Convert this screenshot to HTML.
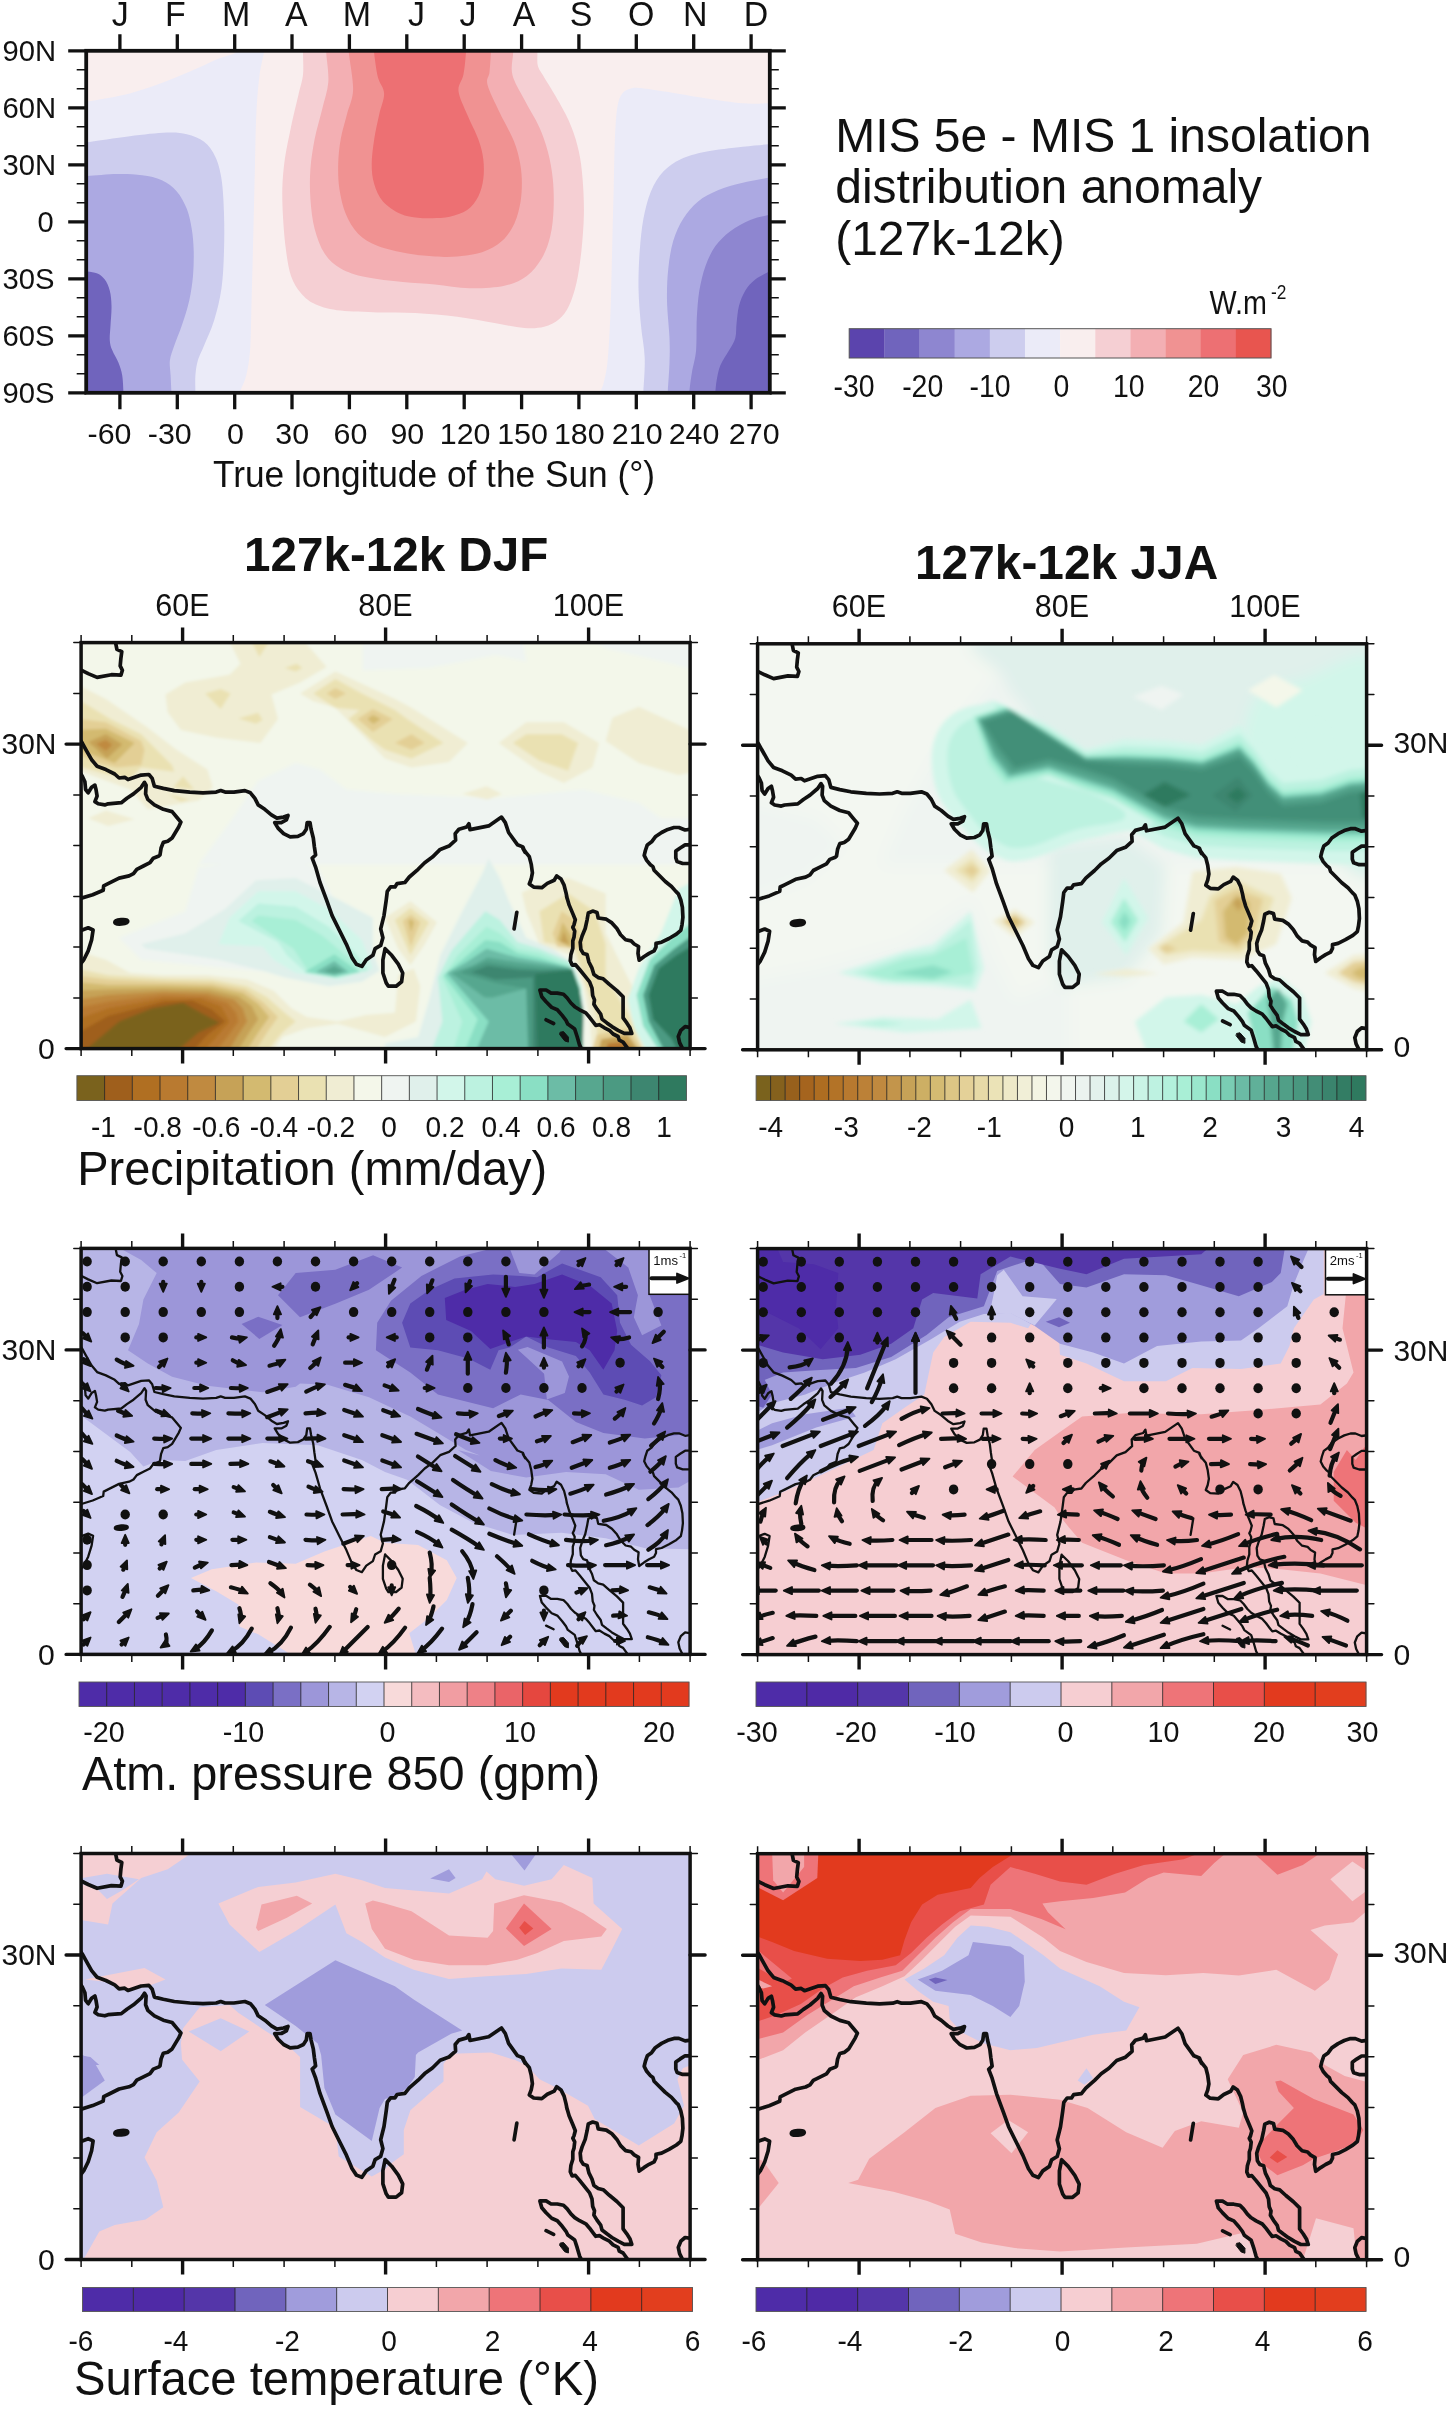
<!DOCTYPE html><html><head><meta charset="utf-8"><title>Figure</title><style>html,body{margin:0;padding:0;background:#fff}svg{display:block}text{font-family:"Liberation Sans",sans-serif;fill:#111}svg{opacity:0.9999}</style></head><body>
<svg width="1450" height="2410" viewBox="0 0 1450 2410">
<rect width="1450" height="2410" fill="#fff"/>
<defs><g id="coast" fill="none" stroke="#111" stroke-linejoin="round" stroke-linecap="round"><path d="M34.7 -1.0 L34.7 1.2 L35.8 6.7 L40.7 9.0 L39.8 15.6 L39.1 23.3 L41.3 27.7 L39.8 32.6 L30.3 32.1 L16.0 34.8 L7.1 31.0 L-1.7 26.6 M-1.7 96.1 L1.2 100.5 L4.9 107.2 L10.5 117.1 L16.0 123.7 L24.8 127.0 L33.6 131.4 L38.0 135.4 L43.6 134.7 L46.9 137.0 L53.5 134.7 L60.1 132.5 L67.8 131.9 L71.1 135.8 L73.3 143.6 L82.2 145.8 L93.2 148.0 L108.7 149.5 L121.9 150.2 L135.1 149.5 L139.6 148.0 L144.0 149.5 L152.8 149.5 L163.8 148.0 L169.3 150.2 L173.8 155.7 L177.1 162.3 L183.7 166.7 L190.3 172.3 L195.8 175.6 L202.5 174.5 L206.9 172.9 L205.3 177.3 L200.2 180.0 L193.6 180.0 L196.9 185.5 L202.5 191.0 L209.1 194.3 L216.8 193.7 L222.3 191.0 L225.2 186.6 L226.1 180.0 L228.9 180.0 L230.0 186.6 L232.2 195.4 L233.3 204.3 L234.5 212.4 L231.1 215.6 L234.5 224.5 L238.9 239.9 L245.5 257.6 L251.0 273.0 L258.7 288.5 L265.3 301.7 L270.9 315.0 L275.3 321.6 L280.8 323.8 L285.2 317.2 L291.8 312.7 L294.0 306.1 L299.6 302.8 L301.8 295.1 L299.6 286.3 L302.9 273.0 L305.1 257.6 L306.2 248.7 L309.5 244.3 L313.9 244.3 L316.0 241.0 L323.8 239.9 L328.2 234.4 L337.0 226.7 L343.6 220.1 L351.3 214.5 L359.1 206.8 L367.9 203.5 L374.5 197.6 L374.1 191.0 L377.8 186.6 L385.6 184.4 L387.8 181.1 L388.9 187.0 L407.6 183.3 L420.4 174.5 L424.2 180.0 L427.5 189.9 L436.3 202.1 L441.8 204.3 L444.0 209.8 L441.8 205.7 L445.1 210.3 L448.2 214.1 L450.1 221.5 L451.3 230.2 L450.1 236.4 L448.2 241.4 L452.6 244.5 L460.7 245.1 L466.2 240.8 L473.1 237.6 L475.6 233.3 L479.9 236.4 L483.0 242.6 L484.9 250.1 L486.1 256.1 L485.5 253.6 L488.0 262.3 L491.7 271.0 L494.2 277.2 L492.9 282.2 L491.7 284.7 L493.6 288.4 L492.9 294.6 L491.7 298.3 L491.7 305.8 L489.8 312.0 L489.2 318.2 L491.1 322.5 L494.2 321.9 L498.5 326.9 L503.5 333.1 L508.5 339.3 L510.9 345.5 L511.6 353.0 L513.4 357.3 L512.8 361.6 L515.9 366.6 L519.6 371.6 L520.9 376.5 L525.8 380.3 L530.8 384.0 L537.0 387.7 L543.2 390.8 L550.7 390.8 L548.8 385.2 L545.7 380.3 L542.0 375.3 L542.0 365.4 L542.0 354.2 L535.8 348.0 L528.3 341.8 L522.1 336.2 L517.1 335.0 L512.8 331.9 L510.9 325.6 L507.8 319.4 L506.0 312.0 L502.2 310.8 L499.8 307.0 L499.1 299.6 L501.0 293.4 L504.1 285.9 L506.0 277.2 L507.2 270.4 L511.6 268.5 L515.9 269.8 L517.1 275.4 L525.2 276.6 L530.8 280.3 L535.8 285.9 L539.5 292.1 L544.5 297.1 L550.0 298.3 L553.1 301.4 L557.5 303.9 L556.9 310.8 L558.1 317.6 L563.1 313.9 L568.0 310.8 L573.0 308.3 L574.9 304.5 L574.9 300.8 L580.5 299.6 L587.9 295.9 L595.3 291.5 L599.7 287.8 L600.9 282.2 L601.8 274.8 L601.3 264.8 L599.7 257.4 L597.2 251.2 L594.7 248.8 L590.4 243.9 L584.2 238.9 L578.0 232.7 L573.0 227.7 L571.8 224.0 L569.3 222.1 L565.6 217.8 L563.1 212.8 L564.3 207.9 L566.2 202.3 L570.5 199.2 L574.2 194.2 L580.5 189.9 L586.7 186.8 L592.9 184.9 L597.8 184.9 L604.0 187.4 L610.2 186.5 M-1.7 129.2 L1.2 133.6 L3.8 139.2 L4.5 146.9 L7.1 150.2 L10.5 144.7 L13.8 142.5 L14.9 146.9 L16.0 153.5 L13.8 159.0 L17.1 161.2 L23.7 162.3 L27.0 161.2 L40.2 160.1 L45.8 155.7 L52.4 151.3 L60.1 144.7 L63.4 139.8 L65.0 142.5 L64.5 151.3 L66.7 156.8 L73.3 162.3 L82.2 166.7 L91.0 169.0 L96.5 175.6 L99.8 179.5 L97.6 184.4 L94.3 189.9 L91.0 195.4 L86.6 198.7 L82.2 199.8 L80.0 205.4 L78.9 212.4 L77.8 213.4 L72.2 215.6 L68.9 220.1 L62.3 223.4 L55.7 226.7 L52.4 231.1 L48.0 233.3 L38.0 235.5 L27.0 241.0 L22.6 243.2 L22.1 247.6 L11.6 252.1 L-1.7 256.2 M-1.7 288.5 L1.2 287.4 L7.1 285.2 L12.0 287.4 L10.5 297.3 L7.1 308.3 L2.7 317.2 L-1.7 322.7 M304.0 306.1 L310.6 312.7 L317.2 321.6 L321.6 330.4 L320.5 339.2 L315.0 343.6 L307.3 343.6 L305.1 340.3 L301.8 330.4 L301.8 317.2 L304.0 306.1 M435.7 269.7 L433.0 286.3 M546.9 406.3 L542.0 399.5 L538.2 397.6 L537.0 393.9 L532.0 391.4 L528.3 387.7 L523.3 385.2 L518.4 382.1 L514.7 382.8 L512.2 379.6 L508.5 374.7 L504.7 370.3 L498.5 367.2 L493.6 364.1 L489.8 360.4 L486.1 355.4 L482.4 351.7 L476.2 350.5 L470.0 350.5 L465.0 347.4 L458.8 347.4 L460.7 354.2 L465.0 359.2 L470.6 364.8 L476.2 367.2 L481.1 372.8 L484.9 377.8 L486.7 381.5 L493.6 386.5 L496.0 393.9 L498.5 402.6 L500.4 406.3 M465.0 377.2 L472.5 380.9 M610.2 385.0 L604.0 384.0 L599.7 387.7 L597.2 393.9 L598.5 400.1 L601.6 406.3 M610.2 202.3 L604.0 202.3 L599.1 205.4 L594.7 208.5 L594.7 215.3 L596.0 219.0 L601.6 220.9 L610.2 220.9"/><ellipse cx="40.2" cy="279.2" rx="6.5" ry="2.2" fill="#111" transform="rotate(-5 40.2 279.2)"/><path d="M479.3 389.6 L482.4 389.0 L487.3 394.5 L487.3 399.5 L483.6 398.3 L478.7 392.1Z" fill="#111" stroke-width="1"/></g>
<clipPath id="clip_p1l"><rect x="81.1" y="642.6" width="609.0" height="406.0"/></clipPath>
<clipPath id="clip_p1r"><rect x="757.6" y="643.8" width="609.0" height="406.0"/></clipPath>
<clipPath id="clip_p2l"><rect x="81.1" y="1248.4" width="609.0" height="406.0"/></clipPath>
<clipPath id="clip_p2r"><rect x="757.6" y="1248.6" width="609.0" height="406.0"/></clipPath>
<clipPath id="clip_p3l"><rect x="81.1" y="1853.5" width="609.0" height="406.0"/></clipPath>
<clipPath id="clip_p3r"><rect x="757.6" y="1853.7" width="609.0" height="406.0"/></clipPath></defs>
<clipPath id="clip_top"><rect x="86.2" y="50.8" width="683.5999999999999" height="342.0"/></clipPath>
<g clip-path="url(#clip_top)">
<rect x="86.2" y="50.8" width="683.5999999999999" height="342.0" fill="#f9eeee"/>
<path d="M80.0 102.6C81.2 102.4 79.2 103.1 87.4 101.6C95.7 100.0 116.4 96.8 129.7 93.4C142.9 89.9 155.7 85.1 166.9 81.0C178.1 76.8 188.0 72.3 196.7 68.6C205.4 64.8 212.8 61.1 219.0 58.6C225.2 56.1 230.6 55.1 233.9 53.7C237.2 52.2 238.1 50.6 238.9 49.9 L265.0 49.9 " fill="none"/>
<path d="M80.0 102.6C81.2 102.4 79.2 103.1 87.4 101.6C95.7 100.0 116.4 96.8 129.7 93.4C142.9 89.9 155.7 85.1 166.9 81.0C178.1 76.8 188.0 72.3 196.7 68.6C205.4 64.8 212.8 61.1 219.0 58.6C225.2 56.1 230.6 55.1 233.9 53.7C237.2 52.2 238.1 50.6 238.9 49.9 L265.0 49.9C264.8 50.6 264.7 49.1 263.7 53.7C262.8 58.2 260.5 67.1 259.3 77.2C258.0 87.4 257.0 100.0 256.3 114.5C255.6 129.0 255.4 147.6 255.0 164.1C254.6 180.7 254.2 197.2 253.8 213.8C253.4 230.3 253.0 246.9 252.6 263.4C252.1 280.0 251.7 298.6 251.3 313.1C250.9 327.6 250.9 340.0 250.1 350.3C249.2 360.7 248.0 368.3 246.3 375.2C244.7 382.0 241.4 387.6 240.1 391.3C238.9 395.0 239.1 396.5 238.9 397.5 L80.0 397.5Z" fill="#ebebf8"/>
<path d="M80.0 143.3C81.2 143.1 79.2 143.4 87.4 142.3C95.7 141.1 116.4 137.9 129.7 136.3C142.9 134.7 157.4 132.9 166.9 132.6C176.4 132.3 180.6 132.8 186.8 134.3C193.0 135.9 199.4 138.1 204.1 141.8C208.9 145.5 212.4 150.5 215.3 156.7C218.2 162.9 220.1 169.5 221.5 179.0C223.0 188.6 223.6 201.8 224.0 213.8C224.4 225.8 224.4 238.6 224.0 251.0C223.6 263.4 223.2 276.7 221.5 288.3C219.9 299.9 217.0 311.0 214.1 320.6C211.2 330.1 206.8 338.8 204.1 345.4C201.4 352.0 199.4 355.3 197.9 360.3C196.5 365.2 195.9 370.0 195.4 375.2C195.0 380.3 195.4 387.6 195.4 391.3C195.4 395.0 195.4 396.5 195.4 397.5 L195.4 400 L70 400 L70 143.3Z" fill="#cdcdee"/>
<path d="M80.0 176.3C81.2 176.3 81.2 176.4 87.4 176.1C93.7 175.7 108.1 174.2 117.2 174.1C126.3 173.9 134.6 174.3 142.1 175.3C149.5 176.3 156.1 177.6 161.9 180.3C167.7 183.0 172.7 186.7 176.8 191.4C181.0 196.2 184.3 202.6 186.8 208.8C189.2 215.0 190.6 221.7 191.7 228.7C192.9 235.7 193.5 243.2 193.7 251.0C193.9 258.9 193.7 267.6 193.0 275.9C192.2 284.1 191.1 292.4 189.2 300.7C187.4 309.0 184.3 318.1 181.8 325.5C179.3 333.0 176.3 339.6 174.3 345.4C172.4 351.2 170.5 355.3 169.9 360.3C169.3 365.2 170.4 370.0 170.6 375.2C170.9 380.3 171.2 387.6 171.4 391.3C171.5 395.0 171.4 396.5 171.4 397.5 L171.4 400 L70 400 L70 176.3Z" fill="#aca9e2"/>
<path d="M80.0 270.9C81.2 271.0 84.6 271.0 87.4 271.4C90.3 271.8 94.5 272.0 97.4 273.4C100.3 274.7 102.8 276.7 104.8 279.6C106.9 282.5 108.7 286.4 109.8 290.8C110.9 295.1 111.4 299.9 111.5 305.7C111.7 311.4 110.8 319.7 110.5 325.5C110.2 331.3 109.5 336.3 109.8 340.4C110.1 344.6 110.8 346.6 112.3 350.3C113.7 354.1 116.8 358.6 118.5 362.8C120.1 366.9 121.4 370.4 122.2 375.2C123.0 379.9 123.2 387.6 123.4 391.3C123.7 395.0 123.7 396.5 123.7 397.5 L123.7 400 L70 400 L70 270.9Z" fill="#7064bd"/>
<path d="M303.0 47.4C303.0 48.5 303.0 49.1 303.0 53.7C303.0 58.2 303.7 67.9 303.0 74.8C302.2 81.6 300.5 85.9 298.5 94.6C296.5 103.3 293.3 116.1 291.0 126.9C288.8 137.7 286.3 148.8 284.8 159.2C283.4 169.5 282.6 179.0 282.3 189.0C282.1 198.9 282.5 208.4 283.1 218.8C283.7 229.1 284.7 241.5 286.1 251.0C287.4 260.6 288.6 268.8 291.0 275.9C293.5 282.9 296.8 288.5 301.0 293.2C305.1 298.0 309.2 301.5 315.9 304.4C322.5 307.3 330.3 309.3 340.7 310.6C351.0 311.9 365.5 311.9 377.9 312.4C390.3 312.8 402.0 312.4 415.2 313.1C428.4 313.8 444.0 315.2 457.2 316.8C470.5 318.5 483.3 321.2 494.5 323.0C505.7 324.9 516.0 327.4 524.3 328.0C532.6 328.6 538.3 328.2 544.1 326.8C549.9 325.3 554.9 322.8 559.0 319.3C563.2 315.8 566.1 311.7 569.0 305.7C571.9 299.7 574.3 292.4 576.4 283.3C578.5 274.2 580.1 262.6 581.4 251.0C582.6 239.4 583.7 225.8 583.9 213.8C584.1 201.8 583.4 189.4 582.6 179.0C581.8 168.7 580.8 160.4 578.9 151.7C577.0 143.0 574.8 135.2 571.4 126.9C568.1 118.6 563.6 110.3 559.0 102.1C554.5 93.8 547.7 83.2 544.1 77.2C540.6 71.2 539.0 70.0 537.9 66.1C536.8 62.1 537.5 56.8 537.4 53.7C537.4 50.6 537.4 48.5 537.4 47.4 L537.4 30 L303.0 30Z" fill="#f5cfd3"/>
<path d="M326.3 47.4C326.3 48.5 326.0 47.9 326.3 53.7C326.6 59.4 329.0 72.9 328.3 82.2C327.6 91.5 324.3 100.0 322.1 109.5C319.8 119.0 316.6 129.4 314.6 139.3C312.7 149.2 311.1 159.2 310.4 169.1C309.7 179.0 309.7 189.0 310.4 198.9C311.1 208.8 312.3 219.6 314.6 228.7C317.0 237.8 320.2 246.9 324.6 253.5C328.9 260.1 333.9 264.5 340.7 268.4C347.5 272.3 355.2 274.8 365.5 277.1C375.9 279.4 391.2 280.8 402.8 282.1C414.3 283.3 423.7 283.5 434.9 284.6C446.0 285.6 458.1 288.1 469.7 288.3C481.2 288.5 494.9 287.9 504.4 285.8C513.9 283.7 520.6 280.4 526.8 275.9C533.0 271.3 537.7 265.1 541.7 258.5C545.6 251.9 548.4 244.4 550.3 236.1C552.3 227.9 553.2 218.3 553.6 208.8C554.0 199.3 553.8 188.6 552.8 179.0C551.9 169.5 550.1 160.4 547.9 151.7C545.6 143.0 543.1 135.6 539.2 126.9C535.2 118.2 528.7 108.3 524.3 99.6C519.8 90.9 514.2 82.4 512.4 74.8C510.5 67.1 513.0 58.2 513.1 53.7C513.2 49.1 513.1 48.5 513.1 47.4 L513.1 30 L326.3 30Z" fill="#f3afb3"/>
<path d="M348.9 47.4C348.9 48.5 348.2 46.6 348.9 53.7C349.6 60.7 353.4 79.5 353.1 89.7C352.8 99.8 349.0 106.2 346.9 114.5C344.8 122.8 342.1 131.0 340.7 139.3C339.2 147.6 338.4 155.9 338.2 164.1C338.0 172.4 338.2 180.7 339.4 189.0C340.7 197.2 342.6 206.3 345.7 213.8C348.8 221.2 352.7 228.3 358.1 233.7C363.4 239.0 369.7 242.8 377.9 246.1C386.2 249.4 398.2 251.8 407.7 253.5C417.2 255.3 426.6 256.0 434.9 256.5C443.1 257.0 449.4 257.2 457.2 256.5C465.1 255.8 474.6 254.8 482.1 252.3C489.5 249.7 496.6 245.9 501.9 241.1C507.3 236.3 511.2 230.3 514.3 223.7C517.4 217.1 519.3 208.8 520.6 201.4C521.8 193.9 522.0 186.1 521.8 179.0C521.6 172.0 520.8 165.8 519.3 159.2C517.9 152.6 516.4 147.2 513.1 139.3C509.8 131.4 503.7 121.1 499.4 112.0C495.2 102.9 489.2 91.3 487.5 84.7C485.9 78.1 489.0 77.4 489.5 72.3C490.1 67.1 490.6 57.8 490.8 53.7C491.0 49.5 490.8 48.5 490.8 47.4 L490.8 30 L348.9 30Z" fill="#f09292"/>
<path d="M374.2 47.4C374.2 48.5 373.6 48.7 374.2 53.7C374.8 58.6 376.3 70.6 377.9 77.2C379.6 83.9 383.9 87.2 384.1 93.4C384.3 99.6 380.8 106.8 379.2 114.5C377.5 122.1 375.4 131.0 374.2 139.3C373.0 147.6 371.7 156.7 371.7 164.1C371.7 171.6 372.3 177.8 374.2 184.0C376.1 190.2 378.6 196.4 382.9 201.4C387.2 206.3 394.5 211.1 400.3 213.8C406.1 216.5 412.3 217.0 417.7 217.8C423.0 218.5 427.1 218.4 432.4 218.3C437.8 218.1 444.0 218.1 449.8 216.8C455.6 215.4 462.4 213.5 467.2 210.1C471.9 206.7 475.7 201.6 478.3 196.4C481.0 191.2 482.5 185.2 483.3 179.0C484.1 172.8 484.1 165.8 483.3 159.2C482.5 152.6 481.0 146.8 478.3 139.3C475.7 131.9 470.5 122.6 467.2 114.5C463.9 106.4 459.1 97.5 458.5 90.9C457.9 84.3 462.2 81.0 463.4 74.8C464.7 68.6 465.5 58.2 465.9 53.7C466.3 49.1 465.9 48.5 465.9 47.4 L465.9 30 L374.2 30Z" fill="#ed7073"/>
<path d="M777.5 103.6C776.0 103.5 774.1 103.4 768.3 103.3C762.5 103.3 753.2 104.1 742.8 103.3C732.3 102.5 717.9 100.2 705.5 98.3C693.1 96.5 678.6 93.8 668.3 92.1C657.9 90.5 649.7 89.0 643.4 88.4C637.2 87.8 634.6 87.6 631.0 88.4C627.5 89.2 624.6 90.3 622.3 93.4C620.1 96.5 618.6 99.4 617.4 107.0C616.1 114.7 615.5 125.7 614.9 139.3C614.3 153.0 614.1 172.4 613.7 189.0C613.2 205.5 612.8 222.1 612.4 238.6C612.0 255.2 611.6 273.8 611.2 288.3C610.8 302.8 610.6 313.1 609.9 325.5C609.3 337.9 608.5 353.2 607.4 362.8C606.4 372.3 604.8 377.9 603.7 382.6C602.6 387.4 601.4 388.8 600.7 391.3C600.1 393.8 600.1 396.5 600.0 397.5 L600.0 400 L790 400 L790 103.6Z" fill="#ebebf8"/>
<path d="M777.5 143.8C776.0 143.9 774.1 143.8 768.3 144.3C762.5 144.8 753.2 145.5 742.8 146.8C732.3 148.0 715.9 149.7 705.5 151.7C695.2 153.8 687.7 155.9 680.7 159.2C673.7 162.5 668.3 166.2 663.3 171.6C658.3 177.0 654.2 183.6 650.9 191.4C647.6 199.3 645.3 208.8 643.4 218.8C641.6 228.7 640.6 239.4 639.7 251.0C638.9 262.6 638.3 275.9 638.5 288.3C638.7 300.7 639.9 313.9 641.0 325.5C642.0 337.1 644.3 346.8 644.7 357.8C645.1 368.8 643.7 384.7 643.4 391.3C643.2 397.9 643.4 396.5 643.4 397.5 L643.4 400 L790 400 L790 143.8Z" fill="#cdcdee"/>
<path d="M777.5 176.1C776.0 176.3 774.1 176.7 768.3 177.8C762.5 178.9 751.2 180.7 742.8 182.8C734.4 184.8 725.4 187.1 717.9 190.2C710.5 193.3 703.9 196.6 698.1 201.4C692.3 206.1 687.3 212.1 683.2 218.8C679.0 225.4 675.7 232.8 673.2 241.1C670.8 249.4 669.3 258.5 668.3 268.4C667.2 278.3 666.8 289.1 667.0 300.7C667.2 312.3 669.1 327.6 669.5 337.9C669.9 348.3 669.8 353.9 669.5 362.8C669.2 371.7 668.1 385.5 667.8 391.3C667.5 397.1 667.8 396.5 667.8 397.5 L667.8 400 L790 400 L790 176.1Z" fill="#aca9e2"/>
<path d="M777.5 213.0C776.0 213.4 772.9 213.9 768.3 215.0C763.8 216.2 756.5 217.3 750.2 220.0C743.9 222.7 736.1 226.8 730.3 231.2C724.6 235.5 719.6 240.3 715.4 246.1C711.3 251.9 708.2 258.5 705.5 265.9C702.8 273.4 700.8 282.1 699.3 290.8C697.9 299.4 697.4 308.1 696.8 318.1C696.3 328.0 696.9 341.2 696.1 350.3C695.3 359.4 693.0 365.9 691.9 372.7C690.7 379.5 689.8 387.2 689.4 391.3C689.0 395.4 689.4 396.5 689.4 397.5 L689.4 400 L790 400 L790 213.0Z" fill="#8e86d0"/>
<path d="M777.5 267.2C776.0 268.0 772.1 270.1 768.3 272.1C764.6 274.2 759.0 276.5 755.2 279.6C751.3 282.7 747.9 286.4 745.2 290.8C742.6 295.1 740.5 300.3 739.0 305.7C737.6 311.0 737.2 317.7 736.6 323.0C735.9 328.4 736.6 333.4 735.3 337.9C734.1 342.5 731.6 345.8 729.1 350.3C726.6 354.9 722.5 360.3 720.4 365.2C718.3 370.2 717.5 375.8 716.7 380.1C715.9 384.5 715.7 388.4 715.4 391.3C715.2 394.2 715.4 396.5 715.4 397.5 L715.4 400 L790 400 L790 267.2Z" fill="#7064bd"/>
</g>
<rect x="86.2" y="50.8" width="683.5999999999999" height="342.0" fill="none" stroke="#111" stroke-width="3.8"/>
<path d="M119.9 50.8v-16.5M119.9 392.8v16.5M177.3 50.8v-16.5M177.3 392.8v16.5M234.7 50.8v-16.5M234.7 392.8v16.5M292.0 50.8v-16.5M292.0 392.8v16.5M349.4 50.8v-16.5M349.4 392.8v16.5M406.8 50.8v-16.5M406.8 392.8v16.5M464.2 50.8v-16.5M464.2 392.8v16.5M521.6 50.8v-16.5M521.6 392.8v16.5M578.9 50.8v-16.5M578.9 392.8v16.5M636.3 50.8v-16.5M636.3 392.8v16.5M693.7 50.8v-16.5M693.7 392.8v16.5M751.1 50.8v-16.5M751.1 392.8v16.5" stroke="#111" stroke-width="3.3" fill="none"/>
<text x="120.3" y="25.6" font-size="35" text-anchor="middle" font-weight="normal" textLength="17.0" lengthAdjust="spacingAndGlyphs" >J</text>
<text x="175.4" y="25.6" font-size="35" text-anchor="middle" font-weight="normal" textLength="20.7" lengthAdjust="spacingAndGlyphs" >F</text>
<text x="236.1" y="25.6" font-size="35" text-anchor="middle" font-weight="normal" textLength="28.3" lengthAdjust="spacingAndGlyphs" >M</text>
<text x="296.3" y="25.6" font-size="35" text-anchor="middle" font-weight="normal" textLength="22.6" lengthAdjust="spacingAndGlyphs" >A</text>
<text x="357.0" y="25.6" font-size="35" text-anchor="middle" font-weight="normal" textLength="28.3" lengthAdjust="spacingAndGlyphs" >M</text>
<text x="416.6" y="25.6" font-size="35" text-anchor="middle" font-weight="normal" textLength="17.0" lengthAdjust="spacingAndGlyphs" >J</text>
<text x="467.9" y="25.6" font-size="35" text-anchor="middle" font-weight="normal" textLength="17.0" lengthAdjust="spacingAndGlyphs" >J</text>
<text x="524.1" y="25.6" font-size="35" text-anchor="middle" font-weight="normal" textLength="22.6" lengthAdjust="spacingAndGlyphs" >A</text>
<text x="581.0" y="25.6" font-size="35" text-anchor="middle" font-weight="normal" textLength="22.6" lengthAdjust="spacingAndGlyphs" >S</text>
<text x="641.1" y="25.6" font-size="35" text-anchor="middle" font-weight="normal" textLength="26.4" lengthAdjust="spacingAndGlyphs" >O</text>
<text x="695.2" y="25.6" font-size="35" text-anchor="middle" font-weight="normal" textLength="24.5" lengthAdjust="spacingAndGlyphs" >N</text>
<text x="755.9" y="25.6" font-size="35" text-anchor="middle" font-weight="normal" textLength="24.5" lengthAdjust="spacingAndGlyphs" >D</text>
<text x="109.5" y="444.4" font-size="30.4" text-anchor="middle" font-weight="normal" textLength="43.9" lengthAdjust="spacingAndGlyphs" >-60</text>
<text x="169.8" y="444.4" font-size="30.4" text-anchor="middle" font-weight="normal" textLength="43.9" lengthAdjust="spacingAndGlyphs" >-30</text>
<text x="235.4" y="444.4" font-size="30.4" text-anchor="middle" font-weight="normal" textLength="16.9" lengthAdjust="spacingAndGlyphs" >0</text>
<text x="292.2" y="444.4" font-size="30.4" text-anchor="middle" font-weight="normal" textLength="33.8" lengthAdjust="spacingAndGlyphs" >30</text>
<text x="350.5" y="444.4" font-size="30.4" text-anchor="middle" font-weight="normal" textLength="33.8" lengthAdjust="spacingAndGlyphs" >60</text>
<text x="407.3" y="444.4" font-size="30.4" text-anchor="middle" font-weight="normal" textLength="33.8" lengthAdjust="spacingAndGlyphs" >90</text>
<text x="465.1" y="444.4" font-size="30.4" text-anchor="middle" font-weight="normal" textLength="50.7" lengthAdjust="spacingAndGlyphs" >120</text>
<text x="522.5" y="444.4" font-size="30.4" text-anchor="middle" font-weight="normal" textLength="50.7" lengthAdjust="spacingAndGlyphs" >150</text>
<text x="579.3" y="444.4" font-size="30.4" text-anchor="middle" font-weight="normal" textLength="50.7" lengthAdjust="spacingAndGlyphs" >180</text>
<text x="637.2" y="444.4" font-size="30.4" text-anchor="middle" font-weight="normal" textLength="50.7" lengthAdjust="spacingAndGlyphs" >210</text>
<text x="694.0" y="444.4" font-size="30.4" text-anchor="middle" font-weight="normal" textLength="50.7" lengthAdjust="spacingAndGlyphs" >240</text>
<text x="754.2" y="444.4" font-size="30.4" text-anchor="middle" font-weight="normal" textLength="50.7" lengthAdjust="spacingAndGlyphs" >270</text>
<path d="M86.2 50.8h-18M769.8 50.8h16M86.2 107.8h-18M769.8 107.8h16M86.2 164.8h-18M769.8 164.8h16M86.2 221.8h-18M769.8 221.8h16M86.2 278.8h-18M769.8 278.8h16M86.2 335.8h-18M769.8 335.8h16M86.2 392.8h-18M769.8 392.8h16" stroke="#111" stroke-width="3.3" fill="none"/>
<path d="M86.2 69.8h-9.5M769.8 69.8h9M86.2 88.8h-9.5M769.8 88.8h9M86.2 126.8h-9.5M769.8 126.8h9M86.2 145.8h-9.5M769.8 145.8h9M86.2 183.8h-9.5M769.8 183.8h9M86.2 202.8h-9.5M769.8 202.8h9M86.2 240.8h-9.5M769.8 240.8h9M86.2 259.8h-9.5M769.8 259.8h9M86.2 297.8h-9.5M769.8 297.8h9M86.2 316.8h-9.5M769.8 316.8h9M86.2 354.8h-9.5M769.8 354.8h9M86.2 373.8h-9.5M769.8 373.8h9" stroke="#111" stroke-width="1.6" fill="none"/>
<text x="2.5" y="60.7" font-size="29.8" text-anchor="start" font-weight="normal" textLength="53.6" lengthAdjust="spacingAndGlyphs" >90N</text>
<text x="2.5" y="117.7" font-size="29.8" text-anchor="start" font-weight="normal" textLength="53.6" lengthAdjust="spacingAndGlyphs" >60N</text>
<text x="2.5" y="174.7" font-size="29.8" text-anchor="start" font-weight="normal" textLength="53.6" lengthAdjust="spacingAndGlyphs" >30N</text>
<text x="37.5" y="231.7" font-size="29.8" text-anchor="start" font-weight="normal" textLength="16.2" lengthAdjust="spacingAndGlyphs" >0</text>
<text x="2.5" y="288.7" font-size="29.8" text-anchor="start" font-weight="normal" textLength="52.0" lengthAdjust="spacingAndGlyphs" >30S</text>
<text x="2.5" y="345.7" font-size="29.8" text-anchor="start" font-weight="normal" textLength="52.0" lengthAdjust="spacingAndGlyphs" >60S</text>
<text x="2.5" y="402.7" font-size="29.8" text-anchor="start" font-weight="normal" textLength="52.0" lengthAdjust="spacingAndGlyphs" >90S</text>
<text x="213" y="486.8" font-size="36.2" text-anchor="start" font-weight="normal" textLength="442" lengthAdjust="spacingAndGlyphs" >True longitude of the Sun (°)</text>
<text x="835.2" y="151.7" font-size="48" text-anchor="start" font-weight="normal" >MIS 5e - MIS 1 insolation</text>
<text x="835.2" y="203.2" font-size="48" text-anchor="start" font-weight="normal" >distribution anomaly</text>
<text x="835.2" y="254.8" font-size="48" text-anchor="start" font-weight="normal" >(127k-12k)</text>
<rect x="849.20" y="328.7" width="35.45" height="29.3" fill="#5b44ad"/>
<rect x="884.35" y="328.7" width="35.45" height="29.3" fill="#7064bd"/>
<rect x="919.50" y="328.7" width="35.45" height="29.3" fill="#8e86d0"/>
<rect x="954.65" y="328.7" width="35.45" height="29.3" fill="#aca9e2"/>
<rect x="989.80" y="328.7" width="35.45" height="29.3" fill="#cdcdee"/>
<rect x="1024.95" y="328.7" width="35.45" height="29.3" fill="#ebebf8"/>
<rect x="1060.10" y="328.7" width="35.45" height="29.3" fill="#f9eeee"/>
<rect x="1095.25" y="328.7" width="35.45" height="29.3" fill="#f5cfd3"/>
<rect x="1130.40" y="328.7" width="35.45" height="29.3" fill="#f3afb3"/>
<rect x="1165.55" y="328.7" width="35.45" height="29.3" fill="#f09292"/>
<rect x="1200.70" y="328.7" width="35.45" height="29.3" fill="#ed7073"/>
<rect x="1235.85" y="328.7" width="35.45" height="29.3" fill="#e8554f"/>
<rect x="849.2" y="328.7" width="421.8" height="29.3" fill="none" stroke="#555" stroke-width="1"/>
<text x="854" y="397.1" font-size="31.6" text-anchor="middle" font-weight="normal" textLength="41.1" lengthAdjust="spacingAndGlyphs" >-30</text>
<text x="922.7" y="397.1" font-size="31.6" text-anchor="middle" font-weight="normal" textLength="41.1" lengthAdjust="spacingAndGlyphs" >-20</text>
<text x="990.1" y="397.1" font-size="31.6" text-anchor="middle" font-weight="normal" textLength="41.1" lengthAdjust="spacingAndGlyphs" >-10</text>
<text x="1061.5" y="397.1" font-size="31.6" text-anchor="middle" font-weight="normal" textLength="15.8" lengthAdjust="spacingAndGlyphs" >0</text>
<text x="1128.7" y="397.1" font-size="31.6" text-anchor="middle" font-weight="normal" textLength="31.6" lengthAdjust="spacingAndGlyphs" >10</text>
<text x="1203.5" y="397.1" font-size="31.6" text-anchor="middle" font-weight="normal" textLength="31.6" lengthAdjust="spacingAndGlyphs" >20</text>
<text x="1271.7" y="397.1" font-size="31.6" text-anchor="middle" font-weight="normal" textLength="31.6" lengthAdjust="spacingAndGlyphs" >30</text>
<text x="1209.5" y="314.4" font-size="33" text-anchor="start" font-weight="normal" textLength="57.4" lengthAdjust="spacingAndGlyphs" >W.m</text>
<text x="1271" y="299" font-size="19.3" text-anchor="start" font-weight="normal" textLength="15.4" lengthAdjust="spacingAndGlyphs" >-2</text>
<filter id="blur3" x="-5%" y="-5%" width="110%" height="110%"><feGaussianBlur stdDeviation="1.5"/></filter>
<filter id="blur8" x="-10%" y="-10%" width="120%" height="120%"><feGaussianBlur stdDeviation="7"/></filter>
<filter id="blur5" x="-5%" y="-5%" width="110%" height="110%"><feGaussianBlur stdDeviation="2.0"/></filter>
<g clip-path="url(#clip_p1l)"><g filter="url(#blur3)">
<rect x="41.099999999999994" y="602.6" width="689.0" height="486.0" fill="#f3f7ea"/>
<path d="M198.6 864.5 L229.5 822.6 L258.2 780.7 L295.7 763.0 L320.0 769.6 L346.4 789.5 L395.0 793.9 L495.3 798.3 L583.6 789.5 L638.8 802.7 L660.9 818.2 L694.0 818.2 L694.0 864.5Z" fill="#eff4f1"/>
<path d="M362.9 635.0 L521.8 635.0 L526.2 661.5 L495.3 654.9 L429.1 668.1 L362.9 670.3Z" fill="#eff4f1"/>
<path d="M583.6 635.0 L694.0 635.0 L694.0 670.3 L671.9 663.7 L605.7 648.2Z" fill="#eff4f1"/>
<path d="M119.1 937.7 L185.3 911.2 L198.6 867.1 L273.6 858.2 L317.8 867.1 L339.8 911.2 L339.8 977.4 L229.5 968.6 L141.2 959.8Z" fill="#eff4f1"/>
<path d="M70.6 681.3 L105.9 699.0 L147.8 727.7 L176.5 749.8 L207.4 769.6 L212.9 787.3 L198.6 800.5 L147.8 809.3 L130.2 789.5 L70.6 767.4Z" fill="#f0edd3"/>
<path d="M70.6 694.6 L110.3 718.9 L141.2 734.3 L172.1 765.2 L174.3 771.8 L141.2 767.4 L130.2 778.4 L105.9 774.0 L70.6 764.1Z" fill="#eae1b2"/>
<path d="M70.6 717.8 L105.9 722.2 L141.2 740.9 L144.5 749.8 L141.2 765.2 L116.9 767.4 L97.1 763.0 L70.6 750.9Z" fill="#e3cf95"/>
<path d="M70.6 730.3 L105.9 728.8 L134.6 743.1 L114.7 763.0 L70.6 746.4Z" fill="#d3ba70"/>
<path d="M88.2 742.0 L105.9 734.3 L122.4 744.2 L107.0 758.6Z" fill="#c6a257"/>
<path d="M96.0 743.8 L105.9 739.8 L112.5 744.7 L105.9 750.9Z" fill="#c08a40"/>
<path d="M173.2 787.3 L183.1 776.2 L194.2 789.5Z" fill="#eae1b2"/>
<path d="M167.7 793.9 L189.8 799.4 L180.9 801.6Z" fill="#eae1b2"/>
<path d="M88.2 818.2 L105.9 810.4 L134.6 819.3 L108.1 825.9Z" fill="#f0edd3"/>
<path d="M165.5 694.6 L185.3 682.4 L229.5 674.7 L240.5 663.7 L229.5 641.6 L304.5 641.6 L326.6 667.0 L300.1 682.4 L271.4 694.6 L278.0 718.9 L260.4 743.1 L216.2 737.6 L180.9 729.9 L167.7 712.2Z" fill="#f0edd3"/>
<path d="M205.2 693.5 L220.7 689.1 L230.6 693.5 L220.7 708.9Z" fill="#eae1b2"/>
<path d="M238.3 718.4 L258.2 712.7 L262.6 720.0 L256.0 723.7Z" fill="#eae1b2"/>
<path d="M251.6 641.6 L269.2 641.6 L259.3 657.1Z" fill="#eae1b2"/>
<path d="M284.7 668.1 L296.8 663.7 L302.3 668.1 L295.7 671.4Z" fill="#eae1b2"/>
<path d="M300.1 693.5 L335.4 671.4 L395.0 699.0 L411.5 707.8 L467.8 743.1 L449.0 761.9 L411.5 767.4 L385.0 758.6 L347.6 720.0 L335.4 707.8 L313.3 701.2Z" fill="#f0edd3"/>
<path d="M313.3 693.5 L335.4 679.1 L361.9 693.5 L372.9 699.0 L395.0 710.0 L407.1 718.9 L443.5 743.1 L411.5 758.6 L385.0 749.8 L372.9 740.9 L348.7 718.9 L359.7 710.0 L335.4 707.8Z" fill="#eae1b2"/>
<path d="M326.6 693.5 L335.4 688.0 L346.0 693.5 L335.4 699.0Z" fill="#e3cf95"/>
<path d="M357.5 718.9 L372.9 708.9 L392.8 718.9 L372.9 732.1Z" fill="#e3cf95"/>
<path d="M394.9 743.1 L411.5 734.3 L424.7 743.1 L411.5 749.8Z" fill="#e3cf95"/>
<path d="M367.4 718.9 L372.9 714.9 L380.7 718.9 L373.4 723.9Z" fill="#d3ba70"/>
<path d="M498.7 743.1 L526.2 722.2 L563.8 722.2 L599.1 743.1 L592.4 767.4 L563.8 782.9 L539.5 771.8Z" fill="#f0edd3"/>
<path d="M513.0 743.1 L526.2 734.3 L561.6 734.3 L578.1 743.1 L568.2 770.7 L539.5 760.8Z" fill="#eae1b2"/>
<path d="M605.7 740.9 L612.3 717.8 L638.8 706.7 L694.0 732.1 L694.0 771.8 L678.5 775.1 L638.8 763.0Z" fill="#f0edd3"/>
<path d="M462.2 793.9 L486.5 786.2 L502.0 793.9 L487.6 799.4Z" fill="#f0edd3"/>
<path d="M141.2 944.3 L185.3 933.3 L225.1 909.0 L256.0 880.3 L295.7 878.1 L339.8 900.2 L372.9 917.8 L372.9 950.9 L379.6 970.8 L361.9 981.8 L328.8 986.2 L284.7 977.4 L262.6 970.8 L218.4 959.8 L174.3 953.1 L145.6 948.7Z" fill="#e0f0eb"/>
<path d="M218.4 944.3 L229.5 917.8 L258.2 891.3 L295.7 891.3 L328.8 909.0 L361.9 939.9 L372.9 968.6 L339.8 979.6 L295.7 973.0 L273.6 959.8 L262.6 946.5Z" fill="#d2f6ea"/>
<path d="M238.3 921.1 L258.2 903.5 L295.7 906.8 L328.8 926.7 L357.5 955.3 L368.5 970.8 L339.8 976.3 L306.7 973.0 L286.9 955.3 L278.0 942.1Z" fill="#bcf2e0"/>
<path d="M251.6 921.1 L258.2 915.6 L295.7 920.0 L322.2 935.5 L350.9 959.8 L359.7 970.8 L335.4 975.2 L308.9 971.9 L293.5 948.7Z" fill="#a8efd6"/>
<path d="M304.5 971.9 L334.3 954.2 L359.7 971.9 L335.4 977.4Z" fill="#8adfc4"/>
<path d="M315.6 971.9 L334.3 960.9 L348.7 971.9 L334.3 975.2Z" fill="#6cbca6"/>
<path d="M323.9 971.5 L334.3 965.9 L343.8 971.5 L334.3 973.7Z" fill="#57a78f"/>
<path d="M70.6 948.7 L105.9 959.8 L130.2 973.0 L163.3 975.2 L207.4 975.2 L247.1 979.6 L273.6 990.7 L291.3 1008.3 L306.7 1017.1 L337.6 1021.6 L366.3 1014.9 L395.0 1012.7 L398.2 975.2 L413.7 968.6 L420.3 986.2 L415.9 1021.6 L385.0 1037.0 L361.9 1030.4 L337.6 1023.8 L306.7 1028.2 L282.4 1037.0 L269.2 1056.9 L70.6 1056.9Z" fill="#f0edd3"/>
<path d="M70.6 967.5 L108.1 975.2 L163.3 978.5 L211.8 979.6 L247.1 986.2 L267.0 997.3 L284.7 1012.7 L295.7 1021.6 L282.4 1032.6 L262.6 1056.9 L70.6 1056.9Z" fill="#eae1b2"/>
<path d="M70.6 974.8 L108.1 979.6 L163.3 981.8 L211.8 982.9 L244.9 989.6 L262.6 1001.7 L278.0 1017.1 L267.0 1032.6 L251.6 1056.9 L70.6 1056.9Z" fill="#e3cf95"/>
<path d="M70.6 981.4 L108.1 985.1 L163.3 985.1 L211.8 986.2 L242.7 992.9 L258.2 1003.9 L269.2 1017.1 L258.2 1032.6 L242.7 1056.9 L70.6 1056.9Z" fill="#d3ba70"/>
<path d="M70.6 990.7 L108.1 989.6 L163.3 988.4 L209.6 989.6 L238.3 996.2 L251.6 1006.1 L258.2 1019.3 L249.3 1032.6 L233.9 1056.9 L70.6 1056.9Z" fill="#c6a257"/>
<path d="M70.6 1000.6 L108.1 995.1 L163.3 991.8 L207.4 992.9 L233.9 999.5 L242.7 1008.3 L247.1 1021.6 L238.3 1034.8 L225.1 1056.9 L70.6 1056.9Z" fill="#c08a40"/>
<path d="M70.6 1009.4 L108.1 1001.7 L163.3 995.1 L205.2 996.2 L227.3 1002.8 L236.1 1012.7 L238.3 1021.6 L227.3 1037.0 L211.8 1056.9 L70.6 1056.9Z" fill="#b97a30"/>
<path d="M70.6 1021.6 L108.1 1008.3 L163.3 998.4 L200.8 998.4 L220.7 1006.1 L229.5 1021.6 L216.2 1037.0 L198.6 1056.9 L70.6 1056.9Z" fill="#b06f22"/>
<path d="M70.6 1037.0 L108.1 1016.0 L163.3 1001.7 L192.0 1000.6 L211.8 1009.4 L225.1 1021.6 L207.4 1034.8 L187.6 1056.9 L70.6 1056.9Z" fill="#9f5f1c"/>
<path d="M77.2 1056.9 L119.1 1021.6 L152.2 1008.3 L183.1 1002.8 L198.6 1011.6 L219.6 1022.7 L198.6 1032.6 L169.9 1056.9Z" fill="#7a621d"/>
<path d="M385.0 917.8 L410.4 901.3 L436.9 922.2 L424.7 944.3 L410.4 965.3 L398.2 948.7Z" fill="#f0edd3"/>
<path d="M394.9 920.0 L410.4 907.9 L429.1 922.2 L410.4 955.3Z" fill="#eae1b2"/>
<path d="M402.7 921.1 L410.8 914.5 L420.3 922.2 L410.8 946.5Z" fill="#e3cf95"/>
<path d="M408.2 921.1 L410.8 918.9 L414.1 922.2 L411.0 932.2Z" fill="#d3ba70"/>
<path d="M521.8 892.4 L539.5 884.7 L568.2 878.1 L605.7 893.6 L605.7 933.3 L627.8 977.4 L645.4 1012.7 L649.8 1056.9 L592.4 1056.9 L590.2 1021.6 L583.6 986.2 L572.6 955.3 L539.5 944.3 L526.2 911.2Z" fill="#f0edd3"/>
<path d="M539.5 911.2 L568.2 893.6 L594.7 911.2 L605.7 944.3 L605.7 977.4 L627.8 1012.7 L645.4 1056.9 L596.9 1056.9 L596.9 1017.1 L583.6 977.4 L574.8 948.7 L543.9 942.1Z" fill="#eae1b2"/>
<path d="M552.7 933.3 L561.6 911.2 L574.8 920.0 L583.6 946.5 L574.8 948.7 L557.1 946.5Z" fill="#e3cf95"/>
<path d="M557.1 939.9 L562.7 922.2 L572.6 937.7 L570.4 947.6Z" fill="#d3ba70"/>
<path d="M560.4 942.1 L563.8 931.1 L569.3 944.3Z" fill="#c6a257"/>
<path d="M385.0 1056.9 L385.0 1043.6 L418.1 1037.0 L429.1 999.5 L440.2 955.3 L460.0 915.6 L482.1 873.7 L488.7 858.2 L499.8 878.1 L508.6 900.2 L526.2 937.7 L552.7 948.7 L574.8 964.2 L583.6 999.5 L583.6 1056.9Z" fill="#e0f0eb"/>
<path d="M429.1 1056.9 L442.4 1021.6 L438.0 977.4 L451.2 950.9 L477.7 920.0 L485.4 911.2 L499.8 920.0 L517.4 942.1 L539.5 948.7 L570.4 962.0 L581.4 986.2 L583.6 1056.9Z" fill="#bcf2e0"/>
<path d="M451.2 1056.9 L462.2 1021.6 L442.4 977.4 L457.8 955.3 L482.1 931.1 L486.5 926.7 L499.8 933.3 L517.4 948.7 L539.5 953.1 L568.2 964.2 L579.2 986.2 L582.5 1056.9Z" fill="#a8efd6"/>
<path d="M462.2 1056.9 L477.7 1019.3 L443.5 975.2 L462.2 959.8 L485.4 939.9 L499.8 942.1 L517.4 953.1 L539.5 957.6 L568.2 966.4 L579.2 988.4 L582.5 1056.9Z" fill="#8adfc4"/>
<path d="M473.3 1056.9 L488.7 1021.6 L446.8 973.0 L466.7 962.0 L486.5 948.7 L517.4 957.6 L543.9 962.0 L570.4 967.5 L579.2 988.4 L582.5 1056.9Z" fill="#6cbca6"/>
<path d="M526.2 1056.9 L526.2 999.5 L484.3 997.3 L451.2 973.0 L473.3 965.3 L487.6 957.6 L517.4 962.0 L543.9 965.3 L571.5 968.6 L579.2 988.4 L582.5 1056.9Z" fill="#57a78f"/>
<path d="M528.4 1056.9 L526.2 988.4 L495.3 982.9 L460.0 972.6 L486.5 962.0 L517.4 966.4 L543.9 968.6 L571.5 969.0 L579.2 988.4 L582.5 1056.9Z" fill="#4b9a82"/>
<path d="M532.9 1056.9 L532.9 977.4 L495.3 979.6 L471.1 972.3 L487.6 965.7 L517.4 969.7 L539.5 970.8 L572.6 969.7 L579.2 988.4 L582.5 1056.9Z" fill="#3d8670"/>
<path d="M537.3 1056.9 L535.1 974.1 L572.6 969.7 L579.2 988.4 L583.6 1012.7 L582.5 1056.9Z" fill="#2f7a5f"/>
<path d="M485.4 999.5 L526.2 988.4 L528.4 1056.9 L479.9 1056.9 L493.1 1021.6Z" fill="#6cbca6"/>
<path d="M590.2 1056.9 L596.9 1034.8 L627.8 1028.2 L647.6 1056.9Z" fill="#e3cf95"/>
<path d="M596.9 1056.9 L601.3 1039.2 L627.8 1034.8 L643.2 1056.9Z" fill="#c6a257"/>
<path d="M603.5 1056.9 L607.9 1043.6 L625.6 1041.4 L638.8 1056.9Z" fill="#b97a30"/>
<path d="M698.4 878.1 L678.5 889.1 L660.9 933.3 L638.8 968.6 L627.8 999.5 L634.4 1028.2 L649.8 1056.9 L698.4 1056.9Z" fill="#d2f6ea"/>
<path d="M698.4 917.8 L671.9 937.7 L649.8 959.8 L636.6 995.1 L643.2 1026.0 L663.1 1056.9 L698.4 1056.9Z" fill="#8adfc4"/>
<path d="M698.4 931.1 L674.1 948.7 L654.2 965.3 L643.2 995.1 L648.7 1021.6 L667.5 1056.9 L698.4 1056.9Z" fill="#4b9a82"/>
<path d="M698.4 942.1 L676.3 955.3 L658.7 968.6 L648.7 995.1 L653.1 1019.3 L671.9 1039.2 L680.7 1056.9 L698.4 1056.9Z" fill="#2f7a5f"/>
</g></g>
<g clip-path="url(#clip_p1r)"><g filter="url(#blur8)">
<rect x="717.6" y="603.8" width="689.0" height="486.0" fill="#f3f7f1"/>
<path d="M882.4 864.5 L904.5 811.6 L926.6 771.8 L948.6 734.3 L970.7 707.8 L1010.4 657.1 L1036.9 648.2 L1070.0 648.2 L1148.3 635.0 L1369.0 635.0 L1369.0 864.5Z" fill="#eff4f1"/>
<path d="M745.6 800.9 L816.2 818.5 L842.7 845.0 L805.2 878.1 L745.6 900.2Z" fill="#eff4f1"/>
<path d="M745.6 981.8 L816.2 968.6 L904.5 944.3 L970.7 900.2 L992.8 955.3 L1014.8 999.5 L1070.0 977.4 L1070.0 1065.7 L745.6 1065.7Z" fill="#eff4f1"/>
<path d="M1049.0 845.0 L1126.2 836.2 L1165.9 867.1 L1161.5 933.3 L1126.2 977.4 L1060.0 986.2 L1049.0 955.3Z" fill="#e0f0eb"/>
<path d="M1005.0 630.0C1081.0 620.0 1309.0 584.0 1385.0 630.0C1461.0 676.0 1399.0 815.0 1385.0 860.0C1371.0 905.0 1347.0 858.0 1315.0 855.0C1283.0 852.0 1253.0 849.0 1225.0 845.0C1197.0 841.0 1199.0 847.0 1175.0 835.0C1151.0 823.0 1131.0 802.0 1105.0 785.0C1079.0 768.0 1061.0 765.0 1045.0 750.0C1029.0 735.0 1033.0 724.0 1025.0 710.0C1017.0 696.0 1009.0 696.0 1005.0 680.0C1001.0 664.0 929.0 640.0 1005.0 630.0Z" fill="#e0f0eb"/>
<path d="M1255.0 700.0C1266.0 682.0 1274.0 686.0 1300.0 680.0C1326.0 674.0 1368.0 635.0 1385.0 670.0C1402.0 705.0 1397.0 819.0 1385.0 855.0C1373.0 891.0 1347.0 853.0 1325.0 850.0C1303.0 847.0 1291.0 856.0 1275.0 840.0C1259.0 824.0 1249.0 798.0 1245.0 770.0C1241.0 742.0 1244.0 718.0 1255.0 700.0Z" fill="#d2f6ea"/>
</g><g filter="url(#blur5)">
<path d="M962.9 710.6 L993.4 700.6 L1045.5 723.6 L1086.0 749.6 L1124.0 739.0 L1167.5 740.5 L1202.0 744.5 L1239.5 725.0 L1254.0 740.5 L1268.5 761.0 L1283.0 774.0 L1321.0 771.0 L1350.0 761.0 L1390.0 757.5 L1390.0 863.5 L1326.5 863.5 L1283.0 862.0 L1239.5 860.5 L1196.0 858.0 L1164.5 849.0 L1138.5 834.5 L1112.5 820.0 L1086.0 811.5 L1048.5 792.5 L993.8 801.0 L977.8 781.0Z" fill="#d2f6ea"/>
<path d="M968.5 713.8 L999.0 703.8 L1045.5 726.8 L1086.0 752.8 L1124.0 746.0 L1167.5 747.5 L1202.0 751.5 L1239.5 733.8 L1254.0 749.2 L1268.5 769.8 L1283.0 782.8 L1321.0 779.8 L1350.0 769.8 L1390.0 766.2 L1390.0 851.0 L1326.5 851.0 L1283.0 849.5 L1239.5 848.0 L1196.0 845.5 L1164.5 836.5 L1138.5 822.0 L1112.5 807.5 L1086.0 799.0 L1048.5 782.5 L1000.0 791.0 L984.0 771.0Z" fill="#bcf2e0"/>
<path d="M940.0 727.5C950.0 711.5 968.0 704.5 985.0 705.0C1002.0 705.5 1013.0 717.0 1025.0 730.0C1037.0 743.0 1029.0 758.0 1045.0 770.0C1061.0 782.0 1083.0 780.0 1105.0 790.0C1127.0 800.0 1155.0 811.0 1155.0 820.0C1155.0 829.0 1121.0 830.5 1105.0 835.0C1089.0 839.5 1091.0 837.5 1075.0 842.5C1059.0 847.5 1041.0 857.5 1025.0 860.0C1009.0 862.5 1007.0 861.0 995.0 855.0C983.0 849.0 977.0 844.0 965.0 830.0C953.0 816.0 940.0 805.5 935.0 785.0C930.0 764.5 930.0 743.5 940.0 727.5Z" fill="#d2f6ea"/>
<path d="M952.5 735.0C959.5 723.0 973.5 714.0 985.0 720.0C996.5 726.0 998.0 753.0 1010.0 765.0C1022.0 777.0 1028.0 774.0 1045.0 780.0C1062.0 786.0 1079.0 787.5 1095.0 795.0C1111.0 802.5 1129.0 810.5 1125.0 817.5C1121.0 824.5 1095.0 824.0 1075.0 830.0C1055.0 836.0 1041.0 845.5 1025.0 847.5C1009.0 849.5 1006.0 846.5 995.0 840.0C984.0 833.5 979.0 827.0 970.0 815.0C961.0 803.0 953.5 796.0 950.0 780.0C946.5 764.0 945.5 747.0 952.5 735.0Z" fill="#bcf2e0"/>
<path d="M973.3 716.5 L1003.8 706.5 L1045.5 729.5 L1086.0 755.5 L1124.0 752.0 L1167.5 753.5 L1202.0 757.5 L1239.5 741.2 L1254.0 756.8 L1268.5 777.2 L1283.0 790.2 L1321.0 787.2 L1350.0 777.2 L1390.0 773.8 L1390.0 842.0 L1326.5 842.0 L1283.0 840.5 L1239.5 839.0 L1196.0 836.5 L1164.5 827.5 L1138.5 813.0 L1112.5 798.5 L1086.0 790.0 L1048.5 775.3 L1004.5 783.8 L988.5 763.8Z" fill="#a8efd6"/>
<path d="M975.7 717.8 L1006.2 707.8 L1045.5 730.8 L1086.0 756.8 L1124.0 755.0 L1167.5 756.5 L1202.0 760.5 L1239.5 745.0 L1254.0 760.5 L1268.5 781.0 L1283.0 794.0 L1321.0 791.0 L1350.0 781.0 L1390.0 777.5 L1390.0 837.0 L1326.5 837.0 L1283.0 835.5 L1239.5 834.0 L1196.0 831.5 L1164.5 822.5 L1138.5 808.0 L1112.5 793.5 L1086.0 785.0 L1048.5 771.3 L1007.0 779.8 L991.0 759.8Z" fill="#8adfc4"/>
<path d="M977.3 718.7 L1007.8 708.7 L1045.5 731.7 L1086.0 757.7 L1124.0 757.0 L1167.5 758.5 L1202.0 762.5 L1239.5 747.5 L1254.0 763.0 L1268.5 783.5 L1283.0 796.5 L1321.0 793.5 L1350.0 783.5 L1390.0 780.0 L1390.0 833.5 L1326.5 833.5 L1283.0 832.0 L1239.5 830.5 L1196.0 828.0 L1164.5 819.0 L1138.5 804.5 L1112.5 790.0 L1086.0 781.5 L1048.5 768.5 L1008.8 777.0 L992.8 757.0Z" fill="#6cbca6"/>
<path d="M978.5 719.4 L1009.0 709.4 L1045.5 732.4 L1086.0 758.4 L1124.0 758.5 L1167.5 760.0 L1202.0 764.0 L1239.5 749.4 L1254.0 764.9 L1268.5 785.4 L1283.0 798.4 L1321.0 795.4 L1350.0 785.4 L1390.0 781.9 L1390.0 830.5 L1326.5 830.5 L1283.0 829.0 L1239.5 827.5 L1196.0 825.0 L1164.5 816.0 L1138.5 801.5 L1112.5 787.0 L1086.0 778.5 L1048.5 766.1 L1010.2 774.6 L994.2 754.6Z" fill="#57a78f"/>
<path d="M980.5 720.5 L1011.0 710.5 L1045.5 733.5 L1086.0 759.5 L1124.0 761.0 L1167.5 762.5 L1202.0 766.5 L1239.5 752.5 L1254.0 768.0 L1268.5 788.5 L1283.0 801.5 L1321.0 798.5 L1350.0 788.5 L1390.0 785.0 L1390.0 826.0 L1326.5 826.0 L1283.0 824.5 L1239.5 823.0 L1196.0 820.5 L1164.5 811.5 L1138.5 797.0 L1112.5 782.5 L1086.0 774.0 L1048.5 762.5 L1012.5 771.0 L996.5 751.0Z" fill="#4f9e86"/>
<path d="M983.3 722.1 L1013.8 712.1 L1045.5 735.1 L1086.0 761.1 L1124.0 764.5 L1167.5 766.0 L1202.0 770.0 L1239.5 756.9 L1254.0 772.4 L1268.5 792.9 L1283.0 805.9 L1321.0 802.9 L1350.0 792.9 L1390.0 789.4 L1390.0 821.5 L1326.5 821.5 L1283.0 820.0 L1239.5 818.5 L1196.0 816.0 L1164.5 807.0 L1138.5 792.5 L1112.5 778.0 L1086.0 769.5 L1048.5 758.9 L1014.8 767.4 L998.8 747.4Z" fill="#438f78"/>
<path d="M1143.0 795.0 L1164.5 782.0 L1191.0 795.0 L1164.5 807.0Z" fill="#2f7a5f"/>
<path d="M1212.0 795.5 L1238.0 777.0 L1252.5 795.5 L1235.5 811.5Z" fill="#3d8670"/>
<path d="M1226.5 795.5 L1238.0 787.0 L1246.5 795.5 L1237.0 803.0Z" fill="#2f7a5f"/>
<path d="M1360.0 792.5 L1385.0 790.0 L1385.0 820.0 L1362.5 817.5Z" fill="#2f7a5f"/>
<path d="M1295.0 755.0 L1305.0 727.5 L1317.5 720.0 L1332.5 737.5 L1327.5 765.0 L1312.5 775.0Z" fill="#d2f6ea"/>
<path d="M1132.8 696.8 L1161.5 685.8 L1183.6 694.6 L1161.5 710.0Z" fill="#eff4f1"/>
<path d="M1247.6 690.2 L1274.1 674.7 L1302.8 690.2 L1276.3 707.8Z" fill="#f4f7ea"/>
<path d="M838.3 973.0 L904.5 950.9 L933.2 944.3 L970.7 911.2 L983.9 968.6 L975.1 990.7 L933.2 986.2 L882.4 984.0Z" fill="#d2f6ea"/>
<path d="M853.7 973.0 L904.5 955.3 L933.2 950.9 L970.7 920.0 L977.3 968.6 L970.7 986.2 L933.2 981.8 L882.4 979.6Z" fill="#bcf2e0"/>
<path d="M864.8 974.1 L904.5 959.8 L933.2 955.3 L966.3 937.7 L972.9 973.0 L933.2 981.8 L893.4 980.7Z" fill="#a8efd6"/>
<path d="M891.2 973.4 L933.2 965.3 L953.0 971.9 L933.2 978.5Z" fill="#8adfc4"/>
<path d="M833.9 1023.8 L882.4 1017.1 L937.6 1019.3 L970.7 999.5 L981.7 1028.2 L904.5 1032.6Z" fill="#d2f6ea"/>
<path d="M855.9 1023.8 L882.4 1020.4 L904.5 1023.8 L882.4 1026.4Z" fill="#bcf2e0"/>
<path d="M944.2 870.4 L971.8 849.4 L990.6 870.4 L972.9 892.4Z" fill="#f0edd3"/>
<path d="M955.2 870.4 L971.8 858.2 L981.7 870.4 L972.5 882.5Z" fill="#eae1b2"/>
<path d="M963.6 870.4 L971.8 864.4 L978.4 870.4 L972.2 877.0Z" fill="#e3cf95"/>
<path d="M992.8 921.1 L1014.8 909.0 L1034.7 922.2 L1014.8 937.7Z" fill="#f0edd3"/>
<path d="M1001.6 921.1 L1014.8 913.9 L1025.9 922.2 L1014.8 931.1Z" fill="#e3cf95"/>
<path d="M1008.2 921.1 L1014.8 917.8 L1020.3 922.2 L1014.8 926.2Z" fill="#d3ba70"/>
<path d="M1101.9 922.2 L1124.0 878.1 L1148.3 917.8 L1126.2 955.3Z" fill="#d2f6ea"/>
<path d="M1110.8 922.2 L1124.0 898.0 L1138.3 920.0 L1125.1 942.1Z" fill="#a8efd6"/>
<path d="M1118.5 922.2 L1124.4 911.2 L1130.6 921.1 L1124.7 931.1Z" fill="#8adfc4"/>
<path d="M1148.3 948.7 L1183.6 922.2 L1192.4 871.5 L1236.6 867.1 L1280.7 873.7 L1291.7 898.0 L1276.3 944.3 L1241.0 959.8 L1192.4 957.6 L1163.7 964.2Z" fill="#f0edd3"/>
<path d="M1157.1 947.6 L1201.2 920.0 L1210.1 895.8 L1236.6 880.3 L1274.1 898.0 L1258.6 937.7 L1241.0 953.1 L1192.4 950.9 L1165.9 955.3Z" fill="#eae1b2"/>
<path d="M1214.5 900.2 L1236.6 889.1 L1263.0 899.1 L1254.2 933.3 L1238.8 948.7 L1218.9 942.1Z" fill="#e3cf95"/>
<path d="M1223.3 911.2 L1236.6 894.7 L1249.8 902.4 L1247.6 933.3 L1236.6 944.3 L1225.5 937.7Z" fill="#d3ba70"/>
<path d="M1232.1 902.4 L1238.8 896.9 L1243.2 904.6 L1238.8 911.2Z" fill="#c6a257"/>
<path d="M1159.3 947.6 L1165.9 944.3 L1177.0 948.7 L1165.9 953.1Z" fill="#e3cf95"/>
<path d="M1093.1 974.1 L1126.2 969.0 L1159.3 973.4 L1126.2 976.5Z" fill="#f0edd3"/>
<path d="M1135.0 1021.6 L1165.9 997.3 L1201.2 995.1 L1236.6 1003.9 L1258.6 986.2 L1280.7 977.4 L1302.8 995.1 L1311.6 1021.6 L1302.8 1056.9 L1148.3 1056.9Z" fill="#d2f6ea"/>
<path d="M1183.6 1021.6 L1201.2 1003.9 L1218.9 1019.3 L1201.2 1032.6Z" fill="#a8efd6"/>
<path d="M1247.6 1012.7 L1271.9 986.2 L1291.7 999.5 L1298.3 1021.6 L1291.7 1056.9 L1258.6 1056.9Z" fill="#8adfc4"/>
<path d="M1267.4 999.5 L1278.5 988.4 L1287.3 1003.9 L1282.9 1021.6 L1280.7 1056.9 L1274.1 1056.9 L1269.7 1017.1Z" fill="#57a78f"/>
<path d="M1324.8 973.0 L1353.5 955.3 L1373.4 953.1 L1373.4 992.9 L1353.5 988.4Z" fill="#f0edd3"/>
<path d="M1338.1 973.0 L1353.5 962.0 L1373.4 959.8 L1373.4 986.2 L1353.5 981.8Z" fill="#e3cf95"/>
<path d="M1351.3 973.0 L1360.1 967.5 L1373.4 966.4 L1373.4 979.6 L1360.1 978.5Z" fill="#d3ba70"/>
</g></g>
<g clip-path="url(#clip_p2l)">
<rect x="81.1" y="1248.4" width="609.0" height="406.0" fill="#d2d2f2"/>
<path d="M75.0 1412.1 L82.3 1416.6 L97.1 1427.6 L130.2 1451.9 L143.4 1466.6 L161.1 1459.9 L185.3 1461.0 L216.2 1450.0 L262.6 1443.0 L317.8 1445.2 L361.9 1460.0 L385.0 1472.1 L407.1 1479.8 L440.2 1505.2 L473.3 1522.8 L513.0 1535.0 L561.6 1532.8 L605.7 1538.3 L645.4 1548.2 L698.4 1549.3 L698.4 1240.0 L75.0 1240.0Z" fill="#b7b5e6"/>
<path d="M116.9 1246.6 L141.2 1259.9 L156.7 1273.1 L143.4 1299.6 L139.0 1323.9 L128.0 1350.3 L147.8 1363.6 L172.1 1376.8 L207.4 1385.7 L262.6 1392.3 L295.7 1386.8 L300.0 1383.4 L327.6 1384.8 L369.0 1397.2 L410.3 1416.6 L437.9 1433.1 L465.5 1449.7 L493.1 1460.7 L534.5 1469.0 L457.8 1450.0 L490.9 1471.0 L526.2 1477.6 L566.0 1472.1 L605.7 1474.3 L638.8 1489.7 L678.5 1487.5 L698.4 1476.5 L698.4 1240.0Z" fill="#9c96d9"/>
<path d="M278.0 1295.2 L295.7 1273.1 L335.3 1269.8 L373.1 1255.2 L402.1 1267.6 L369.0 1289.7 L335.9 1303.4 L300.0 1317.2Z" fill="#7a6fc5"/>
<path d="M241.6 1323.9 L258.2 1316.8 L282.4 1325.0 L259.3 1338.9Z" fill="#7a6fc5"/>
<path d="M377.2 1322.8 L391.0 1300.7 L421.4 1275.9 L460.0 1256.6 L493.1 1248.3 L697.2 1248.3 L697.2 1433.1 L644.8 1438.6 L603.4 1433.1 L575.9 1422.1 L548.3 1400.0 L520.7 1394.5 L493.1 1408.3 L437.9 1394.5 L410.3 1372.4 L375.9 1350.3Z" fill="#7a6fc5"/>
<path d="M509.7 1248.3 L519.3 1273.1 L534.5 1274.5 L559.3 1252.4 L562.1 1248.3Z" fill="#9c96d9"/>
<path d="M603.4 1248.3 L649.0 1248.3 L649.0 1293.8 L661.4 1325.5 L642.1 1335.2 L633.8 1317.2 L637.9 1295.2 L628.3 1267.6Z" fill="#9c96d9"/>
<path d="M402.1 1322.8 L410.3 1303.4 L429.7 1289.7 L454.5 1278.6 L493.1 1274.5 L520.7 1275.9 L537.2 1277.2 L562.1 1263.4 L600.7 1277.2 L617.2 1295.2 L620.0 1322.8 L631.0 1344.8 L650.3 1361.4 L661.4 1375.2 L655.9 1397.2 L642.1 1405.5 L625.5 1400.0 L603.4 1394.5 L589.7 1372.4 L575.9 1355.9 L548.3 1347.6 L526.2 1336.6 L509.7 1347.6 L498.6 1350.3 L490.3 1369.7 L468.3 1358.6 L437.9 1350.3 L410.3 1347.6Z" fill="#5d4cb4"/>
<path d="M444.8 1297.9 L465.5 1289.7 L487.6 1284.1 L515.2 1286.9 L534.5 1284.1 L562.1 1274.5 L589.7 1285.5 L611.7 1303.4 L617.2 1331.0 L614.5 1350.3 L603.4 1369.7 L589.7 1350.3 L575.9 1342.1 L548.3 1339.3 L526.2 1336.6 L509.7 1342.1 L490.3 1349.0 L471.0 1331.0 L446.2 1320.0Z" fill="#4e2ca8"/>
<path d="M517.9 1349.8 L527.6 1347.0 L562.1 1361.4 L569.0 1376.6 L564.8 1393.1 L546.9 1399.4 L544.1 1373.8 L526.2 1357.2Z" fill="#9c96d9"/>
<path d="M190.9 1578.0 L211.8 1569.2 L256.0 1562.6 L295.7 1563.7 L324.4 1551.5 L370.7 1536.1 L385.0 1542.7 L418.1 1544.9 L446.8 1560.3 L456.7 1578.0 L446.8 1600.1 L429.1 1617.7 L409.3 1633.2 L418.1 1661.9 L295.7 1661.9 L286.9 1651.9 L258.2 1634.3 L239.4 1626.6 L238.3 1604.5 L216.2 1591.2Z" fill="#f8dada"/>
</g>
<rect x="649" y="1249" width="41" height="45.3" fill="#fff" stroke="#111" stroke-width="1.5"/>
<text x="653.3" y="1264.7" font-size="13.1">1ms</text><text x="679.6" y="1257.8" font-size="7.5">-1</text>
<path d="M688.5 1278.3L677.0 1283.0L677.0 1273.5Z" fill="#111" stroke="#111" stroke-width="1.8" stroke-linejoin="round"/><path d="M651.5 1278.3L681.6 1278.3" stroke="#111" stroke-width="4.1" stroke-linecap="round" fill="none"/>
<g clip-path="url(#clip_p2r)">
<rect x="757.6" y="1248.6" width="609.0" height="406.0" fill="#f6ced2"/>
<path d="M750.0 1505.2 L757.3 1501.9 L778.7 1494.1 L822.8 1474.3 L873.6 1450.0 L882.4 1423.2 L904.5 1407.7 L924.3 1394.5 L933.2 1352.6 L944.2 1337.1 L970.7 1321.7 L1010.4 1322.8 L1028.1 1328.3 L1036.9 1315.0 L1056.8 1300.7 L1060.0 1354.8 L1086.5 1363.6 L1124.0 1381.2 L1165.9 1381.2 L1192.4 1368.0 L1241.0 1369.1 L1280.7 1363.6 L1289.5 1345.9 L1293.9 1328.3 L1313.8 1299.6 L1323.7 1294.1 L1323.7 1240.0 L750.0 1240.0Z" fill="#cccbee"/>
<path d="M750.0 1416.6 L772.1 1403.3 L805.2 1394.5 L838.3 1381.2 L864.8 1372.4 L895.7 1359.2 L931.0 1339.3 L959.7 1321.7 L983.9 1313.9 L1010.4 1312.8 L1034.7 1326.1 L1060.0 1343.7 L1093.1 1352.6 L1124.0 1363.6 L1157.1 1345.9 L1201.2 1341.5 L1241.0 1340.4 L1258.6 1328.3 L1287.3 1306.2 L1293.9 1284.1 L1302.8 1262.1 L1309.4 1246.6 L750.0 1240.0Z" fill="#a09cdc"/>
<path d="M750.0 1434.2 L772.1 1423.2 L805.2 1414.3 L849.3 1407.7 L855.9 1416.6 L816.2 1427.6 L772.1 1445.2 L750.0 1451.9Z" fill="#a09cdc"/>
<path d="M997.2 1275.3 L1003.8 1269.8 L1022.6 1296.3 L1056.8 1299.1 L1034.7 1325.6 L1010.4 1313.3 L989.4 1313.9 L993.9 1293.0Z" fill="#cccbee"/>
<path d="M750.0 1385.7 L783.1 1372.4 L816.2 1370.2 L855.9 1368.0 L891.2 1357.0 L926.6 1334.9 L948.6 1317.2 L983.9 1306.2 L997.2 1270.9 L1010.4 1266.5 L1036.9 1257.7 L1060.0 1284.1 L1086.5 1287.4 L1124.0 1274.2 L1165.9 1275.3 L1196.8 1284.1 L1238.8 1296.3 L1271.9 1281.9 L1280.7 1273.1 L1285.1 1246.6 L750.0 1240.0Z" fill="#7064bd"/>
<path d="M750.0 1372.4 L763.2 1376.8 L772.1 1394.5 L763.2 1407.7 L750.0 1403.3Z" fill="#7064bd"/>
<path d="M750.0 1342.6 L783.1 1352.6 L822.8 1359.2 L860.3 1354.8 L891.2 1343.7 L913.3 1328.3 L922.1 1299.6 L933.2 1293.0 L977.3 1298.5 L980.6 1274.2 L1010.4 1256.6 L1060.0 1268.7 L1086.5 1274.2 L1124.0 1258.8 L1201.2 1254.3 L1210.1 1246.6 L750.0 1240.0Z" fill="#5436a9"/>
<path d="M750.0 1246.6 L776.5 1246.6 L783.1 1262.1 L814.0 1264.3 L838.3 1273.1 L836.1 1306.2 L838.3 1328.3 L820.6 1349.2 L798.6 1328.3 L767.7 1312.8 L750.0 1312.8Z" fill="#4e2ca8"/>
<path d="M1045.7 1321.7 L1059.0 1317.2 L1070.0 1322.8 L1059.0 1327.2Z" fill="#7064bd"/>
<path d="M1012.6 1476.5 L1034.7 1450.0 L1060.0 1432.0 L1082.1 1416.6 L1126.2 1413.2 L1201.2 1414.3 L1258.6 1409.9 L1320.4 1404.4 L1346.9 1383.4 L1353.5 1372.4 L1342.5 1328.3 L1345.8 1295.2 L1373.4 1295.2 L1373.4 1586.8 L1320.4 1573.6 L1280.7 1569.2 L1247.6 1567.0 L1201.2 1573.6 L1165.9 1573.6 L1126.2 1560.3 L1082.1 1542.7 L1068.8 1527.2 L1060.0 1516.2 L1054.6 1507.4Z" fill="#f2a6aa"/>
<path d="M1333.7 1472.1 L1346.9 1450.0 L1355.7 1460.0 L1364.1 1447.4 L1373.4 1445.2 L1373.4 1531.7 L1355.7 1522.8 L1333.7 1500.8Z" fill="#ee7478"/>
</g>
<rect x="1325.5" y="1249.5" width="41" height="45.3" fill="#fff" stroke="#111" stroke-width="1.5"/>
<text x="1329.8" y="1265.2" font-size="13.1">2ms</text><text x="1356.1" y="1258.3" font-size="7.5">-1</text>
<path d="M1365.0 1278.8L1353.5 1283.5L1353.5 1274.0Z" fill="#111" stroke="#111" stroke-width="1.8" stroke-linejoin="round"/><path d="M1328.0 1278.8L1358.1 1278.8" stroke="#111" stroke-width="4.1" stroke-linecap="round" fill="none"/>
<g clip-path="url(#clip_p3l)">
<rect x="81.1" y="1853.5" width="609.0" height="406.0" fill="#cccbee"/>
<path d="M75.0 1845.0 L188.7 1854.9 L167.7 1869.3 L141.2 1878.1 L112.5 1903.5 L108.1 1924.4 L75.0 1918.9Z" fill="#f5cfd3"/>
<path d="M79.4 1878.5 L107.0 1873.7 L139.0 1879.2 L122.4 1890.2 L107.0 1899.1 L97.1 1889.1 L79.4 1883.6Z" fill="#cccbee"/>
<path d="M84.9 1979.6 L144.5 1968.1 L165.5 1979.6 L147.8 1986.2 L128.0 1990.7 L105.9 1981.8Z" fill="#f5cfd3"/>
<path d="M75.0 2266.9 L84.9 2256.9 L99.3 2231.6 L114.7 2224.9 L145.6 2219.4 L163.3 2207.3 L156.7 2180.8 L144.5 2157.6 L156.7 2132.2 L178.7 2112.4 L199.7 2081.5 L182.0 2059.4 L180.9 2043.6 L183.1 2028.2 L199.7 2007.2 L229.5 2005.0 L238.3 2012.7 L264.8 2030.4 L286.9 2044.7 L300.1 2056.9 L300.1 2106.9 L335.4 2127.8 L338.7 2156.5 L371.8 2176.4 L384.0 2169.8 L391.6 2163.1 L403.8 2154.3 L403.8 2130.0 L410.4 2110.2 L435.8 2088.1 L443.5 2081.5 L443.5 2063.8 L451.2 2053.7 L490.9 2052.6 L515.2 2060.1 L526.2 2064.9 L539.5 2079.3 L557.1 2088.1 L588.0 2105.8 L594.7 2119.0 L638.8 2145.5 L674.1 2123.4 L684.0 2105.8 L677.4 2079.3 L682.9 2068.2 L694.0 2063.8 L694.0 2266.9Z" fill="#f5cfd3"/>
<path d="M188.7 2031.5 L220.7 2018.2 L249.3 2031.5 L220.7 2051.3Z" fill="#cccbee"/>
<path d="M264.8 2005.0 L335.4 1960.2 L394.9 1986.2 L413.7 1999.5 L444.6 2019.3 L462.2 2030.4 L451.2 2033.7 L418.1 2052.4 L415.9 2055.0 L414.8 2077.1 L407.1 2088.1 L396.0 2095.8 L385.0 2099.1 L379.6 2108.0 L371.8 2141.1 L335.4 2114.6 L324.4 2088.1 L321.1 2055.0 L317.8 2043.6 L295.7 2026.0Z" fill="#a09cdc"/>
<path d="M75.0 2052.8 L82.3 2055.0 L92.7 2059.4 L104.8 2080.4 L82.3 2096.9 L75.0 2099.1Z" fill="#a09cdc"/>
<path d="M75.0 2054.7 L82.3 2055.8 L90.4 2056.9 L99.3 2065.0 L75.0 2065.0Z" fill="#a09cdc"/>
<path d="M430.2 1878.5 L449.0 1869.3 L455.6 1878.1 L449.0 1882.1Z" fill="#a09cdc"/>
<path d="M510.8 1853.8 L536.2 1853.8 L524.5 1870.4Z" fill="#a09cdc"/>
<path d="M218.4 1903.5 L258.2 1886.9 L295.7 1882.5 L335.4 1873.7 L361.9 1880.3 L385.0 1888.0 L449.0 1893.6 L482.1 1879.2 L486.5 1871.5 L495.3 1879.2 L524.0 1885.8 L551.6 1879.2 L563.8 1864.9 L592.4 1878.1 L593.6 1903.5 L622.2 1928.9 L612.3 1948.7 L601.3 1969.7 L561.6 1968.6 L526.2 1974.1 L486.5 1976.3 L449.0 1979.0 L413.7 1969.7 L385.0 1957.6 L361.9 1942.1 L346.4 1933.3 L335.4 1904.6 L295.7 1931.1 L259.3 1952.0 L229.5 1924.4Z" fill="#f5cfd3"/>
<path d="M261.5 1904.6 L296.8 1895.8 L312.2 1903.5 L286.9 1917.8 L258.2 1931.1 L256.0 1927.8Z" fill="#f2a6aa"/>
<path d="M365.2 1903.5 L372.9 1900.6 L385.0 1903.5 L411.5 1911.2 L449.0 1935.5 L487.6 1937.7 L493.1 1931.1 L494.2 1903.5 L524.0 1895.3 L561.6 1902.4 L583.6 1913.4 L606.8 1928.9 L601.3 1936.6 L563.8 1941.0 L537.3 1953.1 L517.4 1959.8 L486.5 1965.3 L449.0 1965.3 L413.7 1959.8 L385.0 1948.7 L371.8 1928.9Z" fill="#f2a6aa"/>
<path d="M505.9 1928.4 L524.0 1903.5 L551.6 1928.9 L524.0 1946.1Z" fill="#ee7478"/>
<path d="M519.2 1927.8 L524.5 1921.1 L533.3 1928.4 L525.1 1935.0Z" fill="#e84f49"/>
</g>
<g clip-path="url(#clip_p3r)">
<rect x="757.6" y="1853.7" width="609.0" height="406.0" fill="#f5cfd3"/>
<path d="M750.0 2063.5 L757.3 2060.2 L783.1 2050.2 L805.2 2032.6 L833.9 2012.7 L855.9 1997.3 L882.4 1986.2 L904.5 1976.3 L922.1 1959.8 L939.8 1942.1 L955.2 1926.7 L970.7 1915.6 L1010.4 1916.7 L1043.5 1937.7 L1060.0 1950.9 L1086.5 1962.0 L1124.0 1973.0 L1165.9 1975.2 L1203.4 1973.0 L1238.8 1975.6 L1276.3 1969.7 L1314.9 1990.7 L1329.2 1979.6 L1338.1 1954.2 L1310.5 1930.0 L1324.8 1925.6 L1353.5 1922.2 L1369.0 1909.0 L1369.0 1845.0 L750.0 1845.0Z" fill="#f2a6aa"/>
<path d="M1330.3 1879.2 L1352.4 1861.6 L1369.0 1872.6 L1369.0 1889.1 L1352.4 1901.3Z" fill="#f5cfd3"/>
<path d="M848.2 2183.0 L858.1 2179.7 L869.2 2158.7 L904.5 2132.2 L935.4 2108.0 L970.7 2095.8 L1010.4 2094.7 L1060.0 2099.8 L1087.6 2108.0 L1126.2 2132.2 L1162.6 2147.7 L1174.8 2131.1 L1201.2 2121.2 L1238.8 2127.8 L1243.2 2112.4 L1227.7 2079.3 L1243.2 2055.0 L1276.3 2044.8 L1311.6 2052.6 L1324.8 2064.9 L1344.7 2076.0 L1369.0 2082.6 L1369.0 2266.9 L1258.6 2266.9 L1256.4 2256.9 L1252.0 2247.0 L1243.2 2232.7 L1196.8 2243.7 L1126.2 2247.4 L1060.0 2251.4 L1014.8 2248.1 L981.7 2242.6 L955.2 2233.8 L949.7 2209.5 L926.6 2200.7 L893.4 2191.8Z" fill="#f2a6aa"/>
<path d="M1302.8 2260.2 L1316.0 2218.3 L1353.5 2228.2 L1356.8 2260.2Z" fill="#f5cfd3"/>
<path d="M990.6 2133.3 L1008.2 2120.1 L1028.1 2132.2 L1011.5 2153.2Z" fill="#f5cfd3"/>
<path d="M750.0 2157.6 L757.3 2158.7 L763.2 2160.9 L778.7 2183.0 L757.3 2209.5 L750.0 2213.9Z" fill="#f2a6aa"/>
<path d="M750.0 2041.4 L757.3 2039.2 L783.1 2032.6 L807.4 2014.9 L836.1 1997.3 L853.7 1986.2 L880.2 1977.4 L902.3 1970.8 L917.7 1955.3 L935.4 1937.7 L953.0 1922.2 L970.7 1909.0 L1010.4 1909.0 L1041.3 1918.9 L1065.6 1929.3 L1047.9 1912.3 L1042.4 1903.5 L1060.0 1901.3 L1093.1 1898.0 L1125.1 1892.4 L1148.3 1878.1 L1163.7 1872.6 L1201.2 1875.9 L1214.5 1862.7 L1227.7 1851.6 L750.0 1845.0Z" fill="#ee7478"/>
<path d="M1252.0 1851.6 L1277.4 1874.8 L1302.8 1864.9 L1322.6 1851.6Z" fill="#ee7478"/>
<path d="M1275.2 2081.5 L1280.7 2080.4 L1313.8 2099.1 L1353.5 2114.6 L1363.4 2130.0 L1355.7 2143.3 L1333.7 2152.1 L1313.8 2158.7 L1302.8 2165.3 L1277.4 2175.3 L1263.0 2164.2 L1257.5 2152.1 L1261.9 2141.1 L1277.4 2124.5 L1293.9 2108.0 L1278.5 2091.4Z" fill="#ee7478"/>
<path d="M1269.7 2157.6 L1277.4 2150.3 L1287.3 2157.0 L1277.4 2163.1Z" fill="#e84f49"/>
<path d="M750.0 2023.8 L757.3 2021.6 L776.5 2014.9 L800.8 2003.9 L822.8 1988.4 L842.7 1977.4 L867.0 1970.8 L895.7 1965.3 L911.1 1953.1 L926.6 1937.7 L942.0 1924.4 L959.7 1911.2 L983.9 1904.6 L990.6 1884.7 L1010.4 1867.1 L1034.7 1873.7 L1060.0 1881.4 L1086.5 1884.7 L1115.2 1873.7 L1143.9 1864.9 L1183.6 1859.3 L1203.4 1851.6 L750.0 1845.0Z" fill="#e84f49"/>
<path d="M750.0 1948.7 L757.3 1949.8 L791.9 1978.5 L783.1 1982.9 L757.3 1967.5 L750.0 1966.4Z" fill="#ee7478"/>
<path d="M750.0 1977.4 L757.3 1979.2 L772.1 1986.2 L763.2 1988.4 L750.0 1986.2Z" fill="#f2a6aa"/>
<path d="M750.0 1935.5 L757.3 1936.6 L772.1 1942.1 L794.1 1950.9 L827.2 1958.7 L860.3 1960.9 L882.4 1959.8 L900.1 1955.3 L904.5 1939.9 L911.1 1922.2 L922.1 1904.6 L937.6 1894.7 L970.7 1888.0 L979.5 1878.1 L992.8 1867.1 L1010.4 1856.0 L1014.8 1851.6 L750.0 1845.0Z" fill="#e23a1e"/>
<path d="M750.0 1851.6 L818.4 1851.6 L817.3 1878.1 L783.1 1900.2 L750.0 1883.6Z" fill="#ee7478"/>
<path d="M772.1 1851.6 L804.1 1851.6 L804.1 1867.1 L783.1 1892.4 L773.2 1880.3Z" fill="#f2a6aa"/>
<path d="M904.5 1979.6 L924.3 1968.6 L944.2 1955.3 L957.4 1937.7 L970.7 1925.6 L988.3 1926.7 L1010.4 1932.2 L1043.5 1955.3 L1060.0 1968.6 L1099.7 1986.2 L1124.0 2001.7 L1139.4 2007.2 L1126.2 2030.4 L1093.1 2034.8 L1060.0 2042.5 L1036.9 2048.0 L1010.4 2050.2 L983.9 2043.6 L961.9 2032.6 L949.7 2019.3 L948.6 2006.1 L933.2 2001.7 L917.7 1990.7Z" fill="#cccbee"/>
<path d="M917.7 1979.6 L942.0 1970.8 L968.5 1955.3 L972.9 1942.1 L1010.4 1946.5 L1023.7 1955.3 L1024.8 1981.8 L1019.2 2006.1 L1010.4 2017.1 L992.8 2006.1 L970.7 1995.1 L935.4 1990.7Z" fill="#a09cdc"/>
<path d="M928.8 1979.6 L935.4 1977.4 L947.5 1980.1 L935.4 1984.0Z" fill="#7064bd"/>
<path d="M1077.7 2080.4 L1086.5 2068.2 L1093.1 2078.2 L1084.3 2084.8Z" fill="#cccbee"/>
</g>
<g clip-path="url(#clip_p1l)"><use href="#coast" x="81.1" y="642.6" stroke-width="3.7"/></g>
<g clip-path="url(#clip_p1r)"><use href="#coast" x="757.6" y="643.8" stroke-width="3.7"/></g>
<g clip-path="url(#clip_p2l)"><use href="#coast" x="81.1" y="1248.4" stroke-width="2.3"/></g>
<g clip-path="url(#clip_p2r)"><use href="#coast" x="757.6" y="1248.6" stroke-width="2.3"/></g>
<g clip-path="url(#clip_p3l)"><use href="#coast" x="81.1" y="1853.5" stroke-width="3.7"/></g>
<g clip-path="url(#clip_p3r)"><use href="#coast" x="757.6" y="1853.7" stroke-width="3.7"/></g>
<g clip-path="url(#clip_p2l)">
<ellipse cx="87.1" cy="1261.5" rx="4.7" ry="5.0" fill="#111"/>
<ellipse cx="125.2" cy="1261.5" rx="4.7" ry="5.0" fill="#111"/>
<ellipse cx="163.2" cy="1261.5" rx="4.7" ry="5.0" fill="#111"/>
<ellipse cx="201.3" cy="1261.5" rx="4.7" ry="5.0" fill="#111"/>
<ellipse cx="239.4" cy="1261.5" rx="4.7" ry="5.0" fill="#111"/>
<ellipse cx="277.4" cy="1261.5" rx="4.7" ry="5.0" fill="#111"/>
<ellipse cx="315.5" cy="1261.5" rx="4.7" ry="5.0" fill="#111"/>
<ellipse cx="353.6" cy="1261.5" rx="4.7" ry="5.0" fill="#111"/>
<ellipse cx="391.7" cy="1261.5" rx="4.7" ry="5.0" fill="#111"/>
<ellipse cx="429.7" cy="1261.5" rx="4.7" ry="5.0" fill="#111"/>
<ellipse cx="467.8" cy="1261.5" rx="4.7" ry="5.0" fill="#111"/>
<ellipse cx="505.9" cy="1261.5" rx="4.7" ry="5.0" fill="#111"/>
<ellipse cx="543.9" cy="1261.5" rx="4.7" ry="5.0" fill="#111"/>
<path d="M585.5 1258.0L582.3 1266.3L577.2 1261.2Z" fill="#111" stroke="#111" stroke-width="1.8" stroke-linejoin="round"/><path d="M578.5 1265.0L582.1 1261.4" stroke="#111" stroke-width="4.2" stroke-linecap="round" fill="none"/>
<path d="M623.6 1258.0L620.4 1266.3L615.3 1261.2Z" fill="#111" stroke="#111" stroke-width="1.8" stroke-linejoin="round"/><path d="M616.5 1265.0L620.1 1261.4" stroke="#111" stroke-width="4.2" stroke-linecap="round" fill="none"/>
<ellipse cx="87.1" cy="1286.8" rx="4.7" ry="5.0" fill="#111"/>
<ellipse cx="125.2" cy="1286.8" rx="4.7" ry="5.0" fill="#111"/>
<path d="M163.2 1291.8L159.6 1283.6L166.8 1283.6Z" fill="#111" stroke="#111" stroke-width="1.8" stroke-linejoin="round"/><path d="M163.2 1281.8L163.2 1286.9" stroke="#111" stroke-width="4.2" stroke-linecap="round" fill="none"/>
<path d="M201.3 1291.8L197.7 1283.6L204.9 1283.6Z" fill="#111" stroke="#111" stroke-width="1.8" stroke-linejoin="round"/><path d="M201.3 1281.8L201.3 1286.9" stroke="#111" stroke-width="4.2" stroke-linecap="round" fill="none"/>
<ellipse cx="239.4" cy="1286.8" rx="4.7" ry="5.0" fill="#111"/>
<path d="M272.4 1286.8L280.6 1283.2L280.6 1290.4Z" fill="#111" stroke="#111" stroke-width="1.8" stroke-linejoin="round"/><path d="M282.4 1286.8L277.4 1286.8" stroke="#111" stroke-width="4.2" stroke-linecap="round" fill="none"/>
<ellipse cx="315.5" cy="1286.8" rx="4.7" ry="5.0" fill="#111"/>
<path d="M350.1 1290.3L353.3 1282.0L358.4 1287.1Z" fill="#111" stroke="#111" stroke-width="1.8" stroke-linejoin="round"/><path d="M357.1 1283.3L353.5 1286.9" stroke="#111" stroke-width="4.2" stroke-linecap="round" fill="none"/>
<path d="M388.9 1293.8L388.6 1284.8L395.3 1287.5Z" fill="#111" stroke="#111" stroke-width="1.8" stroke-linejoin="round"/><path d="M394.5 1279.8L390.7 1289.2" stroke="#111" stroke-width="4.2" stroke-linecap="round" fill="none"/>
<path d="M427.1 1293.3L426.8 1284.3L433.5 1287.0Z" fill="#111" stroke="#111" stroke-width="1.8" stroke-linejoin="round"/><path d="M432.4 1280.3L429.0 1288.7" stroke="#111" stroke-width="4.2" stroke-linecap="round" fill="none"/>
<path d="M465.6 1292.4L465.3 1283.4L472.0 1286.1Z" fill="#111" stroke="#111" stroke-width="1.8" stroke-linejoin="round"/><path d="M470.0 1281.2L467.4 1287.8" stroke="#111" stroke-width="4.2" stroke-linecap="round" fill="none"/>
<path d="M505.9 1296.8L502.3 1288.6L509.5 1288.6Z" fill="#111" stroke="#111" stroke-width="1.8" stroke-linejoin="round"/><path d="M505.9 1276.8L505.9 1291.9" stroke="#111" stroke-width="4.2" stroke-linecap="round" fill="none"/>
<path d="M543.9 1297.8L540.3 1289.6L547.5 1289.6Z" fill="#111" stroke="#111" stroke-width="1.8" stroke-linejoin="round"/><path d="M543.9 1275.8L543.9 1292.9" stroke="#111" stroke-width="4.2" stroke-linecap="round" fill="none"/>
<path d="M574.9 1289.1L580.6 1282.2L583.8 1288.6Z" fill="#111" stroke="#111" stroke-width="1.8" stroke-linejoin="round"/><path d="M589.1 1284.5Q581.6 1285.7 579.3 1286.9" stroke="#111" stroke-width="4.2" stroke-linecap="round" fill="none"/>
<path d="M614.1 1286.8L622.3 1283.2L622.3 1290.4Z" fill="#111" stroke="#111" stroke-width="1.8" stroke-linejoin="round"/><path d="M626.1 1286.8L619.0 1286.8" stroke="#111" stroke-width="4.2" stroke-linecap="round" fill="none"/>
<ellipse cx="87.1" cy="1312.1" rx="4.7" ry="5.0" fill="#111"/>
<ellipse cx="125.2" cy="1312.1" rx="4.7" ry="5.0" fill="#111"/>
<ellipse cx="163.2" cy="1312.1" rx="4.7" ry="5.0" fill="#111"/>
<ellipse cx="201.3" cy="1312.1" rx="4.7" ry="5.0" fill="#111"/>
<ellipse cx="239.4" cy="1312.1" rx="4.7" ry="5.0" fill="#111"/>
<path d="M277.4 1306.1L281.1 1314.3L273.8 1314.3Z" fill="#111" stroke="#111" stroke-width="1.8" stroke-linejoin="round"/><path d="M277.4 1318.1L277.4 1311.0" stroke="#111" stroke-width="4.2" stroke-linecap="round" fill="none"/>
<path d="M320.5 1307.2L316.7 1315.3L311.9 1309.9Z" fill="#111" stroke="#111" stroke-width="1.8" stroke-linejoin="round"/><path d="M310.6 1317.0Q315.2 1311.8 316.8 1310.4" stroke="#111" stroke-width="4.2" stroke-linecap="round" fill="none"/>
<ellipse cx="353.6" cy="1312.1" rx="4.7" ry="5.0" fill="#111"/>
<ellipse cx="391.7" cy="1312.1" rx="4.7" ry="5.0" fill="#111"/>
<ellipse cx="429.7" cy="1312.1" rx="4.7" ry="5.0" fill="#111"/>
<ellipse cx="467.8" cy="1312.1" rx="4.7" ry="5.0" fill="#111"/>
<ellipse cx="505.9" cy="1312.1" rx="4.7" ry="5.0" fill="#111"/>
<ellipse cx="543.9" cy="1312.1" rx="4.7" ry="5.0" fill="#111"/>
<path d="M574.5 1312.1L582.7 1308.5L582.7 1315.7Z" fill="#111" stroke="#111" stroke-width="1.8" stroke-linejoin="round"/><path d="M589.5 1312.1L579.4 1312.1" stroke="#111" stroke-width="4.2" stroke-linecap="round" fill="none"/>
<path d="M610.1 1312.1L618.3 1308.5L618.3 1315.7Z" fill="#111" stroke="#111" stroke-width="1.8" stroke-linejoin="round"/><path d="M630.1 1312.1L615.0 1312.1" stroke="#111" stroke-width="4.2" stroke-linecap="round" fill="none"/>
<ellipse cx="658.1" cy="1312.1" rx="4.7" ry="5.0" fill="#111"/>
<path d="M91.3 1341.6L83.0 1338.4L88.1 1333.3Z" fill="#111" stroke="#111" stroke-width="1.8" stroke-linejoin="round"/><path d="M82.9 1333.2L87.9 1338.2" stroke="#111" stroke-width="4.2" stroke-linecap="round" fill="none"/>
<ellipse cx="125.2" cy="1337.4" rx="4.7" ry="5.0" fill="#111"/>
<ellipse cx="163.2" cy="1337.4" rx="4.7" ry="5.0" fill="#111"/>
<path d="M206.3 1337.4L198.1 1341.0L198.1 1333.8Z" fill="#111" stroke="#111" stroke-width="1.8" stroke-linejoin="round"/><path d="M196.3 1337.4L201.4 1337.4" stroke="#111" stroke-width="4.2" stroke-linecap="round" fill="none"/>
<path d="M246.9 1337.4L239.7 1342.8L238.1 1335.8Z" fill="#111" stroke="#111" stroke-width="1.8" stroke-linejoin="round"/><path d="M231.9 1337.4Q239.4 1339.2 242.1 1338.5" stroke="#111" stroke-width="4.2" stroke-linecap="round" fill="none"/>
<path d="M280.8 1329.1L283.0 1337.7L275.9 1336.5Z" fill="#111" stroke="#111" stroke-width="1.8" stroke-linejoin="round"/><path d="M274.1 1345.7Q279.3 1338.1 280.0 1333.9" stroke="#111" stroke-width="4.2" stroke-linecap="round" fill="none"/>
<path d="M318.3 1330.4L318.6 1339.4L311.9 1336.7Z" fill="#111" stroke="#111" stroke-width="1.8" stroke-linejoin="round"/><path d="M312.7 1344.4L316.5 1335.0" stroke="#111" stroke-width="4.2" stroke-linecap="round" fill="none"/>
<path d="M358.6 1337.4L350.4 1341.0L350.4 1333.8Z" fill="#111" stroke="#111" stroke-width="1.8" stroke-linejoin="round"/><path d="M348.6 1337.4L353.7 1337.4" stroke="#111" stroke-width="4.2" stroke-linecap="round" fill="none"/>
<path d="M386.7 1337.4L394.9 1333.8L394.9 1341.0Z" fill="#111" stroke="#111" stroke-width="1.8" stroke-linejoin="round"/><path d="M396.7 1337.4L391.6 1337.4" stroke="#111" stroke-width="4.2" stroke-linecap="round" fill="none"/>
<ellipse cx="429.7" cy="1337.4" rx="4.7" ry="5.0" fill="#111"/>
<ellipse cx="467.8" cy="1337.4" rx="4.7" ry="5.0" fill="#111"/>
<path d="M503.1 1330.4L510.1 1335.9L503.8 1339.4Z" fill="#111" stroke="#111" stroke-width="1.8" stroke-linejoin="round"/><path d="M508.7 1344.4Q506.7 1337.1 505.4 1334.8" stroke="#111" stroke-width="4.2" stroke-linecap="round" fill="none"/>
<path d="M543.9 1327.4L547.5 1335.6L540.3 1335.6Z" fill="#111" stroke="#111" stroke-width="1.8" stroke-linejoin="round"/><path d="M543.9 1347.4L543.9 1332.3" stroke="#111" stroke-width="4.2" stroke-linecap="round" fill="none"/>
<path d="M582.0 1328.4L589.4 1333.4L583.3 1337.3Z" fill="#111" stroke="#111" stroke-width="1.8" stroke-linejoin="round"/><path d="M582.0 1346.4Q587.6 1337.4 584.6 1332.6" stroke="#111" stroke-width="4.2" stroke-linecap="round" fill="none"/>
<path d="M611.1 1337.4L620.0 1336.2L618.0 1343.1Z" fill="#111" stroke="#111" stroke-width="1.8" stroke-linejoin="round"/><path d="M629.1 1337.4Q620.1 1340.0 615.8 1338.8" stroke="#111" stroke-width="4.2" stroke-linecap="round" fill="none"/>
<path d="M652.5 1343.1L655.7 1334.7L660.8 1339.8Z" fill="#111" stroke="#111" stroke-width="1.8" stroke-linejoin="round"/><path d="M663.8 1331.7L656.0 1339.6" stroke="#111" stroke-width="4.2" stroke-linecap="round" fill="none"/>
<path d="M90.6 1366.2L82.3 1363.0L87.4 1357.9Z" fill="#111" stroke="#111" stroke-width="1.8" stroke-linejoin="round"/><path d="M83.6 1359.2L87.2 1362.8" stroke="#111" stroke-width="4.2" stroke-linecap="round" fill="none"/>
<path d="M133.6 1365.8L125.0 1368.0L126.1 1360.9Z" fill="#111" stroke="#111" stroke-width="1.8" stroke-linejoin="round"/><path d="M116.7 1359.6Q124.6 1364.3 128.8 1365.0" stroke="#111" stroke-width="4.2" stroke-linecap="round" fill="none"/>
<path d="M167.5 1358.5L164.2 1366.8L159.1 1361.7Z" fill="#111" stroke="#111" stroke-width="1.8" stroke-linejoin="round"/><path d="M159.0 1366.9L164.0 1361.9" stroke="#111" stroke-width="4.2" stroke-linecap="round" fill="none"/>
<path d="M206.3 1362.7L198.1 1366.3L198.1 1359.1Z" fill="#111" stroke="#111" stroke-width="1.8" stroke-linejoin="round"/><path d="M196.3 1362.7L201.4 1362.7" stroke="#111" stroke-width="4.2" stroke-linecap="round" fill="none"/>
<path d="M246.0 1365.1L237.2 1366.8L238.7 1359.8Z" fill="#111" stroke="#111" stroke-width="1.8" stroke-linejoin="round"/><path d="M232.8 1360.3Q239.1 1363.6 241.2 1364.0" stroke="#111" stroke-width="4.2" stroke-linecap="round" fill="none"/>
<path d="M285.4 1359.7L279.9 1366.7L276.5 1360.4Z" fill="#111" stroke="#111" stroke-width="1.8" stroke-linejoin="round"/><path d="M269.5 1365.7Q277.8 1363.7 281.1 1362.0" stroke="#111" stroke-width="4.2" stroke-linecap="round" fill="none"/>
<path d="M320.8 1357.4L318.2 1365.9L312.7 1361.2Z" fill="#111" stroke="#111" stroke-width="1.8" stroke-linejoin="round"/><path d="M310.2 1368.0Q315.9 1363.1 317.6 1361.1" stroke="#111" stroke-width="4.2" stroke-linecap="round" fill="none"/>
<path d="M362.1 1362.7L353.9 1366.3L353.9 1359.1Z" fill="#111" stroke="#111" stroke-width="1.8" stroke-linejoin="round"/><path d="M345.1 1362.7L357.2 1362.7" stroke="#111" stroke-width="4.2" stroke-linecap="round" fill="none"/>
<path d="M395.2 1359.2L391.9 1367.5L386.9 1362.4Z" fill="#111" stroke="#111" stroke-width="1.8" stroke-linejoin="round"/><path d="M388.1 1366.2L391.7 1362.6" stroke="#111" stroke-width="4.2" stroke-linecap="round" fill="none"/>
<path d="M432.5 1355.7L432.8 1364.7L426.1 1362.0Z" fill="#111" stroke="#111" stroke-width="1.8" stroke-linejoin="round"/><path d="M426.9 1369.7L430.7 1360.3" stroke="#111" stroke-width="4.2" stroke-linecap="round" fill="none"/>
<path d="M467.8 1351.7L471.4 1359.9L464.2 1359.9Z" fill="#111" stroke="#111" stroke-width="1.8" stroke-linejoin="round"/><path d="M467.8 1373.7L467.8 1356.6" stroke="#111" stroke-width="4.2" stroke-linecap="round" fill="none"/>
<path d="M505.9 1352.7L510.7 1360.3L503.6 1361.4Z" fill="#111" stroke="#111" stroke-width="1.8" stroke-linejoin="round"/><path d="M505.9 1372.7Q507.4 1362.7 506.6 1357.6" stroke="#111" stroke-width="4.2" stroke-linecap="round" fill="none"/>
<path d="M543.9 1357.7L547.5 1365.9L540.3 1365.9Z" fill="#111" stroke="#111" stroke-width="1.8" stroke-linejoin="round"/><path d="M543.9 1367.7L543.9 1362.6" stroke="#111" stroke-width="4.2" stroke-linecap="round" fill="none"/>
<path d="M585.5 1359.2L582.3 1367.5L577.2 1362.4Z" fill="#111" stroke="#111" stroke-width="1.8" stroke-linejoin="round"/><path d="M578.5 1366.2L582.1 1362.6" stroke="#111" stroke-width="4.2" stroke-linecap="round" fill="none"/>
<ellipse cx="620.1" cy="1362.7" rx="4.7" ry="5.0" fill="#111"/>
<path d="M653.9 1358.5L662.3 1361.7L657.2 1366.8Z" fill="#111" stroke="#111" stroke-width="1.8" stroke-linejoin="round"/><path d="M662.4 1366.9L657.4 1361.9" stroke="#111" stroke-width="4.2" stroke-linecap="round" fill="none"/>
<path d="M90.6 1391.5L82.3 1388.3L87.4 1383.2Z" fill="#111" stroke="#111" stroke-width="1.8" stroke-linejoin="round"/><path d="M83.6 1384.5L87.2 1388.1" stroke="#111" stroke-width="4.2" stroke-linecap="round" fill="none"/>
<path d="M128.7 1391.5L120.4 1388.3L125.5 1383.2Z" fill="#111" stroke="#111" stroke-width="1.8" stroke-linejoin="round"/><path d="M121.6 1384.5L125.2 1388.1" stroke="#111" stroke-width="4.2" stroke-linecap="round" fill="none"/>
<path d="M170.7 1388.0L162.8 1392.2L162.3 1385.0Z" fill="#111" stroke="#111" stroke-width="1.8" stroke-linejoin="round"/><path d="M155.7 1388.0Q163.2 1388.6 165.8 1388.4" stroke="#111" stroke-width="4.2" stroke-linecap="round" fill="none"/>
<path d="M208.3 1388.0L200.1 1391.6L200.1 1384.4Z" fill="#111" stroke="#111" stroke-width="1.8" stroke-linejoin="round"/><path d="M194.3 1388.0L203.4 1388.0" stroke="#111" stroke-width="4.2" stroke-linecap="round" fill="none"/>
<path d="M247.9 1388.0L239.8 1391.9L239.5 1384.7Z" fill="#111" stroke="#111" stroke-width="1.8" stroke-linejoin="round"/><path d="M230.9 1388.0Q239.4 1388.3 243.0 1388.2" stroke="#111" stroke-width="4.2" stroke-linecap="round" fill="none"/>
<path d="M287.7 1384.1L281.7 1390.7L278.8 1384.1Z" fill="#111" stroke="#111" stroke-width="1.8" stroke-linejoin="round"/><path d="M267.2 1391.9Q277.7 1388.5 283.2 1386.1" stroke="#111" stroke-width="4.2" stroke-linecap="round" fill="none"/>
<path d="M324.9 1384.4L317.9 1390.1L316.0 1383.2Z" fill="#111" stroke="#111" stroke-width="1.8" stroke-linejoin="round"/><path d="M306.2 1391.6Q315.2 1387.1 320.1 1385.7" stroke="#111" stroke-width="4.2" stroke-linecap="round" fill="none"/>
<path d="M362.0 1391.1L353.1 1390.9L356.1 1384.4Z" fill="#111" stroke="#111" stroke-width="1.8" stroke-linejoin="round"/><path d="M345.1 1384.9Q353.9 1387.3 357.6 1389.0" stroke="#111" stroke-width="4.2" stroke-linecap="round" fill="none"/>
<path d="M398.7 1390.6L389.8 1391.1L392.2 1384.4Z" fill="#111" stroke="#111" stroke-width="1.8" stroke-linejoin="round"/><path d="M384.6 1385.4L394.1 1388.9" stroke="#111" stroke-width="4.2" stroke-linecap="round" fill="none"/>
<path d="M434.7 1388.0L426.5 1391.6L426.5 1384.4Z" fill="#111" stroke="#111" stroke-width="1.8" stroke-linejoin="round"/><path d="M424.7 1388.0L429.8 1388.0" stroke="#111" stroke-width="4.2" stroke-linecap="round" fill="none"/>
<ellipse cx="467.8" cy="1388.0" rx="4.7" ry="5.0" fill="#111"/>
<ellipse cx="505.9" cy="1388.0" rx="4.7" ry="5.0" fill="#111"/>
<ellipse cx="543.9" cy="1388.0" rx="4.7" ry="5.0" fill="#111"/>
<ellipse cx="582.0" cy="1388.0" rx="4.7" ry="5.0" fill="#111"/>
<path d="M623.6 1384.5L620.4 1392.8L615.3 1387.7Z" fill="#111" stroke="#111" stroke-width="1.8" stroke-linejoin="round"/><path d="M616.5 1391.5L620.1 1387.9" stroke="#111" stroke-width="4.2" stroke-linecap="round" fill="none"/>
<path d="M658.1 1377.0L663.7 1384.0L656.7 1385.8Z" fill="#111" stroke="#111" stroke-width="1.8" stroke-linejoin="round"/><path d="M658.1 1399.0Q661.0 1388.0 659.4 1381.8" stroke="#111" stroke-width="4.2" stroke-linecap="round" fill="none"/>
<path d="M92.4 1418.6L83.8 1416.0L88.6 1410.5Z" fill="#111" stroke="#111" stroke-width="1.8" stroke-linejoin="round"/><path d="M81.8 1408.0Q86.7 1413.7 88.7 1415.4" stroke="#111" stroke-width="4.2" stroke-linecap="round" fill="none"/>
<path d="M132.2 1415.9L123.3 1416.8L125.5 1410.0Z" fill="#111" stroke="#111" stroke-width="1.8" stroke-linejoin="round"/><path d="M118.1 1410.7Q125.1 1413.6 127.5 1414.4" stroke="#111" stroke-width="4.2" stroke-linecap="round" fill="none"/>
<path d="M170.3 1415.9L161.4 1416.4L163.8 1409.7Z" fill="#111" stroke="#111" stroke-width="1.8" stroke-linejoin="round"/><path d="M156.2 1410.7L165.7 1414.2" stroke="#111" stroke-width="4.2" stroke-linecap="round" fill="none"/>
<path d="M210.3 1413.3L202.3 1417.2L202.0 1410.0Z" fill="#111" stroke="#111" stroke-width="1.8" stroke-linejoin="round"/><path d="M192.3 1413.3Q201.3 1413.7 205.4 1413.5" stroke="#111" stroke-width="4.2" stroke-linecap="round" fill="none"/>
<path d="M250.4 1413.3L242.4 1417.3L242.0 1410.1Z" fill="#111" stroke="#111" stroke-width="1.8" stroke-linejoin="round"/><path d="M228.4 1413.3Q239.4 1413.9 245.5 1413.6" stroke="#111" stroke-width="4.2" stroke-linecap="round" fill="none"/>
<path d="M287.7 1409.4L281.4 1415.7L278.8 1408.9Z" fill="#111" stroke="#111" stroke-width="1.8" stroke-linejoin="round"/><path d="M267.2 1417.2L283.1 1411.1" stroke="#111" stroke-width="4.2" stroke-linecap="round" fill="none"/>
<path d="M325.5 1413.3L317.0 1416.1L317.7 1408.9Z" fill="#111" stroke="#111" stroke-width="1.8" stroke-linejoin="round"/><path d="M305.5 1413.3Q315.5 1412.4 320.6 1412.8" stroke="#111" stroke-width="4.2" stroke-linecap="round" fill="none"/>
<path d="M363.0 1416.7L354.0 1416.9L356.8 1410.2Z" fill="#111" stroke="#111" stroke-width="1.8" stroke-linejoin="round"/><path d="M344.2 1409.9Q353.7 1412.9 358.4 1414.8" stroke="#111" stroke-width="4.2" stroke-linecap="round" fill="none"/>
<path d="M400.1 1416.4L391.2 1417.0L393.6 1410.2Z" fill="#111" stroke="#111" stroke-width="1.8" stroke-linejoin="round"/><path d="M383.2 1410.2L395.5 1414.7" stroke="#111" stroke-width="4.2" stroke-linecap="round" fill="none"/>
<path d="M441.5 1417.6L432.6 1418.7L434.7 1411.8Z" fill="#111" stroke="#111" stroke-width="1.8" stroke-linejoin="round"/><path d="M418.0 1409.0Q429.5 1414.0 436.8 1416.2" stroke="#111" stroke-width="4.2" stroke-linecap="round" fill="none"/>
<path d="M477.8 1413.3L470.0 1417.7L469.3 1410.5Z" fill="#111" stroke="#111" stroke-width="1.8" stroke-linejoin="round"/><path d="M457.8 1413.3Q467.8 1414.2 472.9 1413.8" stroke="#111" stroke-width="4.2" stroke-linecap="round" fill="none"/>
<path d="M512.9 1410.6L506.7 1417.1L503.9 1410.5Z" fill="#111" stroke="#111" stroke-width="1.8" stroke-linejoin="round"/><path d="M498.9 1416.0Q506.0 1413.6 508.3 1412.5" stroke="#111" stroke-width="4.2" stroke-linecap="round" fill="none"/>
<path d="M552.3 1410.1L545.7 1416.1L543.4 1409.3Z" fill="#111" stroke="#111" stroke-width="1.8" stroke-linejoin="round"/><path d="M535.5 1416.5Q543.8 1412.9 547.7 1411.6" stroke="#111" stroke-width="4.2" stroke-linecap="round" fill="none"/>
<path d="M590.0 1413.3L582.0 1417.3L581.7 1410.1Z" fill="#111" stroke="#111" stroke-width="1.8" stroke-linejoin="round"/><path d="M574.0 1413.3Q582.0 1413.7 585.1 1413.5" stroke="#111" stroke-width="4.2" stroke-linecap="round" fill="none"/>
<path d="M625.4 1408.0L623.0 1416.6L617.4 1412.1Z" fill="#111" stroke="#111" stroke-width="1.8" stroke-linejoin="round"/><path d="M614.8 1418.6Q620.6 1413.8 622.3 1411.8" stroke="#111" stroke-width="4.2" stroke-linecap="round" fill="none"/>
<path d="M662.3 1403.1L664.1 1411.9L657.0 1410.4Z" fill="#111" stroke="#111" stroke-width="1.8" stroke-linejoin="round"/><path d="M654.0 1423.5Q659.9 1414.0 661.2 1407.9" stroke="#111" stroke-width="4.2" stroke-linecap="round" fill="none"/>
<path d="M92.4 1443.9L83.8 1441.3L88.6 1435.8Z" fill="#111" stroke="#111" stroke-width="1.8" stroke-linejoin="round"/><path d="M81.8 1433.3Q86.7 1439.0 88.7 1440.7" stroke="#111" stroke-width="4.2" stroke-linecap="round" fill="none"/>
<path d="M133.6 1441.7L124.8 1443.1L126.6 1436.1Z" fill="#111" stroke="#111" stroke-width="1.8" stroke-linejoin="round"/><path d="M116.7 1435.5Q124.9 1439.4 128.9 1440.4" stroke="#111" stroke-width="4.2" stroke-linecap="round" fill="none"/>
<path d="M172.2 1438.6L164.2 1442.5L163.9 1435.3Z" fill="#111" stroke="#111" stroke-width="1.8" stroke-linejoin="round"/><path d="M154.2 1438.6Q163.2 1439.0 167.3 1438.8" stroke="#111" stroke-width="4.2" stroke-linecap="round" fill="none"/>
<path d="M211.3 1438.6L203.1 1442.2L203.1 1435.0Z" fill="#111" stroke="#111" stroke-width="1.8" stroke-linejoin="round"/><path d="M191.3 1438.6L206.4 1438.6" stroke="#111" stroke-width="4.2" stroke-linecap="round" fill="none"/>
<path d="M250.4 1438.6L242.2 1442.2L242.2 1435.0Z" fill="#111" stroke="#111" stroke-width="1.8" stroke-linejoin="round"/><path d="M228.4 1438.6L245.5 1438.6" stroke="#111" stroke-width="4.2" stroke-linecap="round" fill="none"/>
<path d="M287.4 1438.6L279.2 1442.2L279.2 1435.0Z" fill="#111" stroke="#111" stroke-width="1.8" stroke-linejoin="round"/><path d="M267.4 1438.6L282.5 1438.6" stroke="#111" stroke-width="4.2" stroke-linecap="round" fill="none"/>
<path d="M325.5 1438.6L317.2 1441.8L317.5 1434.6Z" fill="#111" stroke="#111" stroke-width="1.8" stroke-linejoin="round"/><path d="M305.5 1438.6Q315.5 1438.1 320.6 1438.4" stroke="#111" stroke-width="4.2" stroke-linecap="round" fill="none"/>
<path d="M363.0 1442.0L354.0 1442.2L356.8 1435.5Z" fill="#111" stroke="#111" stroke-width="1.8" stroke-linejoin="round"/><path d="M344.2 1435.2Q353.7 1438.2 358.4 1440.1" stroke="#111" stroke-width="4.2" stroke-linecap="round" fill="none"/>
<path d="M401.1 1442.0L392.1 1442.6L394.6 1435.8Z" fill="#111" stroke="#111" stroke-width="1.8" stroke-linejoin="round"/><path d="M382.3 1435.2L396.4 1440.3" stroke="#111" stroke-width="4.2" stroke-linecap="round" fill="none"/>
<path d="M442.9 1443.4L433.9 1444.0L436.4 1437.2Z" fill="#111" stroke="#111" stroke-width="1.8" stroke-linejoin="round"/><path d="M416.6 1433.8L438.3 1441.7" stroke="#111" stroke-width="4.2" stroke-linecap="round" fill="none"/>
<path d="M479.5 1442.9L470.7 1444.0L472.7 1437.1Z" fill="#111" stroke="#111" stroke-width="1.8" stroke-linejoin="round"/><path d="M456.1 1434.3Q467.6 1439.3 474.8 1441.5" stroke="#111" stroke-width="4.2" stroke-linecap="round" fill="none"/>
<path d="M511.9 1438.6L503.7 1442.2L503.7 1435.0Z" fill="#111" stroke="#111" stroke-width="1.8" stroke-linejoin="round"/><path d="M499.9 1438.6L506.9 1438.6" stroke="#111" stroke-width="4.2" stroke-linecap="round" fill="none"/>
<path d="M550.9 1435.9L544.8 1442.4L542.0 1435.8Z" fill="#111" stroke="#111" stroke-width="1.8" stroke-linejoin="round"/><path d="M536.9 1441.3Q544.0 1438.9 546.4 1437.8" stroke="#111" stroke-width="4.2" stroke-linecap="round" fill="none"/>
<path d="M591.3 1435.0L585.0 1441.3L582.4 1434.6Z" fill="#111" stroke="#111" stroke-width="1.8" stroke-linejoin="round"/><path d="M572.7 1442.2L586.8 1436.8" stroke="#111" stroke-width="4.2" stroke-linecap="round" fill="none"/>
<path d="M630.3 1434.7L624.4 1441.3L621.4 1434.8Z" fill="#111" stroke="#111" stroke-width="1.8" stroke-linejoin="round"/><path d="M609.8 1442.5Q620.3 1439.2 625.9 1436.7" stroke="#111" stroke-width="4.2" stroke-linecap="round" fill="none"/>
<path d="M665.2 1431.5L662.7 1440.1L657.2 1435.5Z" fill="#111" stroke="#111" stroke-width="1.8" stroke-linejoin="round"/><path d="M651.1 1445.7Q658.8 1439.2 662.1 1435.3" stroke="#111" stroke-width="4.2" stroke-linecap="round" fill="none"/>
<path d="M92.0 1468.8L83.7 1465.6L88.8 1460.5Z" fill="#111" stroke="#111" stroke-width="1.8" stroke-linejoin="round"/><path d="M82.2 1459.0L88.6 1465.4" stroke="#111" stroke-width="4.2" stroke-linecap="round" fill="none"/>
<path d="M133.6 1467.0L124.8 1468.4L126.6 1461.4Z" fill="#111" stroke="#111" stroke-width="1.8" stroke-linejoin="round"/><path d="M116.7 1460.8Q124.9 1464.7 128.9 1465.7" stroke="#111" stroke-width="4.2" stroke-linecap="round" fill="none"/>
<path d="M172.2 1463.9L164.2 1467.8L163.9 1460.6Z" fill="#111" stroke="#111" stroke-width="1.8" stroke-linejoin="round"/><path d="M154.2 1463.9Q163.2 1464.3 167.3 1464.1" stroke="#111" stroke-width="4.2" stroke-linecap="round" fill="none"/>
<path d="M211.3 1463.9L203.1 1467.5L203.1 1460.3Z" fill="#111" stroke="#111" stroke-width="1.8" stroke-linejoin="round"/><path d="M191.3 1463.9L206.4 1463.9" stroke="#111" stroke-width="4.2" stroke-linecap="round" fill="none"/>
<path d="M248.4 1463.9L240.0 1467.2L240.3 1460.0Z" fill="#111" stroke="#111" stroke-width="1.8" stroke-linejoin="round"/><path d="M230.4 1463.9Q239.4 1463.5 243.5 1463.7" stroke="#111" stroke-width="4.2" stroke-linecap="round" fill="none"/>
<path d="M284.5 1466.5L275.6 1467.0L278.0 1460.3Z" fill="#111" stroke="#111" stroke-width="1.8" stroke-linejoin="round"/><path d="M270.4 1461.3L279.9 1464.8" stroke="#111" stroke-width="4.2" stroke-linecap="round" fill="none"/>
<path d="M323.0 1466.6L314.1 1467.2L316.6 1460.4Z" fill="#111" stroke="#111" stroke-width="1.8" stroke-linejoin="round"/><path d="M308.0 1461.2L318.4 1465.0" stroke="#111" stroke-width="4.2" stroke-linecap="round" fill="none"/>
<path d="M363.0 1467.3L354.1 1467.9L356.5 1461.1Z" fill="#111" stroke="#111" stroke-width="1.8" stroke-linejoin="round"/><path d="M344.2 1460.5L358.4 1465.6" stroke="#111" stroke-width="4.2" stroke-linecap="round" fill="none"/>
<path d="M401.1 1467.3L392.1 1467.9L394.6 1461.1Z" fill="#111" stroke="#111" stroke-width="1.8" stroke-linejoin="round"/><path d="M382.3 1460.5L396.4 1465.6" stroke="#111" stroke-width="4.2" stroke-linecap="round" fill="none"/>
<path d="M441.6 1471.3L432.7 1470.0L436.6 1463.9Z" fill="#111" stroke="#111" stroke-width="1.8" stroke-linejoin="round"/><path d="M417.9 1456.5L437.4 1468.7" stroke="#111" stroke-width="4.2" stroke-linecap="round" fill="none"/>
<path d="M480.5 1471.8L471.7 1470.6L475.5 1464.5Z" fill="#111" stroke="#111" stroke-width="1.8" stroke-linejoin="round"/><path d="M455.1 1456.0L476.3 1469.2" stroke="#111" stroke-width="4.2" stroke-linecap="round" fill="none"/>
<path d="M516.2 1467.7L507.4 1469.4L509.0 1462.4Z" fill="#111" stroke="#111" stroke-width="1.8" stroke-linejoin="round"/><path d="M495.5 1460.1Q505.4 1465.3 511.4 1466.6" stroke="#111" stroke-width="4.2" stroke-linecap="round" fill="none"/>
<path d="M552.3 1460.7L546.5 1467.5L543.4 1461.0Z" fill="#111" stroke="#111" stroke-width="1.8" stroke-linejoin="round"/><path d="M535.5 1467.1Q544.2 1464.6 547.9 1462.8" stroke="#111" stroke-width="4.2" stroke-linecap="round" fill="none"/>
<path d="M592.3 1460.0L585.9 1466.3L583.3 1459.5Z" fill="#111" stroke="#111" stroke-width="1.8" stroke-linejoin="round"/><path d="M571.7 1467.8L587.7 1461.7" stroke="#111" stroke-width="4.2" stroke-linecap="round" fill="none"/>
<path d="M630.3 1460.0L624.4 1466.6L621.4 1460.1Z" fill="#111" stroke="#111" stroke-width="1.8" stroke-linejoin="round"/><path d="M609.8 1467.8Q620.3 1464.5 625.9 1462.0" stroke="#111" stroke-width="4.2" stroke-linecap="round" fill="none"/>
<path d="M665.9 1456.1L663.5 1464.8L658.0 1460.2Z" fill="#111" stroke="#111" stroke-width="1.8" stroke-linejoin="round"/><path d="M650.4 1471.7Q658.9 1464.7 662.8 1459.9" stroke="#111" stroke-width="4.2" stroke-linecap="round" fill="none"/>
<path d="M92.0 1494.1L83.7 1490.9L88.8 1485.8Z" fill="#111" stroke="#111" stroke-width="1.8" stroke-linejoin="round"/><path d="M82.2 1484.3L88.6 1490.7" stroke="#111" stroke-width="4.2" stroke-linecap="round" fill="none"/>
<path d="M129.4 1493.4L121.1 1490.2L126.2 1485.1Z" fill="#111" stroke="#111" stroke-width="1.8" stroke-linejoin="round"/><path d="M120.9 1485.0L125.9 1490.0" stroke="#111" stroke-width="4.2" stroke-linecap="round" fill="none"/>
<path d="M169.2 1489.2L161.0 1492.8L161.0 1485.6Z" fill="#111" stroke="#111" stroke-width="1.8" stroke-linejoin="round"/><path d="M157.2 1489.2L164.3 1489.2" stroke="#111" stroke-width="4.2" stroke-linecap="round" fill="none"/>
<path d="M207.8 1489.2L199.6 1492.8L199.6 1485.6Z" fill="#111" stroke="#111" stroke-width="1.8" stroke-linejoin="round"/><path d="M194.8 1489.2L202.9 1489.2" stroke="#111" stroke-width="4.2" stroke-linecap="round" fill="none"/>
<path d="M245.0 1491.3L236.1 1491.8L238.5 1485.1Z" fill="#111" stroke="#111" stroke-width="1.8" stroke-linejoin="round"/><path d="M233.7 1487.1L240.4 1489.6" stroke="#111" stroke-width="4.2" stroke-linecap="round" fill="none"/>
<path d="M281.7 1493.4L273.3 1490.2L278.4 1485.1Z" fill="#111" stroke="#111" stroke-width="1.8" stroke-linejoin="round"/><path d="M273.2 1485.0L278.2 1490.0" stroke="#111" stroke-width="4.2" stroke-linecap="round" fill="none"/>
<path d="M322.6 1491.8L313.7 1493.0L315.6 1486.1Z" fill="#111" stroke="#111" stroke-width="1.8" stroke-linejoin="round"/><path d="M308.5 1486.6Q315.3 1489.7 317.8 1490.4" stroke="#111" stroke-width="4.2" stroke-linecap="round" fill="none"/>
<path d="M363.6 1489.2L355.6 1493.2L355.2 1486.0Z" fill="#111" stroke="#111" stroke-width="1.8" stroke-linejoin="round"/><path d="M343.6 1489.2Q353.6 1489.7 358.7 1489.4" stroke="#111" stroke-width="4.2" stroke-linecap="round" fill="none"/>
<path d="M401.7 1489.2L393.2 1492.2L393.7 1485.0Z" fill="#111" stroke="#111" stroke-width="1.8" stroke-linejoin="round"/><path d="M381.7 1489.2Q391.7 1488.5 396.8 1488.8" stroke="#111" stroke-width="4.2" stroke-linecap="round" fill="none"/>
<path d="M442.5 1497.1L433.6 1495.9L437.4 1489.8Z" fill="#111" stroke="#111" stroke-width="1.8" stroke-linejoin="round"/><path d="M417.0 1481.3L438.3 1494.5" stroke="#111" stroke-width="4.2" stroke-linecap="round" fill="none"/>
<path d="M482.6 1498.5L473.7 1497.5L477.3 1491.3Z" fill="#111" stroke="#111" stroke-width="1.8" stroke-linejoin="round"/><path d="M453.0 1479.9Q467.4 1489.8 478.4 1496.0" stroke="#111" stroke-width="4.2" stroke-linecap="round" fill="none"/>
<path d="M520.0 1494.3L511.1 1495.9L512.9 1488.9Z" fill="#111" stroke="#111" stroke-width="1.8" stroke-linejoin="round"/><path d="M491.8 1484.1Q505.3 1490.8 515.2 1493.2" stroke="#111" stroke-width="4.2" stroke-linecap="round" fill="none"/>
<path d="M556.4 1489.2L548.7 1493.7L547.9 1486.6Z" fill="#111" stroke="#111" stroke-width="1.8" stroke-linejoin="round"/><path d="M531.4 1489.2Q543.9 1490.7 551.6 1489.8" stroke="#111" stroke-width="4.2" stroke-linecap="round" fill="none"/>
<path d="M593.7 1484.7L587.7 1491.4L584.7 1484.8Z" fill="#111" stroke="#111" stroke-width="1.8" stroke-linejoin="round"/><path d="M570.3 1493.7Q582.3 1489.9 589.2 1486.8" stroke="#111" stroke-width="4.2" stroke-linecap="round" fill="none"/>
<path d="M634.1 1483.8L628.3 1490.6L625.1 1484.1Z" fill="#111" stroke="#111" stroke-width="1.8" stroke-linejoin="round"/><path d="M606.1 1494.6Q620.5 1490.4 629.7 1486.0" stroke="#111" stroke-width="4.2" stroke-linecap="round" fill="none"/>
<path d="M668.0 1479.3L665.9 1488.0L660.2 1483.6Z" fill="#111" stroke="#111" stroke-width="1.8" stroke-linejoin="round"/><path d="M648.3 1499.1Q659.4 1490.5 665.0 1483.2" stroke="#111" stroke-width="4.2" stroke-linecap="round" fill="none"/>
<path d="M90.6 1518.0L82.3 1514.8L87.4 1509.7Z" fill="#111" stroke="#111" stroke-width="1.8" stroke-linejoin="round"/><path d="M83.6 1511.0L87.2 1514.6" stroke="#111" stroke-width="4.2" stroke-linecap="round" fill="none"/>
<ellipse cx="125.2" cy="1514.5" rx="4.7" ry="5.0" fill="#111"/>
<ellipse cx="163.2" cy="1514.5" rx="4.7" ry="5.0" fill="#111"/>
<path d="M206.3 1514.5L198.1 1518.1L198.1 1510.9Z" fill="#111" stroke="#111" stroke-width="1.8" stroke-linejoin="round"/><path d="M196.3 1514.5L201.4 1514.5" stroke="#111" stroke-width="4.2" stroke-linecap="round" fill="none"/>
<path d="M245.0 1516.6L236.1 1517.1L238.5 1510.4Z" fill="#111" stroke="#111" stroke-width="1.8" stroke-linejoin="round"/><path d="M233.7 1512.4L240.4 1514.9" stroke="#111" stroke-width="4.2" stroke-linecap="round" fill="none"/>
<path d="M285.0 1517.2L276.1 1518.1L278.3 1511.3Z" fill="#111" stroke="#111" stroke-width="1.8" stroke-linejoin="round"/><path d="M269.9 1511.8Q277.3 1514.8 280.3 1515.7" stroke="#111" stroke-width="4.2" stroke-linecap="round" fill="none"/>
<path d="M324.5 1514.5L316.5 1518.4L316.2 1511.2Z" fill="#111" stroke="#111" stroke-width="1.8" stroke-linejoin="round"/><path d="M306.5 1514.5Q315.5 1514.9 319.6 1514.7" stroke="#111" stroke-width="4.2" stroke-linecap="round" fill="none"/>
<path d="M364.6 1514.5L356.2 1517.7L356.6 1510.5Z" fill="#111" stroke="#111" stroke-width="1.8" stroke-linejoin="round"/><path d="M342.6 1514.5Q353.6 1513.9 359.7 1514.3" stroke="#111" stroke-width="4.2" stroke-linecap="round" fill="none"/>
<path d="M400.1 1517.6L391.2 1517.6L394.1 1511.0Z" fill="#111" stroke="#111" stroke-width="1.8" stroke-linejoin="round"/><path d="M383.2 1511.4Q391.9 1513.9 395.6 1515.6" stroke="#111" stroke-width="4.2" stroke-linecap="round" fill="none"/>
<path d="M443.3 1523.0L434.6 1520.8L439.0 1515.1Z" fill="#111" stroke="#111" stroke-width="1.8" stroke-linejoin="round"/><path d="M416.2 1506.0Q430.6 1513.2 439.4 1520.0" stroke="#111" stroke-width="4.2" stroke-linecap="round" fill="none"/>
<path d="M483.9 1524.6L475.0 1523.7L478.5 1517.4Z" fill="#111" stroke="#111" stroke-width="1.8" stroke-linejoin="round"/><path d="M451.7 1504.4Q467.4 1515.2 479.6 1522.1" stroke="#111" stroke-width="4.2" stroke-linecap="round" fill="none"/>
<path d="M522.3 1520.5L513.5 1522.2L515.1 1515.2Z" fill="#111" stroke="#111" stroke-width="1.8" stroke-linejoin="round"/><path d="M489.4 1508.5Q505.1 1516.6 517.5 1519.4" stroke="#111" stroke-width="4.2" stroke-linecap="round" fill="none"/>
<path d="M561.4 1514.5L553.6 1518.7L553.0 1511.6Z" fill="#111" stroke="#111" stroke-width="1.8" stroke-linejoin="round"/><path d="M526.4 1514.5Q543.9 1515.9 556.5 1514.9" stroke="#111" stroke-width="4.2" stroke-linecap="round" fill="none"/>
<path d="M599.5 1514.5L591.6 1518.8L591.0 1511.6Z" fill="#111" stroke="#111" stroke-width="1.8" stroke-linejoin="round"/><path d="M564.5 1514.5Q582.0 1516.0 594.6 1514.9" stroke="#111" stroke-width="4.2" stroke-linecap="round" fill="none"/>
<path d="M636.4 1508.2L631.3 1515.6L627.5 1509.4Z" fill="#111" stroke="#111" stroke-width="1.8" stroke-linejoin="round"/><path d="M603.7 1520.8Q621.2 1517.5 632.2 1510.8" stroke="#111" stroke-width="4.2" stroke-linecap="round" fill="none"/>
<path d="M668.8 1503.9L666.7 1512.6L660.9 1508.3Z" fill="#111" stroke="#111" stroke-width="1.8" stroke-linejoin="round"/><path d="M647.5 1525.1Q659.6 1516.0 665.8 1507.8" stroke="#111" stroke-width="4.2" stroke-linecap="round" fill="none"/>
<ellipse cx="87.1" cy="1539.8" rx="4.7" ry="5.0" fill="#111"/>
<path d="M125.2 1534.8L128.8 1543.0L121.6 1543.0Z" fill="#111" stroke="#111" stroke-width="1.8" stroke-linejoin="round"/><path d="M125.2 1544.8L125.2 1539.7" stroke="#111" stroke-width="4.2" stroke-linecap="round" fill="none"/>
<path d="M165.1 1535.2L165.4 1544.1L158.7 1541.4Z" fill="#111" stroke="#111" stroke-width="1.8" stroke-linejoin="round"/><path d="M161.4 1544.4L163.3 1539.7" stroke="#111" stroke-width="4.2" stroke-linecap="round" fill="none"/>
<path d="M206.3 1539.8L198.1 1543.4L198.1 1536.2Z" fill="#111" stroke="#111" stroke-width="1.8" stroke-linejoin="round"/><path d="M196.3 1539.8L201.4 1539.8" stroke="#111" stroke-width="4.2" stroke-linecap="round" fill="none"/>
<path d="M246.4 1539.8L238.2 1543.4L238.2 1536.2Z" fill="#111" stroke="#111" stroke-width="1.8" stroke-linejoin="round"/><path d="M232.4 1539.8L241.5 1539.8" stroke="#111" stroke-width="4.2" stroke-linecap="round" fill="none"/>
<path d="M285.0 1542.5L276.0 1543.1L278.5 1536.3Z" fill="#111" stroke="#111" stroke-width="1.8" stroke-linejoin="round"/><path d="M269.9 1537.1L280.3 1540.9" stroke="#111" stroke-width="4.2" stroke-linecap="round" fill="none"/>
<path d="M325.5 1539.8L317.7 1544.2L317.0 1537.0Z" fill="#111" stroke="#111" stroke-width="1.8" stroke-linejoin="round"/><path d="M305.5 1539.8Q315.5 1540.7 320.6 1540.3" stroke="#111" stroke-width="4.2" stroke-linecap="round" fill="none"/>
<path d="M363.9 1535.9L357.5 1542.2L354.9 1535.4Z" fill="#111" stroke="#111" stroke-width="1.8" stroke-linejoin="round"/><path d="M343.3 1543.7L359.3 1537.6" stroke="#111" stroke-width="4.2" stroke-linecap="round" fill="none"/>
<path d="M400.7 1539.8L392.1 1542.5L392.9 1535.3Z" fill="#111" stroke="#111" stroke-width="1.8" stroke-linejoin="round"/><path d="M382.7 1539.8Q391.7 1538.8 395.8 1539.3" stroke="#111" stroke-width="4.2" stroke-linecap="round" fill="none"/>
<path d="M442.5 1547.7L433.8 1545.3L438.5 1539.7Z" fill="#111" stroke="#111" stroke-width="1.8" stroke-linejoin="round"/><path d="M417.0 1531.9Q430.8 1538.0 438.7 1544.6" stroke="#111" stroke-width="4.2" stroke-linecap="round" fill="none"/>
<path d="M483.9 1549.9L475.1 1548.2L479.2 1542.2Z" fill="#111" stroke="#111" stroke-width="1.8" stroke-linejoin="round"/><path d="M451.7 1529.7Q468.3 1539.0 479.9 1547.1" stroke="#111" stroke-width="4.2" stroke-linecap="round" fill="none"/>
<path d="M522.3 1545.8L513.4 1546.8L515.6 1539.9Z" fill="#111" stroke="#111" stroke-width="1.8" stroke-linejoin="round"/><path d="M489.4 1533.8Q505.6 1540.6 517.6 1544.3" stroke="#111" stroke-width="4.2" stroke-linecap="round" fill="none"/>
<path d="M559.0 1545.3L550.1 1546.5L552.1 1539.6Z" fill="#111" stroke="#111" stroke-width="1.8" stroke-linejoin="round"/><path d="M528.9 1534.3Q543.5 1540.9 554.2 1543.9" stroke="#111" stroke-width="4.2" stroke-linecap="round" fill="none"/>
<path d="M598.0 1539.8L590.4 1544.6L589.4 1537.5Z" fill="#111" stroke="#111" stroke-width="1.8" stroke-linejoin="round"/><path d="M566.0 1539.8Q582.0 1542.2 593.1 1540.5" stroke="#111" stroke-width="4.2" stroke-linecap="round" fill="none"/>
<path d="M634.1 1534.4L628.8 1541.6L625.2 1535.4Z" fill="#111" stroke="#111" stroke-width="1.8" stroke-linejoin="round"/><path d="M606.1 1545.2Q620.9 1542.0 629.8 1536.9" stroke="#111" stroke-width="4.2" stroke-linecap="round" fill="none"/>
<path d="M668.0 1529.9L666.9 1538.8L660.7 1535.0Z" fill="#111" stroke="#111" stroke-width="1.8" stroke-linejoin="round"/><path d="M648.3 1549.7Q660.6 1542.2 665.5 1534.1" stroke="#111" stroke-width="4.2" stroke-linecap="round" fill="none"/>
<ellipse cx="87.1" cy="1565.1" rx="4.7" ry="5.0" fill="#111"/>
<path d="M127.0 1560.5L127.3 1569.4L120.6 1566.7Z" fill="#111" stroke="#111" stroke-width="1.8" stroke-linejoin="round"/><path d="M123.3 1569.7L125.2 1565.0" stroke="#111" stroke-width="4.2" stroke-linecap="round" fill="none"/>
<path d="M166.8 1561.6L163.5 1569.9L158.4 1564.8Z" fill="#111" stroke="#111" stroke-width="1.8" stroke-linejoin="round"/><path d="M159.7 1568.6L163.3 1565.0" stroke="#111" stroke-width="4.2" stroke-linecap="round" fill="none"/>
<path d="M207.8 1562.6L201.0 1568.4L199.0 1561.5Z" fill="#111" stroke="#111" stroke-width="1.8" stroke-linejoin="round"/><path d="M194.8 1567.6Q201.1 1564.6 203.1 1564.0" stroke="#111" stroke-width="4.2" stroke-linecap="round" fill="none"/>
<path d="M247.4 1565.1L238.9 1568.1L239.5 1560.9Z" fill="#111" stroke="#111" stroke-width="1.8" stroke-linejoin="round"/><path d="M231.4 1565.1Q239.4 1564.5 242.5 1564.7" stroke="#111" stroke-width="4.2" stroke-linecap="round" fill="none"/>
<path d="M285.9 1568.2L277.0 1568.8L279.4 1562.0Z" fill="#111" stroke="#111" stroke-width="1.8" stroke-linejoin="round"/><path d="M269.0 1562.0L281.3 1566.5" stroke="#111" stroke-width="4.2" stroke-linecap="round" fill="none"/>
<path d="M323.5 1565.1L315.5 1569.0L315.2 1561.8Z" fill="#111" stroke="#111" stroke-width="1.8" stroke-linejoin="round"/><path d="M307.5 1565.1Q315.5 1565.4 318.6 1565.3" stroke="#111" stroke-width="4.2" stroke-linecap="round" fill="none"/>
<path d="M359.6 1565.1L351.4 1568.7L351.4 1561.5Z" fill="#111" stroke="#111" stroke-width="1.8" stroke-linejoin="round"/><path d="M347.6 1565.1L354.7 1565.1" stroke="#111" stroke-width="4.2" stroke-linecap="round" fill="none"/>
<ellipse cx="391.7" cy="1565.1" rx="4.7" ry="5.0" fill="#111"/>
<path d="M429.7 1577.6L428.3 1568.8L435.2 1570.5Z" fill="#111" stroke="#111" stroke-width="1.8" stroke-linejoin="round"/><path d="M429.7 1552.6Q432.9 1565.1 430.9 1572.8" stroke="#111" stroke-width="4.2" stroke-linecap="round" fill="none"/>
<path d="M473.4 1579.0L469.1 1571.1L476.3 1570.5Z" fill="#111" stroke="#111" stroke-width="1.8" stroke-linejoin="round"/><path d="M462.2 1551.2Q472.1 1563.4 473.0 1574.1" stroke="#111" stroke-width="4.2" stroke-linecap="round" fill="none"/>
<path d="M514.7 1573.9L506.6 1570.2L512.0 1565.4Z" fill="#111" stroke="#111" stroke-width="1.8" stroke-linejoin="round"/><path d="M497.0 1556.3Q506.4 1564.6 511.5 1570.3" stroke="#111" stroke-width="4.2" stroke-linecap="round" fill="none"/>
<path d="M555.7 1569.4L546.9 1571.1L548.5 1564.1Z" fill="#111" stroke="#111" stroke-width="1.8" stroke-linejoin="round"/><path d="M532.2 1560.8Q543.4 1566.6 550.9 1568.3" stroke="#111" stroke-width="4.2" stroke-linecap="round" fill="none"/>
<path d="M596.0 1565.1L588.1 1569.2L587.6 1562.0Z" fill="#111" stroke="#111" stroke-width="1.8" stroke-linejoin="round"/><path d="M568.0 1565.1Q582.0 1566.0 591.1 1565.4" stroke="#111" stroke-width="4.2" stroke-linecap="round" fill="none"/>
<path d="M635.1 1565.1L626.9 1568.7L626.9 1561.5Z" fill="#111" stroke="#111" stroke-width="1.8" stroke-linejoin="round"/><path d="M605.1 1565.1L630.2 1565.1" stroke="#111" stroke-width="4.2" stroke-linecap="round" fill="none"/>
<path d="M669.1 1565.1L660.9 1568.7L660.9 1561.5Z" fill="#111" stroke="#111" stroke-width="1.8" stroke-linejoin="round"/><path d="M647.1 1565.1L664.2 1565.1" stroke="#111" stroke-width="4.2" stroke-linecap="round" fill="none"/>
<ellipse cx="87.1" cy="1590.4" rx="4.7" ry="5.0" fill="#111"/>
<path d="M127.8 1583.9L128.6 1592.8L121.7 1590.5Z" fill="#111" stroke="#111" stroke-width="1.8" stroke-linejoin="round"/><path d="M122.5 1596.9Q125.5 1590.5 126.2 1588.6" stroke="#111" stroke-width="4.2" stroke-linecap="round" fill="none"/>
<path d="M168.5 1585.1L165.3 1593.4L160.2 1588.3Z" fill="#111" stroke="#111" stroke-width="1.8" stroke-linejoin="round"/><path d="M157.9 1595.7L165.1 1588.6" stroke="#111" stroke-width="4.2" stroke-linecap="round" fill="none"/>
<path d="M209.3 1590.4L200.7 1593.0L201.6 1585.9Z" fill="#111" stroke="#111" stroke-width="1.8" stroke-linejoin="round"/><path d="M193.3 1590.4Q201.3 1589.4 204.4 1589.8" stroke="#111" stroke-width="4.2" stroke-linecap="round" fill="none"/>
<path d="M247.8 1593.5L238.9 1593.2L242.0 1586.7Z" fill="#111" stroke="#111" stroke-width="1.8" stroke-linejoin="round"/><path d="M230.9 1587.3Q239.7 1589.6 243.4 1591.4" stroke="#111" stroke-width="4.2" stroke-linecap="round" fill="none"/>
<path d="M284.5 1597.5L276.9 1592.8L282.7 1588.7Z" fill="#111" stroke="#111" stroke-width="1.8" stroke-linejoin="round"/><path d="M270.4 1583.3Q278.7 1589.2 281.7 1593.4" stroke="#111" stroke-width="4.2" stroke-linecap="round" fill="none"/>
<path d="M321.2 1596.1L313.4 1591.7L319.1 1587.3Z" fill="#111" stroke="#111" stroke-width="1.8" stroke-linejoin="round"/><path d="M309.9 1584.7Q316.3 1589.6 318.2 1592.1" stroke="#111" stroke-width="4.2" stroke-linecap="round" fill="none"/>
<path d="M357.1 1593.9L348.8 1590.7L353.9 1585.6Z" fill="#111" stroke="#111" stroke-width="1.8" stroke-linejoin="round"/><path d="M350.1 1586.9L353.6 1590.5" stroke="#111" stroke-width="4.2" stroke-linecap="round" fill="none"/>
<path d="M391.7 1595.4L388.1 1587.2L395.3 1587.2Z" fill="#111" stroke="#111" stroke-width="1.8" stroke-linejoin="round"/><path d="M391.7 1585.4L391.7 1590.5" stroke="#111" stroke-width="4.2" stroke-linecap="round" fill="none"/>
<path d="M429.7 1602.9L426.9 1594.4L434.1 1595.1Z" fill="#111" stroke="#111" stroke-width="1.8" stroke-linejoin="round"/><path d="M429.7 1577.9Q430.9 1590.4 430.2 1598.0" stroke="#111" stroke-width="4.2" stroke-linecap="round" fill="none"/>
<path d="M467.8 1602.9L465.8 1594.2L472.9 1595.5Z" fill="#111" stroke="#111" stroke-width="1.8" stroke-linejoin="round"/><path d="M467.8 1577.9Q470.2 1590.4 468.7 1598.1" stroke="#111" stroke-width="4.2" stroke-linecap="round" fill="none"/>
<path d="M505.9 1597.4L504.1 1588.6L511.2 1590.2Z" fill="#111" stroke="#111" stroke-width="1.8" stroke-linejoin="round"/><path d="M505.9 1583.4Q507.4 1590.4 506.9 1592.6" stroke="#111" stroke-width="4.2" stroke-linecap="round" fill="none"/>
<ellipse cx="543.9" cy="1590.4" rx="4.7" ry="5.0" fill="#111"/>
<path d="M587.6 1588.2L581.2 1594.5L578.7 1587.8Z" fill="#111" stroke="#111" stroke-width="1.8" stroke-linejoin="round"/><path d="M576.4 1592.6L583.0 1590.0" stroke="#111" stroke-width="4.2" stroke-linecap="round" fill="none"/>
<path d="M628.1 1590.4L619.6 1593.4L620.2 1586.2Z" fill="#111" stroke="#111" stroke-width="1.8" stroke-linejoin="round"/><path d="M612.1 1590.4Q620.1 1589.8 623.2 1590.0" stroke="#111" stroke-width="4.2" stroke-linecap="round" fill="none"/>
<path d="M666.6 1593.5L657.7 1593.3L660.7 1586.8Z" fill="#111" stroke="#111" stroke-width="1.8" stroke-linejoin="round"/><path d="M649.7 1587.3Q658.4 1589.7 662.1 1591.4" stroke="#111" stroke-width="4.2" stroke-linecap="round" fill="none"/>
<path d="M90.6 1612.2L87.4 1620.5L82.3 1615.4Z" fill="#111" stroke="#111" stroke-width="1.8" stroke-linejoin="round"/><path d="M83.6 1619.2L87.2 1615.6" stroke="#111" stroke-width="4.2" stroke-linecap="round" fill="none"/>
<path d="M131.5 1609.3L128.3 1617.7L123.2 1612.6Z" fill="#111" stroke="#111" stroke-width="1.8" stroke-linejoin="round"/><path d="M118.8 1622.1L128.1 1612.8" stroke="#111" stroke-width="4.2" stroke-linecap="round" fill="none"/>
<path d="M168.8 1613.5L162.5 1619.8L159.9 1613.1Z" fill="#111" stroke="#111" stroke-width="1.8" stroke-linejoin="round"/><path d="M157.6 1617.9L164.2 1615.3" stroke="#111" stroke-width="4.2" stroke-linecap="round" fill="none"/>
<path d="M205.6 1619.9L197.2 1616.7L202.3 1611.6Z" fill="#111" stroke="#111" stroke-width="1.8" stroke-linejoin="round"/><path d="M197.1 1611.5L202.1 1616.5" stroke="#111" stroke-width="4.2" stroke-linecap="round" fill="none"/>
<path d="M239.4 1623.2L238.3 1614.3L245.2 1616.4Z" fill="#111" stroke="#111" stroke-width="1.8" stroke-linejoin="round"/><path d="M239.4 1608.2Q241.7 1615.7 240.8 1618.5" stroke="#111" stroke-width="4.2" stroke-linecap="round" fill="none"/>
<path d="M277.4 1623.2L275.8 1614.4L282.8 1616.1Z" fill="#111" stroke="#111" stroke-width="1.8" stroke-linejoin="round"/><path d="M277.4 1608.2Q279.2 1615.7 278.6 1618.4" stroke="#111" stroke-width="4.2" stroke-linecap="round" fill="none"/>
<path d="M315.5 1622.7L313.8 1613.9L320.8 1615.5Z" fill="#111" stroke="#111" stroke-width="1.8" stroke-linejoin="round"/><path d="M315.5 1608.7Q317.1 1615.7 316.6 1617.9" stroke="#111" stroke-width="4.2" stroke-linecap="round" fill="none"/>
<path d="M351.0 1622.2L351.7 1613.3L358.0 1616.7Z" fill="#111" stroke="#111" stroke-width="1.8" stroke-linejoin="round"/><path d="M356.2 1609.2Q354.3 1616.0 353.3 1617.9" stroke="#111" stroke-width="4.2" stroke-linecap="round" fill="none"/>
<path d="M384.6 1622.8L388.5 1614.7L393.2 1620.2Z" fill="#111" stroke="#111" stroke-width="1.8" stroke-linejoin="round"/><path d="M398.7 1608.6Q392.3 1616.3 388.4 1619.6" stroke="#111" stroke-width="4.2" stroke-linecap="round" fill="none"/>
<path d="M426.0 1625.0L427.1 1616.1L433.3 1619.8Z" fill="#111" stroke="#111" stroke-width="1.8" stroke-linejoin="round"/><path d="M433.5 1606.4Q431.2 1616.3 428.5 1620.7" stroke="#111" stroke-width="4.2" stroke-linecap="round" fill="none"/>
<path d="M463.1 1627.3L464.6 1618.5L470.6 1622.4Z" fill="#111" stroke="#111" stroke-width="1.8" stroke-linejoin="round"/><path d="M472.5 1604.1Q470.1 1616.6 465.8 1623.2" stroke="#111" stroke-width="4.2" stroke-linecap="round" fill="none"/>
<path d="M500.9 1620.6L504.2 1612.3L509.3 1617.4Z" fill="#111" stroke="#111" stroke-width="1.8" stroke-linejoin="round"/><path d="M510.8 1610.8L504.4 1617.2" stroke="#111" stroke-width="4.2" stroke-linecap="round" fill="none"/>
<path d="M543.9 1620.7L540.3 1612.5L547.5 1612.5Z" fill="#111" stroke="#111" stroke-width="1.8" stroke-linejoin="round"/><path d="M543.9 1610.7L543.9 1615.8" stroke="#111" stroke-width="4.2" stroke-linecap="round" fill="none"/>
<path d="M585.5 1612.2L582.3 1620.5L577.2 1615.4Z" fill="#111" stroke="#111" stroke-width="1.8" stroke-linejoin="round"/><path d="M578.5 1619.2L582.1 1615.6" stroke="#111" stroke-width="4.2" stroke-linecap="round" fill="none"/>
<path d="M627.1 1615.7L618.5 1618.4L619.3 1611.3Z" fill="#111" stroke="#111" stroke-width="1.8" stroke-linejoin="round"/><path d="M613.1 1615.7Q620.1 1615.0 622.2 1615.2" stroke="#111" stroke-width="4.2" stroke-linecap="round" fill="none"/>
<path d="M667.5 1619.1L658.6 1618.9L661.7 1612.4Z" fill="#111" stroke="#111" stroke-width="1.8" stroke-linejoin="round"/><path d="M648.8 1612.3Q658.5 1614.8 663.1 1617.0" stroke="#111" stroke-width="4.2" stroke-linecap="round" fill="none"/>
<path d="M90.6 1637.5L87.4 1645.8L82.3 1640.7Z" fill="#111" stroke="#111" stroke-width="1.8" stroke-linejoin="round"/><path d="M83.6 1644.5L87.2 1640.9" stroke="#111" stroke-width="4.2" stroke-linecap="round" fill="none"/>
<path d="M128.7 1637.5L125.5 1645.8L120.4 1640.7Z" fill="#111" stroke="#111" stroke-width="1.8" stroke-linejoin="round"/><path d="M121.6 1644.5L125.2 1640.9" stroke="#111" stroke-width="4.2" stroke-linecap="round" fill="none"/>
<path d="M160.6 1647.5L165.5 1640.0L169.5 1646.0Z" fill="#111" stroke="#111" stroke-width="1.8" stroke-linejoin="round"/><path d="M165.9 1634.5Q167.8 1642.8 164.7 1644.8" stroke="#111" stroke-width="4.2" stroke-linecap="round" fill="none"/>
<path d="M190.7 1651.6L196.0 1644.4L199.6 1650.6Z" fill="#111" stroke="#111" stroke-width="1.8" stroke-linejoin="round"/><path d="M211.9 1630.4Q204.1 1643.8 195.0 1649.1" stroke="#111" stroke-width="4.2" stroke-linecap="round" fill="none"/>
<path d="M227.0 1653.4L232.6 1646.4L235.9 1652.7Z" fill="#111" stroke="#111" stroke-width="1.8" stroke-linejoin="round"/><path d="M251.8 1628.6Q243.2 1644.8 231.4 1651.1" stroke="#111" stroke-width="4.2" stroke-linecap="round" fill="none"/>
<path d="M264.0 1654.4L269.8 1647.6L273.0 1654.0Z" fill="#111" stroke="#111" stroke-width="1.8" stroke-linejoin="round"/><path d="M290.9 1627.6Q282.0 1645.5 268.4 1652.3" stroke="#111" stroke-width="4.2" stroke-linecap="round" fill="none"/>
<path d="M301.4 1655.1L306.0 1647.5L310.2 1653.4Z" fill="#111" stroke="#111" stroke-width="1.8" stroke-linejoin="round"/><path d="M329.7 1626.9Q318.0 1643.5 305.4 1652.3" stroke="#111" stroke-width="4.2" stroke-linecap="round" fill="none"/>
<path d="M339.4 1655.1L342.7 1646.8L347.8 1651.9Z" fill="#111" stroke="#111" stroke-width="1.8" stroke-linejoin="round"/><path d="M367.7 1626.9L342.9 1651.7" stroke="#111" stroke-width="4.2" stroke-linecap="round" fill="none"/>
<path d="M378.2 1654.4L382.8 1646.7L387.0 1652.6Z" fill="#111" stroke="#111" stroke-width="1.8" stroke-linejoin="round"/><path d="M405.1 1627.6Q393.9 1643.3 382.2 1651.6" stroke="#111" stroke-width="4.2" stroke-linecap="round" fill="none"/>
<path d="M417.4 1653.4L421.8 1645.6L426.1 1651.4Z" fill="#111" stroke="#111" stroke-width="1.8" stroke-linejoin="round"/><path d="M442.1 1628.6Q431.6 1642.9 421.3 1650.5" stroke="#111" stroke-width="4.2" stroke-linecap="round" fill="none"/>
<path d="M459.0 1649.8L462.2 1641.5L467.3 1646.6Z" fill="#111" stroke="#111" stroke-width="1.8" stroke-linejoin="round"/><path d="M476.6 1632.2L462.4 1646.4" stroke="#111" stroke-width="4.2" stroke-linecap="round" fill="none"/>
<path d="M501.6 1645.2L504.9 1636.9L510.0 1642.0Z" fill="#111" stroke="#111" stroke-width="1.8" stroke-linejoin="round"/><path d="M510.1 1636.8L505.1 1641.8" stroke="#111" stroke-width="4.2" stroke-linecap="round" fill="none"/>
<path d="M548.2 1636.8L544.9 1645.1L539.8 1640.0Z" fill="#111" stroke="#111" stroke-width="1.8" stroke-linejoin="round"/><path d="M539.7 1645.2L544.7 1640.2" stroke="#111" stroke-width="4.2" stroke-linecap="round" fill="none"/>
<path d="M587.0 1636.1L582.7 1643.9L578.3 1638.3Z" fill="#111" stroke="#111" stroke-width="1.8" stroke-linejoin="round"/><path d="M577.1 1645.9Q581.4 1640.4 583.1 1639.1" stroke="#111" stroke-width="4.2" stroke-linecap="round" fill="none"/>
<path d="M625.1 1641.0L616.9 1644.6L616.9 1637.4Z" fill="#111" stroke="#111" stroke-width="1.8" stroke-linejoin="round"/><path d="M615.1 1641.0L620.2 1641.0" stroke="#111" stroke-width="4.2" stroke-linecap="round" fill="none"/>
<path d="M668.5 1644.8L659.5 1644.4L662.7 1638.0Z" fill="#111" stroke="#111" stroke-width="1.8" stroke-linejoin="round"/><path d="M647.8 1637.2Q658.5 1640.0 664.1 1642.6" stroke="#111" stroke-width="4.2" stroke-linecap="round" fill="none"/>
</g>
<g clip-path="url(#clip_p2r)">
<ellipse cx="763.2" cy="1261.7" rx="4.7" ry="5.0" fill="#111"/>
<ellipse cx="801.3" cy="1261.7" rx="4.7" ry="5.0" fill="#111"/>
<ellipse cx="839.3" cy="1261.7" rx="4.7" ry="5.0" fill="#111"/>
<ellipse cx="877.4" cy="1261.7" rx="4.7" ry="5.0" fill="#111"/>
<ellipse cx="915.5" cy="1261.7" rx="4.7" ry="5.0" fill="#111"/>
<ellipse cx="953.6" cy="1261.7" rx="4.7" ry="5.0" fill="#111"/>
<ellipse cx="991.6" cy="1261.7" rx="4.7" ry="5.0" fill="#111"/>
<ellipse cx="1029.7" cy="1261.7" rx="4.7" ry="5.0" fill="#111"/>
<ellipse cx="1067.8" cy="1261.7" rx="4.7" ry="5.0" fill="#111"/>
<ellipse cx="1105.8" cy="1261.7" rx="4.7" ry="5.0" fill="#111"/>
<ellipse cx="1143.9" cy="1261.7" rx="4.7" ry="5.0" fill="#111"/>
<ellipse cx="1182.0" cy="1261.7" rx="4.7" ry="5.0" fill="#111"/>
<ellipse cx="1220.0" cy="1261.7" rx="4.7" ry="5.0" fill="#111"/>
<ellipse cx="1258.1" cy="1261.7" rx="4.7" ry="5.0" fill="#111"/>
<path d="M1290.9 1256.4L1299.2 1259.6L1294.1 1264.7Z" fill="#111" stroke="#111" stroke-width="1.8" stroke-linejoin="round"/><path d="M1301.5 1267.0L1294.4 1259.9" stroke="#111" stroke-width="4.2" stroke-linecap="round" fill="none"/>
<ellipse cx="763.2" cy="1287.0" rx="4.7" ry="5.0" fill="#111"/>
<ellipse cx="801.3" cy="1287.0" rx="4.7" ry="5.0" fill="#111"/>
<ellipse cx="839.3" cy="1287.0" rx="4.7" ry="5.0" fill="#111"/>
<ellipse cx="877.4" cy="1287.0" rx="4.7" ry="5.0" fill="#111"/>
<ellipse cx="915.5" cy="1287.0" rx="4.7" ry="5.0" fill="#111"/>
<ellipse cx="953.6" cy="1287.0" rx="4.7" ry="5.0" fill="#111"/>
<ellipse cx="991.6" cy="1287.0" rx="4.7" ry="5.0" fill="#111"/>
<ellipse cx="1029.7" cy="1287.0" rx="4.7" ry="5.0" fill="#111"/>
<ellipse cx="1067.8" cy="1287.0" rx="4.7" ry="5.0" fill="#111"/>
<ellipse cx="1105.8" cy="1287.0" rx="4.7" ry="5.0" fill="#111"/>
<ellipse cx="1143.9" cy="1287.0" rx="4.7" ry="5.0" fill="#111"/>
<ellipse cx="1182.0" cy="1287.0" rx="4.7" ry="5.0" fill="#111"/>
<ellipse cx="1220.0" cy="1287.0" rx="4.7" ry="5.0" fill="#111"/>
<ellipse cx="1258.1" cy="1287.0" rx="4.7" ry="5.0" fill="#111"/>
<path d="M1291.9 1282.8L1300.3 1286.0L1295.2 1291.1Z" fill="#111" stroke="#111" stroke-width="1.8" stroke-linejoin="round"/><path d="M1300.4 1291.2L1295.4 1286.2" stroke="#111" stroke-width="4.2" stroke-linecap="round" fill="none"/>
<ellipse cx="763.2" cy="1312.3" rx="4.7" ry="5.0" fill="#111"/>
<ellipse cx="801.3" cy="1312.3" rx="4.7" ry="5.0" fill="#111"/>
<ellipse cx="839.3" cy="1312.3" rx="4.7" ry="5.0" fill="#111"/>
<ellipse cx="877.4" cy="1312.3" rx="4.7" ry="5.0" fill="#111"/>
<ellipse cx="915.5" cy="1312.3" rx="4.7" ry="5.0" fill="#111"/>
<path d="M950.9 1305.8L956.6 1312.7L949.7 1314.7Z" fill="#111" stroke="#111" stroke-width="1.8" stroke-linejoin="round"/><path d="M956.2 1318.8Q952.8 1312.6 952.3 1310.5" stroke="#111" stroke-width="4.2" stroke-linecap="round" fill="none"/>
<path d="M991.6 1306.3L995.2 1314.5L988.0 1314.5Z" fill="#111" stroke="#111" stroke-width="1.8" stroke-linejoin="round"/><path d="M991.6 1318.3L991.6 1311.2" stroke="#111" stroke-width="4.2" stroke-linecap="round" fill="none"/>
<ellipse cx="1029.7" cy="1312.3" rx="4.7" ry="5.0" fill="#111"/>
<ellipse cx="1067.8" cy="1312.3" rx="4.7" ry="5.0" fill="#111"/>
<ellipse cx="1105.8" cy="1312.3" rx="4.7" ry="5.0" fill="#111"/>
<ellipse cx="1143.9" cy="1312.3" rx="4.7" ry="5.0" fill="#111"/>
<ellipse cx="1182.0" cy="1312.3" rx="4.7" ry="5.0" fill="#111"/>
<ellipse cx="1220.0" cy="1312.3" rx="4.7" ry="5.0" fill="#111"/>
<ellipse cx="1258.1" cy="1312.3" rx="4.7" ry="5.0" fill="#111"/>
<path d="M1293.9 1306.7L1300.3 1313.0L1293.7 1315.7Z" fill="#111" stroke="#111" stroke-width="1.8" stroke-linejoin="round"/><path d="M1298.4 1317.9L1295.8 1311.3" stroke="#111" stroke-width="4.2" stroke-linecap="round" fill="none"/>
<ellipse cx="1334.2" cy="1312.3" rx="4.7" ry="5.0" fill="#111"/>
<path d="M768.8 1335.4L762.4 1341.7L759.9 1335.0Z" fill="#111" stroke="#111" stroke-width="1.8" stroke-linejoin="round"/><path d="M757.6 1339.8L764.2 1337.2" stroke="#111" stroke-width="4.2" stroke-linecap="round" fill="none"/>
<ellipse cx="801.3" cy="1337.6" rx="4.7" ry="5.0" fill="#111"/>
<ellipse cx="839.3" cy="1337.6" rx="4.7" ry="5.0" fill="#111"/>
<path d="M877.4 1332.6L881.0 1340.8L873.8 1340.8Z" fill="#111" stroke="#111" stroke-width="1.8" stroke-linejoin="round"/><path d="M877.4 1342.6L877.4 1337.5" stroke="#111" stroke-width="4.2" stroke-linecap="round" fill="none"/>
<path d="M915.5 1332.6L919.1 1340.8L911.9 1340.8Z" fill="#111" stroke="#111" stroke-width="1.8" stroke-linejoin="round"/><path d="M915.5 1342.6L915.5 1337.5" stroke="#111" stroke-width="4.2" stroke-linecap="round" fill="none"/>
<path d="M946.5 1330.5L954.8 1333.8L949.7 1338.9Z" fill="#111" stroke="#111" stroke-width="1.8" stroke-linejoin="round"/><path d="M960.6 1344.7L950.0 1334.0" stroke="#111" stroke-width="4.2" stroke-linecap="round" fill="none"/>
<ellipse cx="991.6" cy="1337.6" rx="4.7" ry="5.0" fill="#111"/>
<ellipse cx="1029.7" cy="1337.6" rx="4.7" ry="5.0" fill="#111"/>
<ellipse cx="1067.8" cy="1337.6" rx="4.7" ry="5.0" fill="#111"/>
<ellipse cx="1105.8" cy="1337.6" rx="4.7" ry="5.0" fill="#111"/>
<ellipse cx="1143.9" cy="1337.6" rx="4.7" ry="5.0" fill="#111"/>
<ellipse cx="1182.0" cy="1337.6" rx="4.7" ry="5.0" fill="#111"/>
<ellipse cx="1220.0" cy="1337.6" rx="4.7" ry="5.0" fill="#111"/>
<ellipse cx="1258.1" cy="1337.6" rx="4.7" ry="5.0" fill="#111"/>
<ellipse cx="1296.2" cy="1337.6" rx="4.7" ry="5.0" fill="#111"/>
<path d="M1328.6 1335.5L1337.5 1335.0L1335.1 1341.7Z" fill="#111" stroke="#111" stroke-width="1.8" stroke-linejoin="round"/><path d="M1339.9 1339.7L1333.2 1337.2" stroke="#111" stroke-width="4.2" stroke-linecap="round" fill="none"/>
<ellipse cx="763.2" cy="1362.9" rx="4.7" ry="5.0" fill="#111"/>
<path d="M812.9 1358.4L808.5 1366.2L804.2 1360.4Z" fill="#111" stroke="#111" stroke-width="1.8" stroke-linejoin="round"/><path d="M789.6 1367.4Q802.5 1366.1 809.0 1361.3" stroke="#111" stroke-width="4.2" stroke-linecap="round" fill="none"/>
<path d="M847.8 1342.0L851.1 1350.3L843.9 1350.1Z" fill="#111" stroke="#111" stroke-width="1.8" stroke-linejoin="round"/><path d="M830.9 1383.8Q847.1 1366.0 847.6 1347.0" stroke="#111" stroke-width="4.2" stroke-linecap="round" fill="none"/>
<path d="M887.7 1337.4L888.0 1346.4L881.3 1343.7Z" fill="#111" stroke="#111" stroke-width="1.8" stroke-linejoin="round"/><path d="M867.1 1388.4L885.9 1342.0" stroke="#111" stroke-width="4.2" stroke-linecap="round" fill="none"/>
<path d="M915.5 1332.9L919.1 1341.1L911.9 1341.1Z" fill="#111" stroke="#111" stroke-width="1.8" stroke-linejoin="round"/><path d="M915.5 1392.9L915.5 1337.8" stroke="#111" stroke-width="4.2" stroke-linecap="round" fill="none"/>
<ellipse cx="953.6" cy="1362.9" rx="4.7" ry="5.0" fill="#111"/>
<ellipse cx="991.6" cy="1362.9" rx="4.7" ry="5.0" fill="#111"/>
<path d="M1026.2 1359.4L1034.5 1362.6L1029.4 1367.7Z" fill="#111" stroke="#111" stroke-width="1.8" stroke-linejoin="round"/><path d="M1033.2 1366.4L1029.6 1362.8" stroke="#111" stroke-width="4.2" stroke-linecap="round" fill="none"/>
<ellipse cx="1067.8" cy="1362.9" rx="4.7" ry="5.0" fill="#111"/>
<ellipse cx="1105.8" cy="1362.9" rx="4.7" ry="5.0" fill="#111"/>
<ellipse cx="1143.9" cy="1362.9" rx="4.7" ry="5.0" fill="#111"/>
<ellipse cx="1182.0" cy="1362.9" rx="4.7" ry="5.0" fill="#111"/>
<ellipse cx="1220.0" cy="1362.9" rx="4.7" ry="5.0" fill="#111"/>
<ellipse cx="1258.1" cy="1362.9" rx="4.7" ry="5.0" fill="#111"/>
<ellipse cx="1296.2" cy="1362.9" rx="4.7" ry="5.0" fill="#111"/>
<path d="M1329.3 1358.0L1337.6 1361.2L1332.6 1366.3Z" fill="#111" stroke="#111" stroke-width="1.8" stroke-linejoin="round"/><path d="M1339.2 1367.8L1332.8 1361.4" stroke="#111" stroke-width="4.2" stroke-linecap="round" fill="none"/>
<path d="M766.7 1384.7L763.5 1393.0L758.4 1387.9Z" fill="#111" stroke="#111" stroke-width="1.8" stroke-linejoin="round"/><path d="M759.7 1391.7L763.3 1388.1" stroke="#111" stroke-width="4.2" stroke-linecap="round" fill="none"/>
<path d="M811.9 1377.6L809.2 1386.1L803.8 1381.4Z" fill="#111" stroke="#111" stroke-width="1.8" stroke-linejoin="round"/><path d="M790.7 1398.8Q802.0 1388.9 808.6 1381.3" stroke="#111" stroke-width="4.2" stroke-linecap="round" fill="none"/>
<path d="M848.2 1379.4L845.4 1387.9L840.0 1383.1Z" fill="#111" stroke="#111" stroke-width="1.8" stroke-linejoin="round"/><path d="M830.5 1397.0Q839.8 1388.7 844.9 1383.0" stroke="#111" stroke-width="4.2" stroke-linecap="round" fill="none"/>
<path d="M883.0 1374.3L884.4 1383.1L877.4 1381.3Z" fill="#111" stroke="#111" stroke-width="1.8" stroke-linejoin="round"/><path d="M871.8 1402.1Q879.1 1388.9 881.7 1379.0" stroke="#111" stroke-width="4.2" stroke-linecap="round" fill="none"/>
<ellipse cx="953.6" cy="1388.2" rx="4.7" ry="5.0" fill="#111"/>
<ellipse cx="991.6" cy="1388.2" rx="4.7" ry="5.0" fill="#111"/>
<path d="M1029.7 1383.2L1033.3 1391.4L1026.1 1391.4Z" fill="#111" stroke="#111" stroke-width="1.8" stroke-linejoin="round"/><path d="M1029.7 1393.2L1029.7 1388.1" stroke="#111" stroke-width="4.2" stroke-linecap="round" fill="none"/>
<ellipse cx="1067.8" cy="1388.2" rx="4.7" ry="5.0" fill="#111"/>
<path d="M1110.8 1388.2L1102.6 1391.8L1102.6 1384.6Z" fill="#111" stroke="#111" stroke-width="1.8" stroke-linejoin="round"/><path d="M1100.8 1388.2L1105.9 1388.2" stroke="#111" stroke-width="4.2" stroke-linecap="round" fill="none"/>
<ellipse cx="1143.9" cy="1388.2" rx="4.7" ry="5.0" fill="#111"/>
<ellipse cx="1182.0" cy="1388.2" rx="4.7" ry="5.0" fill="#111"/>
<ellipse cx="1220.0" cy="1388.2" rx="4.7" ry="5.0" fill="#111"/>
<ellipse cx="1258.1" cy="1388.2" rx="4.7" ry="5.0" fill="#111"/>
<ellipse cx="1296.2" cy="1388.2" rx="4.7" ry="5.0" fill="#111"/>
<path d="M1334.2 1383.2L1337.8 1391.4L1330.7 1391.4Z" fill="#111" stroke="#111" stroke-width="1.8" stroke-linejoin="round"/><path d="M1334.2 1393.2L1334.2 1388.1" stroke="#111" stroke-width="4.2" stroke-linecap="round" fill="none"/>
<path d="M775.6 1401.1L772.3 1409.5L767.2 1404.4Z" fill="#111" stroke="#111" stroke-width="1.8" stroke-linejoin="round"/><path d="M750.8 1425.9L772.1 1404.6" stroke="#111" stroke-width="4.2" stroke-linecap="round" fill="none"/>
<path d="M815.4 1399.4L812.9 1408.0L807.4 1403.4Z" fill="#111" stroke="#111" stroke-width="1.8" stroke-linejoin="round"/><path d="M787.1 1427.6Q802.6 1414.8 812.3 1403.1" stroke="#111" stroke-width="4.2" stroke-linecap="round" fill="none"/>
<path d="M855.7 1407.2L849.3 1413.5L846.7 1406.8Z" fill="#111" stroke="#111" stroke-width="1.8" stroke-linejoin="round"/><path d="M823.0 1419.8L851.1 1409.0" stroke="#111" stroke-width="4.2" stroke-linecap="round" fill="none"/>
<path d="M889.8 1401.1L887.9 1409.9L882.1 1405.7Z" fill="#111" stroke="#111" stroke-width="1.8" stroke-linejoin="round"/><path d="M865.0 1425.9Q879.4 1415.5 886.9 1405.1" stroke="#111" stroke-width="4.2" stroke-linecap="round" fill="none"/>
<path d="M929.5 1408.1L922.2 1413.4L920.7 1406.3Z" fill="#111" stroke="#111" stroke-width="1.8" stroke-linejoin="round"/><path d="M901.5 1418.9Q914.6 1411.3 924.7 1409.2" stroke="#111" stroke-width="4.2" stroke-linecap="round" fill="none"/>
<path d="M964.6 1413.5L956.2 1416.7L956.6 1409.5Z" fill="#111" stroke="#111" stroke-width="1.8" stroke-linejoin="round"/><path d="M942.6 1413.5Q953.6 1412.9 959.6 1413.2" stroke="#111" stroke-width="4.2" stroke-linecap="round" fill="none"/>
<path d="M1001.6 1413.5L993.4 1417.1L993.4 1409.9Z" fill="#111" stroke="#111" stroke-width="1.8" stroke-linejoin="round"/><path d="M981.6 1413.5L996.7 1413.5" stroke="#111" stroke-width="4.2" stroke-linecap="round" fill="none"/>
<path d="M1037.2 1413.5L1029.1 1417.4L1028.9 1410.2Z" fill="#111" stroke="#111" stroke-width="1.8" stroke-linejoin="round"/><path d="M1022.2 1413.5Q1029.7 1413.8 1032.3 1413.7" stroke="#111" stroke-width="4.2" stroke-linecap="round" fill="none"/>
<path d="M1074.8 1410.8L1068.4 1417.1L1065.8 1410.4Z" fill="#111" stroke="#111" stroke-width="1.8" stroke-linejoin="round"/><path d="M1060.8 1416.2L1070.2 1412.6" stroke="#111" stroke-width="4.2" stroke-linecap="round" fill="none"/>
<path d="M1116.8 1413.5L1108.5 1416.7L1108.8 1409.5Z" fill="#111" stroke="#111" stroke-width="1.8" stroke-linejoin="round"/><path d="M1094.8 1413.5Q1105.8 1412.9 1111.9 1413.2" stroke="#111" stroke-width="4.2" stroke-linecap="round" fill="none"/>
<path d="M1157.9 1413.5L1149.7 1417.1L1149.7 1409.9Z" fill="#111" stroke="#111" stroke-width="1.8" stroke-linejoin="round"/><path d="M1129.9 1413.5L1153.0 1413.5" stroke="#111" stroke-width="4.2" stroke-linecap="round" fill="none"/>
<path d="M1196.0 1413.5L1188.0 1417.6L1187.5 1410.5Z" fill="#111" stroke="#111" stroke-width="1.8" stroke-linejoin="round"/><path d="M1168.0 1413.5Q1182.0 1414.4 1191.1 1413.8" stroke="#111" stroke-width="4.2" stroke-linecap="round" fill="none"/>
<path d="M1228.4 1410.3L1222.6 1417.1L1219.5 1410.6Z" fill="#111" stroke="#111" stroke-width="1.8" stroke-linejoin="round"/><path d="M1211.6 1416.7Q1220.3 1414.2 1224.0 1412.4" stroke="#111" stroke-width="4.2" stroke-linecap="round" fill="none"/>
<ellipse cx="1258.1" cy="1413.5" rx="4.7" ry="5.0" fill="#111"/>
<ellipse cx="1296.2" cy="1413.5" rx="4.7" ry="5.0" fill="#111"/>
<path d="M1338.0 1404.2L1338.3 1413.2L1331.6 1410.5Z" fill="#111" stroke="#111" stroke-width="1.8" stroke-linejoin="round"/><path d="M1330.5 1422.8L1336.2 1408.8" stroke="#111" stroke-width="4.2" stroke-linecap="round" fill="none"/>
<path d="M779.5 1432.5L773.2 1438.8L770.6 1432.1Z" fill="#111" stroke="#111" stroke-width="1.8" stroke-linejoin="round"/><path d="M746.9 1445.1L774.9 1434.3" stroke="#111" stroke-width="4.2" stroke-linecap="round" fill="none"/>
<path d="M819.9 1431.6L813.6 1437.9L811.0 1431.2Z" fill="#111" stroke="#111" stroke-width="1.8" stroke-linejoin="round"/><path d="M782.6 1446.0L815.3 1433.4" stroke="#111" stroke-width="4.2" stroke-linecap="round" fill="none"/>
<path d="M858.0 1431.6L851.6 1437.9L849.1 1431.2Z" fill="#111" stroke="#111" stroke-width="1.8" stroke-linejoin="round"/><path d="M820.7 1446.0L853.4 1433.4" stroke="#111" stroke-width="4.2" stroke-linecap="round" fill="none"/>
<path d="M896.1 1431.6L889.7 1437.9L887.1 1431.2Z" fill="#111" stroke="#111" stroke-width="1.8" stroke-linejoin="round"/><path d="M858.7 1446.0L891.5 1433.4" stroke="#111" stroke-width="4.2" stroke-linecap="round" fill="none"/>
<path d="M931.8 1432.5L924.9 1438.3L922.9 1431.4Z" fill="#111" stroke="#111" stroke-width="1.8" stroke-linejoin="round"/><path d="M899.1 1445.1Q915.0 1437.4 927.1 1433.9" stroke="#111" stroke-width="4.2" stroke-linecap="round" fill="none"/>
<path d="M966.1 1438.8L957.6 1441.9L958.1 1434.7Z" fill="#111" stroke="#111" stroke-width="1.8" stroke-linejoin="round"/><path d="M941.1 1438.8Q953.6 1438.0 961.1 1438.5" stroke="#111" stroke-width="4.2" stroke-linecap="round" fill="none"/>
<path d="M1000.6 1438.8L992.4 1442.4L992.4 1435.2Z" fill="#111" stroke="#111" stroke-width="1.8" stroke-linejoin="round"/><path d="M982.6 1438.8L995.7 1438.8" stroke="#111" stroke-width="4.2" stroke-linecap="round" fill="none"/>
<path d="M1036.7 1438.8L1028.8 1443.0L1028.3 1435.8Z" fill="#111" stroke="#111" stroke-width="1.8" stroke-linejoin="round"/><path d="M1022.7 1438.8Q1029.7 1439.3 1031.8 1439.2" stroke="#111" stroke-width="4.2" stroke-linecap="round" fill="none"/>
<path d="M1072.0 1434.6L1068.7 1442.9L1063.7 1437.8Z" fill="#111" stroke="#111" stroke-width="1.8" stroke-linejoin="round"/><path d="M1063.5 1443.0L1068.5 1438.0" stroke="#111" stroke-width="4.2" stroke-linecap="round" fill="none"/>
<path d="M1113.3 1435.9L1106.4 1441.7L1104.4 1434.8Z" fill="#111" stroke="#111" stroke-width="1.8" stroke-linejoin="round"/><path d="M1098.4 1441.7Q1105.6 1438.2 1108.6 1437.3" stroke="#111" stroke-width="4.2" stroke-linecap="round" fill="none"/>
<path d="M1152.9 1438.8L1144.6 1442.0L1144.9 1434.8Z" fill="#111" stroke="#111" stroke-width="1.8" stroke-linejoin="round"/><path d="M1134.9 1438.8Q1143.9 1438.4 1148.0 1438.6" stroke="#111" stroke-width="4.2" stroke-linecap="round" fill="none"/>
<path d="M1194.5 1438.8L1186.3 1442.4L1186.3 1435.2Z" fill="#111" stroke="#111" stroke-width="1.8" stroke-linejoin="round"/><path d="M1169.5 1438.8L1189.5 1438.8" stroke="#111" stroke-width="4.2" stroke-linecap="round" fill="none"/>
<path d="M1231.0 1438.8L1222.8 1442.4L1222.8 1435.2Z" fill="#111" stroke="#111" stroke-width="1.8" stroke-linejoin="round"/><path d="M1209.0 1438.8L1226.1 1438.8" stroke="#111" stroke-width="4.2" stroke-linecap="round" fill="none"/>
<path d="M1265.1 1438.8L1257.2 1443.0L1256.7 1435.8Z" fill="#111" stroke="#111" stroke-width="1.8" stroke-linejoin="round"/><path d="M1251.1 1438.8Q1258.1 1439.3 1260.2 1439.2" stroke="#111" stroke-width="4.2" stroke-linecap="round" fill="none"/>
<path d="M1301.1 1433.9L1298.6 1442.5L1293.1 1437.8Z" fill="#111" stroke="#111" stroke-width="1.8" stroke-linejoin="round"/><path d="M1291.2 1443.7Q1296.6 1439.3 1298.0 1437.6" stroke="#111" stroke-width="4.2" stroke-linecap="round" fill="none"/>
<path d="M1338.4 1428.6L1338.6 1437.6L1332.0 1434.9Z" fill="#111" stroke="#111" stroke-width="1.8" stroke-linejoin="round"/><path d="M1330.1 1449.0L1336.5 1433.2" stroke="#111" stroke-width="4.2" stroke-linecap="round" fill="none"/>
<path d="M773.8 1453.5L769.4 1461.3L765.1 1455.6Z" fill="#111" stroke="#111" stroke-width="1.8" stroke-linejoin="round"/><path d="M752.6 1474.7Q761.7 1462.6 769.9 1456.5" stroke="#111" stroke-width="4.2" stroke-linecap="round" fill="none"/>
<path d="M815.4 1450.0L811.4 1458.0L806.8 1452.4Z" fill="#111" stroke="#111" stroke-width="1.8" stroke-linejoin="round"/><path d="M787.1 1478.2Q800.0 1462.8 811.6 1453.1" stroke="#111" stroke-width="4.2" stroke-linecap="round" fill="none"/>
<path d="M858.0 1456.9L851.0 1462.5L849.2 1455.5Z" fill="#111" stroke="#111" stroke-width="1.8" stroke-linejoin="round"/><path d="M820.7 1471.3Q838.5 1462.0 853.3 1458.2" stroke="#111" stroke-width="4.2" stroke-linecap="round" fill="none"/>
<path d="M895.1 1457.3L888.8 1463.6L886.2 1456.9Z" fill="#111" stroke="#111" stroke-width="1.8" stroke-linejoin="round"/><path d="M859.7 1470.9L890.6 1459.1" stroke="#111" stroke-width="4.2" stroke-linecap="round" fill="none"/>
<path d="M929.5 1458.7L923.1 1465.0L920.5 1458.3Z" fill="#111" stroke="#111" stroke-width="1.8" stroke-linejoin="round"/><path d="M901.5 1469.5L924.9 1460.5" stroke="#111" stroke-width="4.2" stroke-linecap="round" fill="none"/>
<path d="M962.0 1460.9L955.6 1467.2L953.0 1460.5Z" fill="#111" stroke="#111" stroke-width="1.8" stroke-linejoin="round"/><path d="M945.1 1467.3L957.4 1462.6" stroke="#111" stroke-width="4.2" stroke-linecap="round" fill="none"/>
<ellipse cx="991.6" cy="1464.1" rx="4.7" ry="5.0" fill="#111"/>
<ellipse cx="1029.7" cy="1464.1" rx="4.7" ry="5.0" fill="#111"/>
<ellipse cx="1067.8" cy="1464.1" rx="4.7" ry="5.0" fill="#111"/>
<path d="M1109.4 1460.6L1106.1 1468.9L1101.0 1463.8Z" fill="#111" stroke="#111" stroke-width="1.8" stroke-linejoin="round"/><path d="M1102.3 1467.6L1105.9 1464.0" stroke="#111" stroke-width="4.2" stroke-linecap="round" fill="none"/>
<path d="M1146.5 1457.6L1144.4 1466.3L1138.7 1461.9Z" fill="#111" stroke="#111" stroke-width="1.8" stroke-linejoin="round"/><path d="M1141.3 1470.6Q1142.1 1463.4 1143.5 1461.5" stroke="#111" stroke-width="4.2" stroke-linecap="round" fill="none"/>
<path d="M1188.5 1461.6L1181.5 1467.2L1179.7 1460.2Z" fill="#111" stroke="#111" stroke-width="1.8" stroke-linejoin="round"/><path d="M1175.4 1466.6Q1181.7 1463.4 1183.7 1462.8" stroke="#111" stroke-width="4.2" stroke-linecap="round" fill="none"/>
<path d="M1229.0 1464.1L1220.7 1467.3L1221.0 1460.1Z" fill="#111" stroke="#111" stroke-width="1.8" stroke-linejoin="round"/><path d="M1211.0 1464.1Q1220.0 1463.7 1224.1 1463.9" stroke="#111" stroke-width="4.2" stroke-linecap="round" fill="none"/>
<path d="M1266.1 1464.1L1258.2 1468.4L1257.6 1461.2Z" fill="#111" stroke="#111" stroke-width="1.8" stroke-linejoin="round"/><path d="M1250.1 1464.1Q1258.1 1464.8 1261.2 1464.5" stroke="#111" stroke-width="4.2" stroke-linecap="round" fill="none"/>
<path d="M1302.5 1457.7L1300.0 1466.3L1294.5 1461.6Z" fill="#111" stroke="#111" stroke-width="1.8" stroke-linejoin="round"/><path d="M1289.8 1470.5Q1296.7 1464.6 1299.4 1461.5" stroke="#111" stroke-width="4.2" stroke-linecap="round" fill="none"/>
<path d="M1338.9 1452.5L1336.6 1461.2L1331.0 1456.7Z" fill="#111" stroke="#111" stroke-width="1.8" stroke-linejoin="round"/><path d="M1329.6 1475.7Q1330.8 1462.7 1335.9 1456.4" stroke="#111" stroke-width="4.2" stroke-linecap="round" fill="none"/>
<path d="M772.0 1480.6L768.8 1488.9L763.7 1483.8Z" fill="#111" stroke="#111" stroke-width="1.8" stroke-linejoin="round"/><path d="M754.4 1498.2L768.6 1484.0" stroke="#111" stroke-width="4.2" stroke-linecap="round" fill="none"/>
<path d="M806.9 1475.5L805.1 1484.3L799.2 1480.1Z" fill="#111" stroke="#111" stroke-width="1.8" stroke-linejoin="round"/><path d="M795.7 1503.3Q798.0 1488.1 804.0 1479.5" stroke="#111" stroke-width="4.2" stroke-linecap="round" fill="none"/>
<path d="M844.6 1476.4L841.0 1484.6L836.1 1479.4Z" fill="#111" stroke="#111" stroke-width="1.8" stroke-linejoin="round"/><path d="M834.1 1502.4Q833.2 1486.9 841.0 1479.8" stroke="#111" stroke-width="4.2" stroke-linecap="round" fill="none"/>
<path d="M882.1 1477.8L878.1 1485.8L873.5 1480.3Z" fill="#111" stroke="#111" stroke-width="1.8" stroke-linejoin="round"/><path d="M872.7 1501.0Q871.2 1486.9 878.3 1481.0" stroke="#111" stroke-width="4.2" stroke-linecap="round" fill="none"/>
<path d="M919.0 1485.9L915.8 1494.2L910.7 1489.1Z" fill="#111" stroke="#111" stroke-width="1.8" stroke-linejoin="round"/><path d="M911.9 1492.9L915.5 1489.3" stroke="#111" stroke-width="4.2" stroke-linecap="round" fill="none"/>
<ellipse cx="953.6" cy="1489.4" rx="4.7" ry="5.0" fill="#111"/>
<path d="M986.6 1489.4L994.8 1485.8L994.8 1493.0Z" fill="#111" stroke="#111" stroke-width="1.8" stroke-linejoin="round"/><path d="M996.6 1489.4L991.5 1489.4" stroke="#111" stroke-width="4.2" stroke-linecap="round" fill="none"/>
<path d="M1026.2 1492.9L1029.4 1484.6L1034.5 1489.7Z" fill="#111" stroke="#111" stroke-width="1.8" stroke-linejoin="round"/><path d="M1033.2 1485.9L1029.6 1489.5" stroke="#111" stroke-width="4.2" stroke-linecap="round" fill="none"/>
<path d="M1062.8 1489.4L1071.0 1485.8L1071.0 1493.0Z" fill="#111" stroke="#111" stroke-width="1.8" stroke-linejoin="round"/><path d="M1072.8 1489.4L1067.7 1489.4" stroke="#111" stroke-width="4.2" stroke-linecap="round" fill="none"/>
<path d="M1098.8 1482.3L1106.8 1486.4L1101.2 1490.9Z" fill="#111" stroke="#111" stroke-width="1.8" stroke-linejoin="round"/><path d="M1112.9 1496.5Q1105.2 1490.1 1101.9 1486.1" stroke="#111" stroke-width="4.2" stroke-linecap="round" fill="none"/>
<path d="M1140.5 1481.1L1144.9 1488.9L1137.8 1489.6Z" fill="#111" stroke="#111" stroke-width="1.8" stroke-linejoin="round"/><path d="M1147.3 1497.7Q1141.4 1490.4 1141.0 1486.0" stroke="#111" stroke-width="4.2" stroke-linecap="round" fill="none"/>
<path d="M1177.7 1485.2L1186.1 1488.4L1181.0 1493.5Z" fill="#111" stroke="#111" stroke-width="1.8" stroke-linejoin="round"/><path d="M1186.2 1493.6L1181.2 1488.6" stroke="#111" stroke-width="4.2" stroke-linecap="round" fill="none"/>
<ellipse cx="1220.0" cy="1489.4" rx="4.7" ry="5.0" fill="#111"/>
<ellipse cx="1258.1" cy="1489.4" rx="4.7" ry="5.0" fill="#111"/>
<path d="M1291.9 1485.2L1300.3 1488.4L1295.2 1493.5Z" fill="#111" stroke="#111" stroke-width="1.8" stroke-linejoin="round"/><path d="M1300.4 1493.6L1295.4 1488.6" stroke="#111" stroke-width="4.2" stroke-linecap="round" fill="none"/>
<path d="M1327.9 1483.0L1334.8 1488.7L1328.4 1492.0Z" fill="#111" stroke="#111" stroke-width="1.8" stroke-linejoin="round"/><path d="M1340.6 1495.8Q1332.2 1491.4 1330.1 1487.4" stroke="#111" stroke-width="4.2" stroke-linecap="round" fill="none"/>
<path d="M766.0 1507.7L765.2 1516.7L758.9 1513.2Z" fill="#111" stroke="#111" stroke-width="1.8" stroke-linejoin="round"/><path d="M760.4 1521.7Q762.4 1514.4 763.6 1512.1" stroke="#111" stroke-width="4.2" stroke-linecap="round" fill="none"/>
<path d="M801.3 1505.7L803.1 1514.5L796.1 1513.0Z" fill="#111" stroke="#111" stroke-width="1.8" stroke-linejoin="round"/><path d="M801.3 1523.7Q799.4 1514.7 800.3 1510.5" stroke="#111" stroke-width="4.2" stroke-linecap="round" fill="none"/>
<path d="M836.7 1508.2L841.6 1515.7L834.5 1516.9Z" fill="#111" stroke="#111" stroke-width="1.8" stroke-linejoin="round"/><path d="M842.0 1521.2Q837.9 1515.3 837.5 1513.1" stroke="#111" stroke-width="4.2" stroke-linecap="round" fill="none"/>
<path d="M871.8 1509.0L879.4 1513.7L873.5 1517.8Z" fill="#111" stroke="#111" stroke-width="1.8" stroke-linejoin="round"/><path d="M883.1 1520.4Q876.4 1515.7 874.6 1513.1" stroke="#111" stroke-width="4.2" stroke-linecap="round" fill="none"/>
<path d="M907.0 1511.6L916.0 1511.9L912.9 1518.4Z" fill="#111" stroke="#111" stroke-width="1.8" stroke-linejoin="round"/><path d="M923.9 1517.8Q915.2 1515.5 911.5 1513.7" stroke="#111" stroke-width="4.2" stroke-linecap="round" fill="none"/>
<path d="M942.6 1514.7L951.1 1511.9L950.4 1519.1Z" fill="#111" stroke="#111" stroke-width="1.8" stroke-linejoin="round"/><path d="M964.6 1514.7Q953.6 1515.8 947.4 1515.2" stroke="#111" stroke-width="4.2" stroke-linecap="round" fill="none"/>
<path d="M979.7 1518.6L986.7 1513.0L988.6 1519.9Z" fill="#111" stroke="#111" stroke-width="1.8" stroke-linejoin="round"/><path d="M1003.5 1510.8Q991.8 1515.3 984.5 1517.3" stroke="#111" stroke-width="4.2" stroke-linecap="round" fill="none"/>
<path d="M1019.2 1518.1L1025.6 1511.8L1028.2 1518.6Z" fill="#111" stroke="#111" stroke-width="1.8" stroke-linejoin="round"/><path d="M1040.2 1511.3Q1029.5 1514.2 1023.8 1516.4" stroke="#111" stroke-width="4.2" stroke-linecap="round" fill="none"/>
<path d="M1057.8 1514.7L1065.6 1510.4L1066.2 1517.6Z" fill="#111" stroke="#111" stroke-width="1.8" stroke-linejoin="round"/><path d="M1077.8 1514.7Q1067.8 1513.8 1062.7 1514.3" stroke="#111" stroke-width="4.2" stroke-linecap="round" fill="none"/>
<path d="M1094.1 1510.4L1103.0 1509.3L1100.9 1516.2Z" fill="#111" stroke="#111" stroke-width="1.8" stroke-linejoin="round"/><path d="M1117.6 1519.0Q1106.1 1514.0 1098.8 1511.8" stroke="#111" stroke-width="4.2" stroke-linecap="round" fill="none"/>
<path d="M1132.2 1510.4L1141.1 1509.8L1138.6 1516.6Z" fill="#111" stroke="#111" stroke-width="1.8" stroke-linejoin="round"/><path d="M1155.6 1519.0L1136.8 1512.1" stroke="#111" stroke-width="4.2" stroke-linecap="round" fill="none"/>
<path d="M1172.6 1511.3L1181.5 1511.1L1178.8 1517.8Z" fill="#111" stroke="#111" stroke-width="1.8" stroke-linejoin="round"/><path d="M1191.4 1518.1Q1181.8 1515.1 1177.1 1513.2" stroke="#111" stroke-width="4.2" stroke-linecap="round" fill="none"/>
<path d="M1209.0 1514.7L1217.4 1511.5L1217.0 1518.7Z" fill="#111" stroke="#111" stroke-width="1.8" stroke-linejoin="round"/><path d="M1231.0 1514.7Q1220.0 1515.3 1214.0 1514.9" stroke="#111" stroke-width="4.2" stroke-linecap="round" fill="none"/>
<path d="M1245.6 1514.7L1253.6 1510.6L1254.0 1517.8Z" fill="#111" stroke="#111" stroke-width="1.8" stroke-linejoin="round"/><path d="M1270.6 1514.7Q1258.1 1514.0 1250.5 1514.4" stroke="#111" stroke-width="4.2" stroke-linecap="round" fill="none"/>
<path d="M1281.1 1509.2L1290.0 1508.0L1288.1 1514.9Z" fill="#111" stroke="#111" stroke-width="1.8" stroke-linejoin="round"/><path d="M1311.2 1520.2Q1296.6 1513.6 1285.9 1510.6" stroke="#111" stroke-width="4.2" stroke-linecap="round" fill="none"/>
<path d="M1317.8 1508.7L1326.7 1508.1L1324.3 1514.9Z" fill="#111" stroke="#111" stroke-width="1.8" stroke-linejoin="round"/><path d="M1350.7 1520.7L1322.4 1510.4" stroke="#111" stroke-width="4.2" stroke-linecap="round" fill="none"/>
<path d="M759.7 1536.5L768.0 1539.7L762.9 1544.8Z" fill="#111" stroke="#111" stroke-width="1.8" stroke-linejoin="round"/><path d="M766.7 1543.5L763.1 1539.9" stroke="#111" stroke-width="4.2" stroke-linecap="round" fill="none"/>
<path d="M794.9 1533.6L802.5 1538.4L796.5 1542.4Z" fill="#111" stroke="#111" stroke-width="1.8" stroke-linejoin="round"/><path d="M807.6 1546.4Q800.0 1541.2 797.7 1537.7" stroke="#111" stroke-width="4.2" stroke-linecap="round" fill="none"/>
<path d="M829.0 1536.2L837.9 1536.7L834.7 1543.1Z" fill="#111" stroke="#111" stroke-width="1.8" stroke-linejoin="round"/><path d="M849.7 1543.8Q838.9 1541.2 833.4 1538.4" stroke="#111" stroke-width="4.2" stroke-linecap="round" fill="none"/>
<path d="M862.4 1540.0L870.8 1537.0L870.3 1544.2Z" fill="#111" stroke="#111" stroke-width="1.8" stroke-linejoin="round"/><path d="M892.4 1540.0Q877.4 1541.0 867.3 1540.3" stroke="#111" stroke-width="4.2" stroke-linecap="round" fill="none"/>
<path d="M899.5 1540.0L907.7 1536.4L907.7 1543.6Z" fill="#111" stroke="#111" stroke-width="1.8" stroke-linejoin="round"/><path d="M931.5 1540.0L904.4 1540.0" stroke="#111" stroke-width="4.2" stroke-linecap="round" fill="none"/>
<path d="M936.1 1540.0L944.5 1537.0L944.0 1544.2Z" fill="#111" stroke="#111" stroke-width="1.8" stroke-linejoin="round"/><path d="M971.1 1540.0Q953.6 1541.3 941.0 1540.4" stroke="#111" stroke-width="4.2" stroke-linecap="round" fill="none"/>
<path d="M975.0 1545.4L981.7 1539.5L983.9 1546.3Z" fill="#111" stroke="#111" stroke-width="1.8" stroke-linejoin="round"/><path d="M1008.3 1534.6L979.7 1543.9" stroke="#111" stroke-width="4.2" stroke-linecap="round" fill="none"/>
<path d="M1013.7 1540.0L1021.6 1535.9L1022.1 1543.1Z" fill="#111" stroke="#111" stroke-width="1.8" stroke-linejoin="round"/><path d="M1045.7 1540.0Q1029.7 1538.9 1018.6 1539.7" stroke="#111" stroke-width="4.2" stroke-linecap="round" fill="none"/>
<path d="M1056.8 1540.0L1064.8 1536.0L1065.1 1543.2Z" fill="#111" stroke="#111" stroke-width="1.8" stroke-linejoin="round"/><path d="M1078.8 1540.0Q1067.8 1539.4 1061.7 1539.8" stroke="#111" stroke-width="4.2" stroke-linecap="round" fill="none"/>
<path d="M1092.7 1535.2L1101.6 1534.1L1099.5 1541.0Z" fill="#111" stroke="#111" stroke-width="1.8" stroke-linejoin="round"/><path d="M1119.0 1544.8Q1106.1 1539.2 1097.4 1536.6" stroke="#111" stroke-width="4.2" stroke-linecap="round" fill="none"/>
<path d="M1130.7 1535.2L1139.7 1535.2L1136.8 1541.8Z" fill="#111" stroke="#111" stroke-width="1.8" stroke-linejoin="round"/><path d="M1157.1 1544.8Q1143.6 1540.8 1135.3 1537.2" stroke="#111" stroke-width="4.2" stroke-linecap="round" fill="none"/>
<path d="M1167.0 1540.0L1175.6 1537.5L1174.6 1544.6Z" fill="#111" stroke="#111" stroke-width="1.8" stroke-linejoin="round"/><path d="M1197.0 1540.0Q1182.0 1542.0 1171.8 1540.6" stroke="#111" stroke-width="4.2" stroke-linecap="round" fill="none"/>
<path d="M1202.0 1545.9L1209.1 1540.5L1210.8 1547.5Z" fill="#111" stroke="#111" stroke-width="1.8" stroke-linejoin="round"/><path d="M1238.1 1534.1Q1220.5 1541.4 1206.8 1544.7" stroke="#111" stroke-width="4.2" stroke-linecap="round" fill="none"/>
<path d="M1239.1 1546.2L1245.3 1539.7L1248.0 1546.3Z" fill="#111" stroke="#111" stroke-width="1.8" stroke-linejoin="round"/><path d="M1277.1 1533.8Q1257.6 1538.4 1243.6 1544.3" stroke="#111" stroke-width="4.2" stroke-linecap="round" fill="none"/>
<path d="M1271.2 1540.0L1278.4 1534.7L1280.0 1541.7Z" fill="#111" stroke="#111" stroke-width="1.8" stroke-linejoin="round"/><path d="M1321.2 1540.0Q1296.2 1534.5 1276.0 1538.9" stroke="#111" stroke-width="4.2" stroke-linecap="round" fill="none"/>
<path d="M1308.4 1530.6L1316.9 1527.8L1316.2 1535.0Z" fill="#111" stroke="#111" stroke-width="1.8" stroke-linejoin="round"/><path d="M1360.1 1549.4Q1336.7 1533.3 1313.3 1531.1" stroke="#111" stroke-width="4.2" stroke-linecap="round" fill="none"/>
<path d="M756.2 1562.7L765.1 1562.2L762.6 1568.9Z" fill="#111" stroke="#111" stroke-width="1.8" stroke-linejoin="round"/><path d="M770.2 1567.9L760.8 1564.4" stroke="#111" stroke-width="4.2" stroke-linecap="round" fill="none"/>
<path d="M788.1 1560.5L797.1 1560.5L794.2 1567.1Z" fill="#111" stroke="#111" stroke-width="1.8" stroke-linejoin="round"/><path d="M814.4 1570.1Q801.0 1566.1 792.6 1562.5" stroke="#111" stroke-width="4.2" stroke-linecap="round" fill="none"/>
<path d="M821.8 1565.3L830.3 1562.4L829.7 1569.5Z" fill="#111" stroke="#111" stroke-width="1.8" stroke-linejoin="round"/><path d="M856.8 1565.3Q839.3 1566.7 826.7 1565.7" stroke="#111" stroke-width="4.2" stroke-linecap="round" fill="none"/>
<path d="M858.4 1565.3L866.6 1561.7L866.6 1568.9Z" fill="#111" stroke="#111" stroke-width="1.8" stroke-linejoin="round"/><path d="M896.4 1565.3L863.3 1565.3" stroke="#111" stroke-width="4.2" stroke-linecap="round" fill="none"/>
<path d="M898.0 1565.3L906.2 1561.7L906.2 1568.9Z" fill="#111" stroke="#111" stroke-width="1.8" stroke-linejoin="round"/><path d="M933.0 1565.3L902.9 1565.3" stroke="#111" stroke-width="4.2" stroke-linecap="round" fill="none"/>
<path d="M936.1 1565.3L944.5 1562.3L944.0 1569.5Z" fill="#111" stroke="#111" stroke-width="1.8" stroke-linejoin="round"/><path d="M971.1 1565.3Q953.6 1566.6 941.0 1565.7" stroke="#111" stroke-width="4.2" stroke-linecap="round" fill="none"/>
<path d="M975.0 1570.7L981.7 1564.8L983.9 1571.6Z" fill="#111" stroke="#111" stroke-width="1.8" stroke-linejoin="round"/><path d="M1008.3 1559.9L979.7 1569.2" stroke="#111" stroke-width="4.2" stroke-linecap="round" fill="none"/>
<path d="M1014.7 1565.3L1022.7 1561.2L1023.1 1568.4Z" fill="#111" stroke="#111" stroke-width="1.8" stroke-linejoin="round"/><path d="M1044.7 1565.3Q1029.7 1564.4 1019.6 1565.0" stroke="#111" stroke-width="4.2" stroke-linecap="round" fill="none"/>
<path d="M1053.8 1565.3L1062.0 1561.7L1062.0 1568.9Z" fill="#111" stroke="#111" stroke-width="1.8" stroke-linejoin="round"/><path d="M1081.8 1565.3L1058.7 1565.3" stroke="#111" stroke-width="4.2" stroke-linecap="round" fill="none"/>
<path d="M1090.8 1565.3L1099.0 1561.7L1099.0 1568.9Z" fill="#111" stroke="#111" stroke-width="1.8" stroke-linejoin="round"/><path d="M1120.8 1565.3L1095.8 1565.3" stroke="#111" stroke-width="4.2" stroke-linecap="round" fill="none"/>
<path d="M1123.9 1565.3L1132.4 1562.4L1131.8 1569.6Z" fill="#111" stroke="#111" stroke-width="1.8" stroke-linejoin="round"/><path d="M1163.9 1565.3Q1143.9 1567.0 1128.8 1565.7" stroke="#111" stroke-width="4.2" stroke-linecap="round" fill="none"/>
<path d="M1162.9 1571.5L1170.1 1566.1L1171.8 1573.1Z" fill="#111" stroke="#111" stroke-width="1.8" stroke-linejoin="round"/><path d="M1201.0 1559.1Q1182.5 1566.9 1167.7 1570.4" stroke="#111" stroke-width="4.2" stroke-linecap="round" fill="none"/>
<path d="M1196.3 1573.0L1202.9 1567.1L1205.2 1573.9Z" fill="#111" stroke="#111" stroke-width="1.8" stroke-linejoin="round"/><path d="M1243.8 1557.6L1200.9 1571.5" stroke="#111" stroke-width="4.2" stroke-linecap="round" fill="none"/>
<path d="M1232.0 1573.8L1237.9 1567.1L1240.9 1573.7Z" fill="#111" stroke="#111" stroke-width="1.8" stroke-linejoin="round"/><path d="M1284.3 1556.8Q1257.1 1562.3 1236.4 1571.8" stroke="#111" stroke-width="4.2" stroke-linecap="round" fill="none"/>
<path d="M1268.7 1565.3L1276.4 1560.8L1277.2 1567.9Z" fill="#111" stroke="#111" stroke-width="1.8" stroke-linejoin="round"/><path d="M1323.7 1565.3Q1296.2 1562.2 1273.6 1564.7" stroke="#111" stroke-width="4.2" stroke-linecap="round" fill="none"/>
<path d="M1306.8 1565.3L1315.0 1561.7L1315.0 1568.9Z" fill="#111" stroke="#111" stroke-width="1.8" stroke-linejoin="round"/><path d="M1361.8 1565.3L1311.7 1565.3" stroke="#111" stroke-width="4.2" stroke-linecap="round" fill="none"/>
<path d="M750.7 1590.6L758.9 1587.0L758.9 1594.2Z" fill="#111" stroke="#111" stroke-width="1.8" stroke-linejoin="round"/><path d="M775.7 1590.6L755.6 1590.6" stroke="#111" stroke-width="4.2" stroke-linecap="round" fill="none"/>
<path d="M783.8 1590.6L792.0 1587.0L792.0 1594.2Z" fill="#111" stroke="#111" stroke-width="1.8" stroke-linejoin="round"/><path d="M818.8 1590.6L788.7 1590.6" stroke="#111" stroke-width="4.2" stroke-linecap="round" fill="none"/>
<path d="M821.8 1590.6L830.0 1587.0L830.0 1594.2Z" fill="#111" stroke="#111" stroke-width="1.8" stroke-linejoin="round"/><path d="M856.8 1590.6L826.8 1590.6" stroke="#111" stroke-width="4.2" stroke-linecap="round" fill="none"/>
<path d="M861.4 1590.6L869.6 1587.0L869.6 1594.2Z" fill="#111" stroke="#111" stroke-width="1.8" stroke-linejoin="round"/><path d="M893.4 1590.6L866.3 1590.6" stroke="#111" stroke-width="4.2" stroke-linecap="round" fill="none"/>
<path d="M900.5 1590.6L908.9 1587.5L908.4 1594.7Z" fill="#111" stroke="#111" stroke-width="1.8" stroke-linejoin="round"/><path d="M930.5 1590.6Q915.5 1591.5 905.4 1590.9" stroke="#111" stroke-width="4.2" stroke-linecap="round" fill="none"/>
<path d="M940.2 1594.9L947.3 1589.4L949.1 1596.3Z" fill="#111" stroke="#111" stroke-width="1.8" stroke-linejoin="round"/><path d="M966.9 1586.3Q953.8 1591.4 945.0 1593.7" stroke="#111" stroke-width="4.2" stroke-linecap="round" fill="none"/>
<path d="M978.3 1594.9L984.6 1588.6L987.3 1595.3Z" fill="#111" stroke="#111" stroke-width="1.8" stroke-linejoin="round"/><path d="M1004.9 1586.3Q991.4 1589.8 982.9 1593.1" stroke="#111" stroke-width="4.2" stroke-linecap="round" fill="none"/>
<path d="M1015.7 1590.6L1023.7 1586.5L1024.1 1593.7Z" fill="#111" stroke="#111" stroke-width="1.8" stroke-linejoin="round"/><path d="M1043.7 1590.6Q1029.7 1589.8 1020.6 1590.3" stroke="#111" stroke-width="4.2" stroke-linecap="round" fill="none"/>
<path d="M1055.3 1590.6L1063.5 1587.0L1063.5 1594.2Z" fill="#111" stroke="#111" stroke-width="1.8" stroke-linejoin="round"/><path d="M1080.3 1590.6L1060.2 1590.6" stroke="#111" stroke-width="4.2" stroke-linecap="round" fill="none"/>
<path d="M1088.3 1590.6L1096.5 1587.0L1096.5 1594.2Z" fill="#111" stroke="#111" stroke-width="1.8" stroke-linejoin="round"/><path d="M1123.3 1590.6L1093.2 1590.6" stroke="#111" stroke-width="4.2" stroke-linecap="round" fill="none"/>
<path d="M1124.9 1590.6L1133.4 1587.7L1132.8 1594.8Z" fill="#111" stroke="#111" stroke-width="1.8" stroke-linejoin="round"/><path d="M1162.9 1590.6Q1143.9 1592.1 1129.8 1591.0" stroke="#111" stroke-width="4.2" stroke-linecap="round" fill="none"/>
<path d="M1160.6 1597.6L1167.8 1592.2L1169.4 1599.3Z" fill="#111" stroke="#111" stroke-width="1.8" stroke-linejoin="round"/><path d="M1203.4 1583.6Q1182.6 1592.6 1165.4 1596.5" stroke="#111" stroke-width="4.2" stroke-linecap="round" fill="none"/>
<path d="M1196.3 1598.3L1202.9 1592.4L1205.2 1599.2Z" fill="#111" stroke="#111" stroke-width="1.8" stroke-linejoin="round"/><path d="M1243.8 1582.9L1200.9 1596.8" stroke="#111" stroke-width="4.2" stroke-linecap="round" fill="none"/>
<path d="M1234.3 1598.3L1240.4 1591.7L1243.3 1598.3Z" fill="#111" stroke="#111" stroke-width="1.8" stroke-linejoin="round"/><path d="M1281.9 1582.9Q1257.3 1588.1 1238.8 1596.3" stroke="#111" stroke-width="4.2" stroke-linecap="round" fill="none"/>
<path d="M1273.7 1590.6L1281.5 1586.3L1282.2 1593.4Z" fill="#111" stroke="#111" stroke-width="1.8" stroke-linejoin="round"/><path d="M1318.7 1590.6Q1296.2 1588.5 1278.6 1590.1" stroke="#111" stroke-width="4.2" stroke-linecap="round" fill="none"/>
<path d="M1311.8 1590.6L1320.0 1587.0L1320.0 1594.2Z" fill="#111" stroke="#111" stroke-width="1.8" stroke-linejoin="round"/><path d="M1356.8 1590.6L1316.7 1590.6" stroke="#111" stroke-width="4.2" stroke-linecap="round" fill="none"/>
<path d="M753.7 1619.0L759.9 1612.5L762.6 1619.1Z" fill="#111" stroke="#111" stroke-width="1.8" stroke-linejoin="round"/><path d="M772.7 1612.8Q762.9 1615.1 758.2 1617.1" stroke="#111" stroke-width="4.2" stroke-linecap="round" fill="none"/>
<path d="M786.3 1615.9L794.2 1611.8L794.7 1619.0Z" fill="#111" stroke="#111" stroke-width="1.8" stroke-linejoin="round"/><path d="M816.3 1615.9Q801.3 1615.0 791.2 1615.6" stroke="#111" stroke-width="4.2" stroke-linecap="round" fill="none"/>
<path d="M823.3 1615.9L831.5 1612.3L831.5 1619.5Z" fill="#111" stroke="#111" stroke-width="1.8" stroke-linejoin="round"/><path d="M855.3 1615.9L828.3 1615.9" stroke="#111" stroke-width="4.2" stroke-linecap="round" fill="none"/>
<path d="M859.9 1615.9L868.1 1612.3L868.1 1619.5Z" fill="#111" stroke="#111" stroke-width="1.8" stroke-linejoin="round"/><path d="M894.9 1615.9L864.8 1615.9" stroke="#111" stroke-width="4.2" stroke-linecap="round" fill="none"/>
<path d="M899.5 1615.9L907.7 1612.3L907.7 1619.5Z" fill="#111" stroke="#111" stroke-width="1.8" stroke-linejoin="round"/><path d="M931.5 1615.9L904.4 1615.9" stroke="#111" stroke-width="4.2" stroke-linecap="round" fill="none"/>
<path d="M937.6 1615.9L946.0 1612.8L945.5 1620.0Z" fill="#111" stroke="#111" stroke-width="1.8" stroke-linejoin="round"/><path d="M969.6 1615.9Q953.6 1617.0 942.5 1616.2" stroke="#111" stroke-width="4.2" stroke-linecap="round" fill="none"/>
<path d="M978.3 1620.2L985.0 1614.3L987.2 1621.1Z" fill="#111" stroke="#111" stroke-width="1.8" stroke-linejoin="round"/><path d="M1004.9 1611.6L983.0 1618.7" stroke="#111" stroke-width="4.2" stroke-linecap="round" fill="none"/>
<path d="M1015.7 1615.9L1023.7 1611.8L1024.1 1619.0Z" fill="#111" stroke="#111" stroke-width="1.8" stroke-linejoin="round"/><path d="M1043.7 1615.9Q1029.7 1615.1 1020.6 1615.6" stroke="#111" stroke-width="4.2" stroke-linecap="round" fill="none"/>
<path d="M1056.8 1615.9L1065.0 1612.3L1065.0 1619.5Z" fill="#111" stroke="#111" stroke-width="1.8" stroke-linejoin="round"/><path d="M1078.8 1615.9L1061.7 1615.9" stroke="#111" stroke-width="4.2" stroke-linecap="round" fill="none"/>
<path d="M1089.8 1615.9L1098.2 1612.8L1097.8 1620.0Z" fill="#111" stroke="#111" stroke-width="1.8" stroke-linejoin="round"/><path d="M1121.8 1615.9Q1105.8 1617.0 1094.7 1616.2" stroke="#111" stroke-width="4.2" stroke-linecap="round" fill="none"/>
<path d="M1125.8 1621.8L1133.0 1616.4L1134.6 1623.4Z" fill="#111" stroke="#111" stroke-width="1.8" stroke-linejoin="round"/><path d="M1162.0 1610.0Q1144.4 1617.3 1130.6 1620.6" stroke="#111" stroke-width="4.2" stroke-linecap="round" fill="none"/>
<path d="M1160.6 1622.9L1167.3 1616.9L1169.5 1623.7Z" fill="#111" stroke="#111" stroke-width="1.8" stroke-linejoin="round"/><path d="M1203.4 1608.9L1165.3 1621.3" stroke="#111" stroke-width="4.2" stroke-linecap="round" fill="none"/>
<path d="M1198.6 1622.9L1205.3 1616.9L1207.6 1623.7Z" fill="#111" stroke="#111" stroke-width="1.8" stroke-linejoin="round"/><path d="M1241.4 1608.9L1203.3 1621.3" stroke="#111" stroke-width="4.2" stroke-linecap="round" fill="none"/>
<path d="M1239.1 1622.1L1245.3 1615.6L1248.0 1622.2Z" fill="#111" stroke="#111" stroke-width="1.8" stroke-linejoin="round"/><path d="M1277.1 1609.7Q1257.6 1614.3 1243.6 1620.2" stroke="#111" stroke-width="4.2" stroke-linecap="round" fill="none"/>
<path d="M1280.2 1615.9L1287.8 1611.2L1288.8 1618.3Z" fill="#111" stroke="#111" stroke-width="1.8" stroke-linejoin="round"/><path d="M1312.2 1615.9Q1296.2 1613.7 1285.1 1615.2" stroke="#111" stroke-width="4.2" stroke-linecap="round" fill="none"/>
<path d="M1321.1 1611.1L1329.9 1609.4L1328.3 1616.4Z" fill="#111" stroke="#111" stroke-width="1.8" stroke-linejoin="round"/><path d="M1347.4 1620.7Q1334.9 1614.2 1325.9 1612.2" stroke="#111" stroke-width="4.2" stroke-linecap="round" fill="none"/>
<path d="M753.7 1644.3L760.4 1638.3L762.6 1645.2Z" fill="#111" stroke="#111" stroke-width="1.8" stroke-linejoin="round"/><path d="M772.7 1638.1L758.4 1642.8" stroke="#111" stroke-width="4.2" stroke-linecap="round" fill="none"/>
<path d="M787.0 1645.8L793.3 1639.5L796.0 1646.2Z" fill="#111" stroke="#111" stroke-width="1.8" stroke-linejoin="round"/><path d="M815.5 1636.6Q801.0 1640.3 791.6 1644.0" stroke="#111" stroke-width="4.2" stroke-linecap="round" fill="none"/>
<path d="M821.8 1641.2L829.8 1637.0L830.3 1644.2Z" fill="#111" stroke="#111" stroke-width="1.8" stroke-linejoin="round"/><path d="M856.8 1641.2Q839.3 1639.9 826.7 1640.8" stroke="#111" stroke-width="4.2" stroke-linecap="round" fill="none"/>
<path d="M858.4 1641.2L866.6 1637.6L866.6 1644.8Z" fill="#111" stroke="#111" stroke-width="1.8" stroke-linejoin="round"/><path d="M896.4 1641.2L863.3 1641.2" stroke="#111" stroke-width="4.2" stroke-linecap="round" fill="none"/>
<path d="M895.5 1641.2L903.7 1637.6L903.7 1644.8Z" fill="#111" stroke="#111" stroke-width="1.8" stroke-linejoin="round"/><path d="M935.5 1641.2L900.4 1641.2" stroke="#111" stroke-width="4.2" stroke-linecap="round" fill="none"/>
<path d="M933.6 1641.2L941.8 1637.6L941.8 1644.8Z" fill="#111" stroke="#111" stroke-width="1.8" stroke-linejoin="round"/><path d="M973.6 1641.2L938.5 1641.2" stroke="#111" stroke-width="4.2" stroke-linecap="round" fill="none"/>
<path d="M972.6 1641.2L980.8 1637.6L980.8 1644.8Z" fill="#111" stroke="#111" stroke-width="1.8" stroke-linejoin="round"/><path d="M1010.6 1641.2L977.5 1641.2" stroke="#111" stroke-width="4.2" stroke-linecap="round" fill="none"/>
<path d="M1010.7 1641.2L1018.9 1637.6L1018.9 1644.8Z" fill="#111" stroke="#111" stroke-width="1.8" stroke-linejoin="round"/><path d="M1048.7 1641.2L1015.6 1641.2" stroke="#111" stroke-width="4.2" stroke-linecap="round" fill="none"/>
<path d="M1055.3 1641.2L1063.6 1638.0L1063.3 1645.2Z" fill="#111" stroke="#111" stroke-width="1.8" stroke-linejoin="round"/><path d="M1080.3 1641.2Q1067.8 1641.8 1060.2 1641.5" stroke="#111" stroke-width="4.2" stroke-linecap="round" fill="none"/>
<path d="M1087.8 1647.1L1094.9 1641.7L1096.6 1648.7Z" fill="#111" stroke="#111" stroke-width="1.8" stroke-linejoin="round"/><path d="M1123.9 1635.3Q1106.3 1642.6 1092.5 1645.9" stroke="#111" stroke-width="4.2" stroke-linecap="round" fill="none"/>
<path d="M1123.9 1647.7L1130.6 1641.7L1132.8 1648.6Z" fill="#111" stroke="#111" stroke-width="1.8" stroke-linejoin="round"/><path d="M1163.9 1634.7L1128.6 1646.2" stroke="#111" stroke-width="4.2" stroke-linecap="round" fill="none"/>
<path d="M1160.6 1648.2L1166.7 1641.6L1169.5 1648.2Z" fill="#111" stroke="#111" stroke-width="1.8" stroke-linejoin="round"/><path d="M1203.4 1634.2Q1181.3 1639.2 1165.1 1646.2" stroke="#111" stroke-width="4.2" stroke-linecap="round" fill="none"/>
<path d="M1200.0 1641.2L1207.9 1636.9L1208.5 1644.1Z" fill="#111" stroke="#111" stroke-width="1.8" stroke-linejoin="round"/><path d="M1240.0 1641.2Q1220.0 1639.5 1204.9 1640.8" stroke="#111" stroke-width="4.2" stroke-linecap="round" fill="none"/>
<path d="M1240.6 1641.2L1248.5 1637.0L1249.1 1644.1Z" fill="#111" stroke="#111" stroke-width="1.8" stroke-linejoin="round"/><path d="M1275.6 1641.2Q1258.1 1639.8 1245.5 1640.8" stroke="#111" stroke-width="4.2" stroke-linecap="round" fill="none"/>
<path d="M1284.4 1636.9L1293.3 1635.8L1291.3 1642.7Z" fill="#111" stroke="#111" stroke-width="1.8" stroke-linejoin="round"/><path d="M1307.9 1645.5Q1296.4 1640.5 1289.1 1638.3" stroke="#111" stroke-width="4.2" stroke-linecap="round" fill="none"/>
<path d="M1322.5 1636.9L1331.4 1636.3L1329.0 1643.1Z" fill="#111" stroke="#111" stroke-width="1.8" stroke-linejoin="round"/><path d="M1346.0 1645.5L1327.1 1638.6" stroke="#111" stroke-width="4.2" stroke-linecap="round" fill="none"/>
</g>
<rect x="81.1" y="642.6" width="609.0" height="406.0" fill="none" stroke="#111" stroke-width="3.5"/>
<path d="M81.1 642.6 v-7.5 M81.1 1048.6 v7.5" stroke="#111" stroke-width="1.5"/>
<path d="M131.8 642.6 v-7.5 M131.8 1048.6 v7.5" stroke="#111" stroke-width="1.5"/>
<path d="M182.6 642.6 v-15 M182.6 1048.6 v15" stroke="#111" stroke-width="3.4"/>
<path d="M233.3 642.6 v-7.5 M233.3 1048.6 v7.5" stroke="#111" stroke-width="1.5"/>
<path d="M284.1 642.6 v-7.5 M284.1 1048.6 v7.5" stroke="#111" stroke-width="1.5"/>
<path d="M334.9 642.6 v-7.5 M334.9 1048.6 v7.5" stroke="#111" stroke-width="1.5"/>
<path d="M385.6 642.6 v-15 M385.6 1048.6 v15" stroke="#111" stroke-width="3.4"/>
<path d="M436.4 642.6 v-7.5 M436.4 1048.6 v7.5" stroke="#111" stroke-width="1.5"/>
<path d="M487.1 642.6 v-7.5 M487.1 1048.6 v7.5" stroke="#111" stroke-width="1.5"/>
<path d="M537.9 642.6 v-7.5 M537.9 1048.6 v7.5" stroke="#111" stroke-width="1.5"/>
<path d="M588.6 642.6 v-15 M588.6 1048.6 v15" stroke="#111" stroke-width="3.4"/>
<path d="M639.4 642.6 v-7.5 M639.4 1048.6 v7.5" stroke="#111" stroke-width="1.5"/>
<path d="M690.1 642.6 v-7.5 M690.1 1048.6 v7.5" stroke="#111" stroke-width="1.5"/>
<path d="M81.1 1048.6 h-15 M690.1 1048.6 h15" stroke="#111" stroke-width="3.4" stroke-linecap="round"/>
<path d="M81.1 997.9 h-7.3 M690.1 997.9 h7.3" stroke="#111" stroke-width="1.5" stroke-linecap="round"/>
<path d="M81.1 947.1 h-7.3 M690.1 947.1 h7.3" stroke="#111" stroke-width="1.5" stroke-linecap="round"/>
<path d="M81.1 896.4 h-7.3 M690.1 896.4 h7.3" stroke="#111" stroke-width="1.5" stroke-linecap="round"/>
<path d="M81.1 845.6 h-7.3 M690.1 845.6 h7.3" stroke="#111" stroke-width="1.5" stroke-linecap="round"/>
<path d="M81.1 794.9 h-7.3 M690.1 794.9 h7.3" stroke="#111" stroke-width="1.5" stroke-linecap="round"/>
<path d="M81.1 744.1 h-15 M690.1 744.1 h15" stroke="#111" stroke-width="3.4" stroke-linecap="round"/>
<path d="M81.1 693.4 h-7.3 M690.1 693.4 h7.3" stroke="#111" stroke-width="1.5" stroke-linecap="round"/>
<path d="M81.1 642.6 h-7.3 M690.1 642.6 h7.3" stroke="#111" stroke-width="1.5" stroke-linecap="round"/>
<text x="182.4" y="615.9" font-size="30.5" text-anchor="middle" font-weight="normal" textLength="54.3" lengthAdjust="spacingAndGlyphs" >60E</text>
<text x="385.4" y="615.9" font-size="30.5" text-anchor="middle" font-weight="normal" textLength="54.3" lengthAdjust="spacingAndGlyphs" >80E</text>
<text x="588.4" y="615.9" font-size="30.5" text-anchor="middle" font-weight="normal" textLength="71.2" lengthAdjust="spacingAndGlyphs" >100E</text>
<text x="1.5" y="754.2" font-size="30" text-anchor="start" font-weight="normal" textLength="55.0" lengthAdjust="spacingAndGlyphs" >30N</text>
<text x="37.9" y="1059.3" font-size="30.2" text-anchor="start" font-weight="normal" >0</text>
<rect x="757.6" y="643.8" width="609.0" height="406.0" fill="none" stroke="#111" stroke-width="3.5"/>
<path d="M757.6 643.8 v-7.5 M757.6 1049.8 v7.5" stroke="#111" stroke-width="1.5"/>
<path d="M808.4 643.8 v-7.5 M808.4 1049.8 v7.5" stroke="#111" stroke-width="1.5"/>
<path d="M859.1 643.8 v-15 M859.1 1049.8 v15" stroke="#111" stroke-width="3.4"/>
<path d="M909.9 643.8 v-7.5 M909.9 1049.8 v7.5" stroke="#111" stroke-width="1.5"/>
<path d="M960.6 643.8 v-7.5 M960.6 1049.8 v7.5" stroke="#111" stroke-width="1.5"/>
<path d="M1011.4 643.8 v-7.5 M1011.4 1049.8 v7.5" stroke="#111" stroke-width="1.5"/>
<path d="M1062.1 643.8 v-15 M1062.1 1049.8 v15" stroke="#111" stroke-width="3.4"/>
<path d="M1112.8 643.8 v-7.5 M1112.8 1049.8 v7.5" stroke="#111" stroke-width="1.5"/>
<path d="M1163.6 643.8 v-7.5 M1163.6 1049.8 v7.5" stroke="#111" stroke-width="1.5"/>
<path d="M1214.3 643.8 v-7.5 M1214.3 1049.8 v7.5" stroke="#111" stroke-width="1.5"/>
<path d="M1265.1 643.8 v-15 M1265.1 1049.8 v15" stroke="#111" stroke-width="3.4"/>
<path d="M1315.8 643.8 v-7.5 M1315.8 1049.8 v7.5" stroke="#111" stroke-width="1.5"/>
<path d="M1366.6 643.8 v-7.5 M1366.6 1049.8 v7.5" stroke="#111" stroke-width="1.5"/>
<path d="M757.6 1049.8 h-15 M1366.6 1049.8 h15" stroke="#111" stroke-width="3.4" stroke-linecap="round"/>
<path d="M757.6 999.0 h-7.3 M1366.6 999.0 h7.3" stroke="#111" stroke-width="1.5" stroke-linecap="round"/>
<path d="M757.6 948.3 h-7.3 M1366.6 948.3 h7.3" stroke="#111" stroke-width="1.5" stroke-linecap="round"/>
<path d="M757.6 897.5 h-7.3 M1366.6 897.5 h7.3" stroke="#111" stroke-width="1.5" stroke-linecap="round"/>
<path d="M757.6 846.8 h-7.3 M1366.6 846.8 h7.3" stroke="#111" stroke-width="1.5" stroke-linecap="round"/>
<path d="M757.6 796.0 h-7.3 M1366.6 796.0 h7.3" stroke="#111" stroke-width="1.5" stroke-linecap="round"/>
<path d="M757.6 745.3 h-15 M1366.6 745.3 h15" stroke="#111" stroke-width="3.4" stroke-linecap="round"/>
<path d="M757.6 694.5 h-7.3 M1366.6 694.5 h7.3" stroke="#111" stroke-width="1.5" stroke-linecap="round"/>
<path d="M757.6 643.8 h-7.3 M1366.6 643.8 h7.3" stroke="#111" stroke-width="1.5" stroke-linecap="round"/>
<text x="858.9" y="617.1" font-size="30.5" text-anchor="middle" font-weight="normal" textLength="54.3" lengthAdjust="spacingAndGlyphs" >60E</text>
<text x="1061.9" y="617.1" font-size="30.5" text-anchor="middle" font-weight="normal" textLength="54.3" lengthAdjust="spacingAndGlyphs" >80E</text>
<text x="1264.9" y="617.1" font-size="30.5" text-anchor="middle" font-weight="normal" textLength="71.2" lengthAdjust="spacingAndGlyphs" >100E</text>
<text x="1393.4" y="752.6" font-size="30" text-anchor="start" font-weight="normal" textLength="55.0" lengthAdjust="spacingAndGlyphs" >30N</text>
<text x="1393.4" y="1057.1" font-size="30.2" text-anchor="start" font-weight="normal" >0</text>
<rect x="81.1" y="1248.4" width="609.0" height="406.0" fill="none" stroke="#111" stroke-width="3.5"/>
<path d="M81.1 1248.4 v-7.5 M81.1 1654.4 v7.5" stroke="#111" stroke-width="1.5"/>
<path d="M131.8 1248.4 v-7.5 M131.8 1654.4 v7.5" stroke="#111" stroke-width="1.5"/>
<path d="M182.6 1248.4 v-15 M182.6 1654.4 v15" stroke="#111" stroke-width="3.4"/>
<path d="M233.3 1248.4 v-7.5 M233.3 1654.4 v7.5" stroke="#111" stroke-width="1.5"/>
<path d="M284.1 1248.4 v-7.5 M284.1 1654.4 v7.5" stroke="#111" stroke-width="1.5"/>
<path d="M334.9 1248.4 v-7.5 M334.9 1654.4 v7.5" stroke="#111" stroke-width="1.5"/>
<path d="M385.6 1248.4 v-15 M385.6 1654.4 v15" stroke="#111" stroke-width="3.4"/>
<path d="M436.4 1248.4 v-7.5 M436.4 1654.4 v7.5" stroke="#111" stroke-width="1.5"/>
<path d="M487.1 1248.4 v-7.5 M487.1 1654.4 v7.5" stroke="#111" stroke-width="1.5"/>
<path d="M537.9 1248.4 v-7.5 M537.9 1654.4 v7.5" stroke="#111" stroke-width="1.5"/>
<path d="M588.6 1248.4 v-15 M588.6 1654.4 v15" stroke="#111" stroke-width="3.4"/>
<path d="M639.4 1248.4 v-7.5 M639.4 1654.4 v7.5" stroke="#111" stroke-width="1.5"/>
<path d="M690.1 1248.4 v-7.5 M690.1 1654.4 v7.5" stroke="#111" stroke-width="1.5"/>
<path d="M81.1 1654.4 h-15 M690.1 1654.4 h15" stroke="#111" stroke-width="3.4" stroke-linecap="round"/>
<path d="M81.1 1603.7 h-7.3 M690.1 1603.7 h7.3" stroke="#111" stroke-width="1.5" stroke-linecap="round"/>
<path d="M81.1 1552.9 h-7.3 M690.1 1552.9 h7.3" stroke="#111" stroke-width="1.5" stroke-linecap="round"/>
<path d="M81.1 1502.2 h-7.3 M690.1 1502.2 h7.3" stroke="#111" stroke-width="1.5" stroke-linecap="round"/>
<path d="M81.1 1451.4 h-7.3 M690.1 1451.4 h7.3" stroke="#111" stroke-width="1.5" stroke-linecap="round"/>
<path d="M81.1 1400.7 h-7.3 M690.1 1400.7 h7.3" stroke="#111" stroke-width="1.5" stroke-linecap="round"/>
<path d="M81.1 1349.9 h-15 M690.1 1349.9 h15" stroke="#111" stroke-width="3.4" stroke-linecap="round"/>
<path d="M81.1 1299.2 h-7.3 M690.1 1299.2 h7.3" stroke="#111" stroke-width="1.5" stroke-linecap="round"/>
<path d="M81.1 1248.4 h-7.3 M690.1 1248.4 h7.3" stroke="#111" stroke-width="1.5" stroke-linecap="round"/>
<text x="1.5" y="1360.0" font-size="30" text-anchor="start" font-weight="normal" textLength="55.0" lengthAdjust="spacingAndGlyphs" >30N</text>
<text x="37.9" y="1665.1" font-size="30.2" text-anchor="start" font-weight="normal" >0</text>
<rect x="757.6" y="1248.6" width="609.0" height="406.0" fill="none" stroke="#111" stroke-width="3.5"/>
<path d="M757.6 1248.6 v-7.5 M757.6 1654.6 v7.5" stroke="#111" stroke-width="1.5"/>
<path d="M808.4 1248.6 v-7.5 M808.4 1654.6 v7.5" stroke="#111" stroke-width="1.5"/>
<path d="M859.1 1248.6 v-15 M859.1 1654.6 v15" stroke="#111" stroke-width="3.4"/>
<path d="M909.9 1248.6 v-7.5 M909.9 1654.6 v7.5" stroke="#111" stroke-width="1.5"/>
<path d="M960.6 1248.6 v-7.5 M960.6 1654.6 v7.5" stroke="#111" stroke-width="1.5"/>
<path d="M1011.4 1248.6 v-7.5 M1011.4 1654.6 v7.5" stroke="#111" stroke-width="1.5"/>
<path d="M1062.1 1248.6 v-15 M1062.1 1654.6 v15" stroke="#111" stroke-width="3.4"/>
<path d="M1112.8 1248.6 v-7.5 M1112.8 1654.6 v7.5" stroke="#111" stroke-width="1.5"/>
<path d="M1163.6 1248.6 v-7.5 M1163.6 1654.6 v7.5" stroke="#111" stroke-width="1.5"/>
<path d="M1214.3 1248.6 v-7.5 M1214.3 1654.6 v7.5" stroke="#111" stroke-width="1.5"/>
<path d="M1265.1 1248.6 v-15 M1265.1 1654.6 v15" stroke="#111" stroke-width="3.4"/>
<path d="M1315.8 1248.6 v-7.5 M1315.8 1654.6 v7.5" stroke="#111" stroke-width="1.5"/>
<path d="M1366.6 1248.6 v-7.5 M1366.6 1654.6 v7.5" stroke="#111" stroke-width="1.5"/>
<path d="M757.6 1654.6 h-15 M1366.6 1654.6 h15" stroke="#111" stroke-width="3.4" stroke-linecap="round"/>
<path d="M757.6 1603.8 h-7.3 M1366.6 1603.8 h7.3" stroke="#111" stroke-width="1.5" stroke-linecap="round"/>
<path d="M757.6 1553.1 h-7.3 M1366.6 1553.1 h7.3" stroke="#111" stroke-width="1.5" stroke-linecap="round"/>
<path d="M757.6 1502.3 h-7.3 M1366.6 1502.3 h7.3" stroke="#111" stroke-width="1.5" stroke-linecap="round"/>
<path d="M757.6 1451.6 h-7.3 M1366.6 1451.6 h7.3" stroke="#111" stroke-width="1.5" stroke-linecap="round"/>
<path d="M757.6 1400.8 h-7.3 M1366.6 1400.8 h7.3" stroke="#111" stroke-width="1.5" stroke-linecap="round"/>
<path d="M757.6 1350.1 h-15 M1366.6 1350.1 h15" stroke="#111" stroke-width="3.4" stroke-linecap="round"/>
<path d="M757.6 1299.3 h-7.3 M1366.6 1299.3 h7.3" stroke="#111" stroke-width="1.5" stroke-linecap="round"/>
<path d="M757.6 1248.6 h-7.3 M1366.6 1248.6 h7.3" stroke="#111" stroke-width="1.5" stroke-linecap="round"/>
<text x="1393.4" y="1360.7" font-size="30" text-anchor="start" font-weight="normal" textLength="55.0" lengthAdjust="spacingAndGlyphs" >30N</text>
<text x="1393.4" y="1665.2" font-size="30.2" text-anchor="start" font-weight="normal" >0</text>
<rect x="81.1" y="1853.5" width="609.0" height="406.0" fill="none" stroke="#111" stroke-width="3.5"/>
<path d="M81.1 1853.5 v-7.5 M81.1 2259.5 v7.5" stroke="#111" stroke-width="1.5"/>
<path d="M131.8 1853.5 v-7.5 M131.8 2259.5 v7.5" stroke="#111" stroke-width="1.5"/>
<path d="M182.6 1853.5 v-15 M182.6 2259.5 v15" stroke="#111" stroke-width="3.4"/>
<path d="M233.3 1853.5 v-7.5 M233.3 2259.5 v7.5" stroke="#111" stroke-width="1.5"/>
<path d="M284.1 1853.5 v-7.5 M284.1 2259.5 v7.5" stroke="#111" stroke-width="1.5"/>
<path d="M334.9 1853.5 v-7.5 M334.9 2259.5 v7.5" stroke="#111" stroke-width="1.5"/>
<path d="M385.6 1853.5 v-15 M385.6 2259.5 v15" stroke="#111" stroke-width="3.4"/>
<path d="M436.4 1853.5 v-7.5 M436.4 2259.5 v7.5" stroke="#111" stroke-width="1.5"/>
<path d="M487.1 1853.5 v-7.5 M487.1 2259.5 v7.5" stroke="#111" stroke-width="1.5"/>
<path d="M537.9 1853.5 v-7.5 M537.9 2259.5 v7.5" stroke="#111" stroke-width="1.5"/>
<path d="M588.6 1853.5 v-15 M588.6 2259.5 v15" stroke="#111" stroke-width="3.4"/>
<path d="M639.4 1853.5 v-7.5 M639.4 2259.5 v7.5" stroke="#111" stroke-width="1.5"/>
<path d="M690.1 1853.5 v-7.5 M690.1 2259.5 v7.5" stroke="#111" stroke-width="1.5"/>
<path d="M81.1 2259.5 h-15 M690.1 2259.5 h15" stroke="#111" stroke-width="3.4" stroke-linecap="round"/>
<path d="M81.1 2208.8 h-7.3 M690.1 2208.8 h7.3" stroke="#111" stroke-width="1.5" stroke-linecap="round"/>
<path d="M81.1 2158.0 h-7.3 M690.1 2158.0 h7.3" stroke="#111" stroke-width="1.5" stroke-linecap="round"/>
<path d="M81.1 2107.2 h-7.3 M690.1 2107.2 h7.3" stroke="#111" stroke-width="1.5" stroke-linecap="round"/>
<path d="M81.1 2056.5 h-7.3 M690.1 2056.5 h7.3" stroke="#111" stroke-width="1.5" stroke-linecap="round"/>
<path d="M81.1 2005.8 h-7.3 M690.1 2005.8 h7.3" stroke="#111" stroke-width="1.5" stroke-linecap="round"/>
<path d="M81.1 1955.0 h-15 M690.1 1955.0 h15" stroke="#111" stroke-width="3.4" stroke-linecap="round"/>
<path d="M81.1 1904.2 h-7.3 M690.1 1904.2 h7.3" stroke="#111" stroke-width="1.5" stroke-linecap="round"/>
<path d="M81.1 1853.5 h-7.3 M690.1 1853.5 h7.3" stroke="#111" stroke-width="1.5" stroke-linecap="round"/>
<text x="1.5" y="1965.1" font-size="30" text-anchor="start" font-weight="normal" textLength="55.0" lengthAdjust="spacingAndGlyphs" >30N</text>
<text x="37.9" y="2270.2" font-size="30.2" text-anchor="start" font-weight="normal" >0</text>
<rect x="757.6" y="1853.7" width="609.0" height="406.0" fill="none" stroke="#111" stroke-width="3.5"/>
<path d="M757.6 1853.7 v-7.5 M757.6 2259.7 v7.5" stroke="#111" stroke-width="1.5"/>
<path d="M808.4 1853.7 v-7.5 M808.4 2259.7 v7.5" stroke="#111" stroke-width="1.5"/>
<path d="M859.1 1853.7 v-15 M859.1 2259.7 v15" stroke="#111" stroke-width="3.4"/>
<path d="M909.9 1853.7 v-7.5 M909.9 2259.7 v7.5" stroke="#111" stroke-width="1.5"/>
<path d="M960.6 1853.7 v-7.5 M960.6 2259.7 v7.5" stroke="#111" stroke-width="1.5"/>
<path d="M1011.4 1853.7 v-7.5 M1011.4 2259.7 v7.5" stroke="#111" stroke-width="1.5"/>
<path d="M1062.1 1853.7 v-15 M1062.1 2259.7 v15" stroke="#111" stroke-width="3.4"/>
<path d="M1112.8 1853.7 v-7.5 M1112.8 2259.7 v7.5" stroke="#111" stroke-width="1.5"/>
<path d="M1163.6 1853.7 v-7.5 M1163.6 2259.7 v7.5" stroke="#111" stroke-width="1.5"/>
<path d="M1214.3 1853.7 v-7.5 M1214.3 2259.7 v7.5" stroke="#111" stroke-width="1.5"/>
<path d="M1265.1 1853.7 v-15 M1265.1 2259.7 v15" stroke="#111" stroke-width="3.4"/>
<path d="M1315.8 1853.7 v-7.5 M1315.8 2259.7 v7.5" stroke="#111" stroke-width="1.5"/>
<path d="M1366.6 1853.7 v-7.5 M1366.6 2259.7 v7.5" stroke="#111" stroke-width="1.5"/>
<path d="M757.6 2259.7 h-15 M1366.6 2259.7 h15" stroke="#111" stroke-width="3.4" stroke-linecap="round"/>
<path d="M757.6 2208.9 h-7.3 M1366.6 2208.9 h7.3" stroke="#111" stroke-width="1.5" stroke-linecap="round"/>
<path d="M757.6 2158.2 h-7.3 M1366.6 2158.2 h7.3" stroke="#111" stroke-width="1.5" stroke-linecap="round"/>
<path d="M757.6 2107.4 h-7.3 M1366.6 2107.4 h7.3" stroke="#111" stroke-width="1.5" stroke-linecap="round"/>
<path d="M757.6 2056.7 h-7.3 M1366.6 2056.7 h7.3" stroke="#111" stroke-width="1.5" stroke-linecap="round"/>
<path d="M757.6 2006.0 h-7.3 M1366.6 2006.0 h7.3" stroke="#111" stroke-width="1.5" stroke-linecap="round"/>
<path d="M757.6 1955.2 h-15 M1366.6 1955.2 h15" stroke="#111" stroke-width="3.4" stroke-linecap="round"/>
<path d="M757.6 1904.5 h-7.3 M1366.6 1904.5 h7.3" stroke="#111" stroke-width="1.5" stroke-linecap="round"/>
<path d="M757.6 1853.7 h-7.3 M1366.6 1853.7 h7.3" stroke="#111" stroke-width="1.5" stroke-linecap="round"/>
<text x="1393.4" y="1962.7" font-size="30" text-anchor="start" font-weight="normal" textLength="55.0" lengthAdjust="spacingAndGlyphs" >30N</text>
<text x="1393.4" y="2267.2" font-size="30.2" text-anchor="start" font-weight="normal" >0</text>
<text x="244" y="571.3" font-size="47.6" text-anchor="start" font-weight="bold" textLength="304.3" lengthAdjust="spacingAndGlyphs" >127k-12k DJF</text>
<text x="915" y="579.4" font-size="47.6" text-anchor="start" font-weight="bold" textLength="303.2" lengthAdjust="spacingAndGlyphs" >127k-12k JJA</text>
<rect x="76.90" y="1075.7" width="28.00" height="24.8" fill="#7a621d"/>
<rect x="104.60" y="1075.7" width="28.00" height="24.8" fill="#9f5f1c"/>
<rect x="132.31" y="1075.7" width="28.00" height="24.8" fill="#b06f22"/>
<rect x="160.01" y="1075.7" width="28.00" height="24.8" fill="#b97a30"/>
<rect x="187.72" y="1075.7" width="28.00" height="24.8" fill="#c08a40"/>
<rect x="215.42" y="1075.7" width="28.00" height="24.8" fill="#c6a257"/>
<rect x="243.13" y="1075.7" width="28.00" height="24.8" fill="#d3ba70"/>
<rect x="270.83" y="1075.7" width="28.00" height="24.8" fill="#e3cf95"/>
<rect x="298.54" y="1075.7" width="28.00" height="24.8" fill="#eae1b2"/>
<rect x="326.24" y="1075.7" width="28.00" height="24.8" fill="#f0edd3"/>
<rect x="353.95" y="1075.7" width="28.00" height="24.8" fill="#f4f7ea"/>
<rect x="381.65" y="1075.7" width="28.00" height="24.8" fill="#eff4f1"/>
<rect x="409.35" y="1075.7" width="28.00" height="24.8" fill="#e0f0eb"/>
<rect x="437.06" y="1075.7" width="28.00" height="24.8" fill="#d2f6ea"/>
<rect x="464.76" y="1075.7" width="28.00" height="24.8" fill="#bcf2e0"/>
<rect x="492.47" y="1075.7" width="28.00" height="24.8" fill="#a8efd6"/>
<rect x="520.17" y="1075.7" width="28.00" height="24.8" fill="#8adfc4"/>
<rect x="547.88" y="1075.7" width="28.00" height="24.8" fill="#6cbca6"/>
<rect x="575.58" y="1075.7" width="28.00" height="24.8" fill="#57a78f"/>
<rect x="603.29" y="1075.7" width="28.00" height="24.8" fill="#4b9a82"/>
<rect x="630.99" y="1075.7" width="28.00" height="24.8" fill="#3d8670"/>
<rect x="658.70" y="1075.7" width="28.00" height="24.8" fill="#2f7a5f"/>
<path d="M104.60 1075.7v24.8M132.31 1075.7v24.8M160.01 1075.7v24.8M187.72 1075.7v24.8M215.42 1075.7v24.8M243.13 1075.7v24.8M270.83 1075.7v24.8M298.54 1075.7v24.8M326.24 1075.7v24.8M353.95 1075.7v24.8M381.65 1075.7v24.8M409.35 1075.7v24.8M437.06 1075.7v24.8M464.76 1075.7v24.8M492.47 1075.7v24.8M520.17 1075.7v24.8M547.88 1075.7v24.8M575.58 1075.7v24.8M603.29 1075.7v24.8M630.99 1075.7v24.8M658.70 1075.7v24.8" stroke="#222" stroke-width="0.8" fill="none"/>
<rect x="76.9" y="1075.7" width="609.5" height="24.8" fill="none" stroke="#555" stroke-width="0.9"/>
<rect x="756.10" y="1075.7" width="14.82" height="24.8" fill="#7a621d"/>
<rect x="770.62" y="1075.7" width="14.82" height="24.8" fill="#85611d"/>
<rect x="785.14" y="1075.7" width="14.82" height="24.8" fill="#98601c"/>
<rect x="799.66" y="1075.7" width="14.82" height="24.8" fill="#a5641e"/>
<rect x="814.18" y="1075.7" width="14.82" height="24.8" fill="#ae6d21"/>
<rect x="828.70" y="1075.7" width="14.82" height="24.8" fill="#b37327"/>
<rect x="843.21" y="1075.7" width="14.82" height="24.8" fill="#b8792f"/>
<rect x="857.73" y="1075.7" width="14.82" height="24.8" fill="#bc8137"/>
<rect x="872.25" y="1075.7" width="14.82" height="24.8" fill="#c0893f"/>
<rect x="886.77" y="1075.7" width="14.82" height="24.8" fill="#c3954b"/>
<rect x="901.29" y="1075.7" width="14.82" height="24.8" fill="#c6a257"/>
<rect x="915.81" y="1075.7" width="14.82" height="24.8" fill="#cdaf64"/>
<rect x="930.33" y="1075.7" width="14.82" height="24.8" fill="#d4bb72"/>
<rect x="944.85" y="1075.7" width="14.82" height="24.8" fill="#dcc685"/>
<rect x="959.37" y="1075.7" width="14.82" height="24.8" fill="#e4d198"/>
<rect x="973.89" y="1075.7" width="14.82" height="24.8" fill="#e7daa7"/>
<rect x="988.40" y="1075.7" width="14.82" height="24.8" fill="#ebe3b7"/>
<rect x="1002.92" y="1075.7" width="14.82" height="24.8" fill="#eee9c8"/>
<rect x="1017.44" y="1075.7" width="14.82" height="24.8" fill="#f1efd7"/>
<rect x="1031.96" y="1075.7" width="14.82" height="24.8" fill="#f3f4e3"/>
<rect x="1046.48" y="1075.7" width="14.82" height="24.8" fill="#f3f6ec"/>
<rect x="1061.00" y="1075.7" width="14.82" height="24.8" fill="#f0f5ef"/>
<rect x="1075.52" y="1075.7" width="14.82" height="24.8" fill="#ebf3ef"/>
<rect x="1090.04" y="1075.7" width="14.82" height="24.8" fill="#e3f1ec"/>
<rect x="1104.56" y="1075.7" width="14.82" height="24.8" fill="#dbf2eb"/>
<rect x="1119.08" y="1075.7" width="14.82" height="24.8" fill="#d4f5ea"/>
<rect x="1133.60" y="1075.7" width="14.82" height="24.8" fill="#caf4e6"/>
<rect x="1148.11" y="1075.7" width="14.82" height="24.8" fill="#bef2e1"/>
<rect x="1162.63" y="1075.7" width="14.82" height="24.8" fill="#b3f1dc"/>
<rect x="1177.15" y="1075.7" width="14.82" height="24.8" fill="#a9efd6"/>
<rect x="1191.67" y="1075.7" width="14.82" height="24.8" fill="#9ae7cd"/>
<rect x="1206.19" y="1075.7" width="14.82" height="24.8" fill="#8adfc4"/>
<rect x="1220.71" y="1075.7" width="14.82" height="24.8" fill="#7acdb4"/>
<rect x="1235.23" y="1075.7" width="14.82" height="24.8" fill="#6bbba5"/>
<rect x="1249.75" y="1075.7" width="14.82" height="24.8" fill="#60b099"/>
<rect x="1264.27" y="1075.7" width="14.82" height="24.8" fill="#56a68e"/>
<rect x="1278.79" y="1075.7" width="14.82" height="24.8" fill="#509f87"/>
<rect x="1293.30" y="1075.7" width="14.82" height="24.8" fill="#49977f"/>
<rect x="1307.82" y="1075.7" width="14.82" height="24.8" fill="#428d76"/>
<rect x="1322.34" y="1075.7" width="14.82" height="24.8" fill="#3a846d"/>
<rect x="1336.86" y="1075.7" width="14.82" height="24.8" fill="#337d64"/>
<rect x="1351.38" y="1075.7" width="14.82" height="24.8" fill="#2f7a5f"/>
<path d="M770.62 1075.7v24.8M785.14 1075.7v24.8M799.66 1075.7v24.8M814.18 1075.7v24.8M828.70 1075.7v24.8M843.21 1075.7v24.8M857.73 1075.7v24.8M872.25 1075.7v24.8M886.77 1075.7v24.8M901.29 1075.7v24.8M915.81 1075.7v24.8M930.33 1075.7v24.8M944.85 1075.7v24.8M959.37 1075.7v24.8M973.89 1075.7v24.8M988.40 1075.7v24.8M1002.92 1075.7v24.8M1017.44 1075.7v24.8M1031.96 1075.7v24.8M1046.48 1075.7v24.8M1061.00 1075.7v24.8M1075.52 1075.7v24.8M1090.04 1075.7v24.8M1104.56 1075.7v24.8M1119.08 1075.7v24.8M1133.60 1075.7v24.8M1148.11 1075.7v24.8M1162.63 1075.7v24.8M1177.15 1075.7v24.8M1191.67 1075.7v24.8M1206.19 1075.7v24.8M1220.71 1075.7v24.8M1235.23 1075.7v24.8M1249.75 1075.7v24.8M1264.27 1075.7v24.8M1278.79 1075.7v24.8M1293.30 1075.7v24.8M1307.82 1075.7v24.8M1322.34 1075.7v24.8M1336.86 1075.7v24.8M1351.38 1075.7v24.8" stroke="#222" stroke-width="0.8" fill="none"/>
<rect x="756.1" y="1075.7" width="609.8" height="24.8" fill="none" stroke="#555" stroke-width="0.9"/>
<text x="103.5" y="1137" font-size="30" text-anchor="middle" font-weight="normal" textLength="24.9" lengthAdjust="spacingAndGlyphs" >-1</text>
<text x="157.7" y="1137" font-size="30" text-anchor="middle" font-weight="normal" textLength="48.3" lengthAdjust="spacingAndGlyphs" >-0.8</text>
<text x="216.3" y="1137" font-size="30" text-anchor="middle" font-weight="normal" textLength="48.3" lengthAdjust="spacingAndGlyphs" >-0.6</text>
<text x="274" y="1137" font-size="30" text-anchor="middle" font-weight="normal" textLength="48.3" lengthAdjust="spacingAndGlyphs" >-0.4</text>
<text x="331" y="1137" font-size="30" text-anchor="middle" font-weight="normal" textLength="48.3" lengthAdjust="spacingAndGlyphs" >-0.2</text>
<text x="389" y="1137" font-size="30" text-anchor="middle" font-weight="normal" textLength="15.6" lengthAdjust="spacingAndGlyphs" >0</text>
<text x="445" y="1137" font-size="30" text-anchor="middle" font-weight="normal" textLength="39.0" lengthAdjust="spacingAndGlyphs" >0.2</text>
<text x="501" y="1137" font-size="30" text-anchor="middle" font-weight="normal" textLength="39.0" lengthAdjust="spacingAndGlyphs" >0.4</text>
<text x="556" y="1137" font-size="30" text-anchor="middle" font-weight="normal" textLength="39.0" lengthAdjust="spacingAndGlyphs" >0.6</text>
<text x="611.5" y="1137" font-size="30" text-anchor="middle" font-weight="normal" textLength="39.0" lengthAdjust="spacingAndGlyphs" >0.8</text>
<text x="664" y="1137" font-size="30" text-anchor="middle" font-weight="normal" textLength="15.6" lengthAdjust="spacingAndGlyphs" >1</text>
<text x="770.7" y="1137" font-size="30" text-anchor="middle" font-weight="normal" textLength="24.9" lengthAdjust="spacingAndGlyphs" >-4</text>
<text x="846.3" y="1137" font-size="30" text-anchor="middle" font-weight="normal" textLength="24.9" lengthAdjust="spacingAndGlyphs" >-3</text>
<text x="919.4" y="1137" font-size="30" text-anchor="middle" font-weight="normal" textLength="24.9" lengthAdjust="spacingAndGlyphs" >-2</text>
<text x="989.3" y="1137" font-size="30" text-anchor="middle" font-weight="normal" textLength="24.9" lengthAdjust="spacingAndGlyphs" >-1</text>
<text x="1066.5" y="1137" font-size="30" text-anchor="middle" font-weight="normal" textLength="15.6" lengthAdjust="spacingAndGlyphs" >0</text>
<text x="1137.8" y="1137" font-size="30" text-anchor="middle" font-weight="normal" textLength="15.6" lengthAdjust="spacingAndGlyphs" >1</text>
<text x="1210" y="1137" font-size="30" text-anchor="middle" font-weight="normal" textLength="15.6" lengthAdjust="spacingAndGlyphs" >2</text>
<text x="1283.5" y="1137" font-size="30" text-anchor="middle" font-weight="normal" textLength="15.6" lengthAdjust="spacingAndGlyphs" >3</text>
<text x="1356.6" y="1137" font-size="30" text-anchor="middle" font-weight="normal" textLength="15.6" lengthAdjust="spacingAndGlyphs" >4</text>
<text x="77.2" y="1185" font-size="48.1" text-anchor="start" font-weight="normal" textLength="470" lengthAdjust="spacingAndGlyphs" >Precipitation (mm/day)</text>
<rect x="79.00" y="1682" width="28.03" height="24.5" fill="#4e2ca8"/>
<rect x="106.73" y="1682" width="28.03" height="24.5" fill="#4e2ca8"/>
<rect x="134.45" y="1682" width="28.03" height="24.5" fill="#4e2ca8"/>
<rect x="162.18" y="1682" width="28.03" height="24.5" fill="#4e2ca8"/>
<rect x="189.91" y="1682" width="28.03" height="24.5" fill="#4e2ca8"/>
<rect x="217.64" y="1682" width="28.03" height="24.5" fill="#4e2ca8"/>
<rect x="245.36" y="1682" width="28.03" height="24.5" fill="#5d4cb4"/>
<rect x="273.09" y="1682" width="28.03" height="24.5" fill="#7a6fc5"/>
<rect x="300.82" y="1682" width="28.03" height="24.5" fill="#9c96d9"/>
<rect x="328.55" y="1682" width="28.03" height="24.5" fill="#b7b5e6"/>
<rect x="356.27" y="1682" width="28.03" height="24.5" fill="#d2d2f2"/>
<rect x="384.00" y="1682" width="28.03" height="24.5" fill="#f8dada"/>
<rect x="411.73" y="1682" width="28.03" height="24.5" fill="#f4bcc0"/>
<rect x="439.45" y="1682" width="28.03" height="24.5" fill="#f19da2"/>
<rect x="467.18" y="1682" width="28.03" height="24.5" fill="#ee8187"/>
<rect x="494.91" y="1682" width="28.03" height="24.5" fill="#ea6468"/>
<rect x="522.64" y="1682" width="28.03" height="24.5" fill="#e5473f"/>
<rect x="550.36" y="1682" width="28.03" height="24.5" fill="#e23a1e"/>
<rect x="578.09" y="1682" width="28.03" height="24.5" fill="#e23a1e"/>
<rect x="605.82" y="1682" width="28.03" height="24.5" fill="#e23a1e"/>
<rect x="633.55" y="1682" width="28.03" height="24.5" fill="#e23a1e"/>
<rect x="661.27" y="1682" width="28.03" height="24.5" fill="#e23a1e"/>
<path d="M106.73 1682v24.5M134.45 1682v24.5M162.18 1682v24.5M189.91 1682v24.5M217.64 1682v24.5M245.36 1682v24.5M273.09 1682v24.5M300.82 1682v24.5M328.55 1682v24.5M356.27 1682v24.5M384.00 1682v24.5M411.73 1682v24.5M439.45 1682v24.5M467.18 1682v24.5M494.91 1682v24.5M522.64 1682v24.5M550.36 1682v24.5M578.09 1682v24.5M605.82 1682v24.5M633.55 1682v24.5M661.27 1682v24.5" stroke="#222" stroke-width="0.8" fill="none"/>
<rect x="79" y="1682" width="610" height="24.5" fill="none" stroke="#555" stroke-width="0.9"/>
<rect x="756.00" y="1682" width="51.13" height="24.5" fill="#4e2ca8"/>
<rect x="806.83" y="1682" width="51.13" height="24.5" fill="#4f2aa6"/>
<rect x="857.67" y="1682" width="51.13" height="24.5" fill="#5436a9"/>
<rect x="908.50" y="1682" width="51.13" height="24.5" fill="#7064bd"/>
<rect x="959.33" y="1682" width="51.13" height="24.5" fill="#a09cdc"/>
<rect x="1010.17" y="1682" width="51.13" height="24.5" fill="#cccbee"/>
<rect x="1061.00" y="1682" width="51.13" height="24.5" fill="#f6ced2"/>
<rect x="1111.83" y="1682" width="51.13" height="24.5" fill="#f2a6aa"/>
<rect x="1162.67" y="1682" width="51.13" height="24.5" fill="#ee7478"/>
<rect x="1213.50" y="1682" width="51.13" height="24.5" fill="#e84f49"/>
<rect x="1264.33" y="1682" width="51.13" height="24.5" fill="#e23a1e"/>
<rect x="1315.17" y="1682" width="51.13" height="24.5" fill="#e23e1e"/>
<path d="M806.83 1682v24.5M857.67 1682v24.5M908.50 1682v24.5M959.33 1682v24.5M1010.17 1682v24.5M1061.00 1682v24.5M1111.83 1682v24.5M1162.67 1682v24.5M1213.50 1682v24.5M1264.33 1682v24.5M1315.17 1682v24.5" stroke="#222" stroke-width="0.8" fill="none"/>
<rect x="756" y="1682" width="610" height="24.5" fill="none" stroke="#555" stroke-width="0.9"/>
<text x="104" y="1741.5" font-size="30.2" text-anchor="middle" font-weight="normal" textLength="41.5" lengthAdjust="spacingAndGlyphs" >-20</text>
<text x="243.5" y="1741.5" font-size="30.2" text-anchor="middle" font-weight="normal" textLength="41.5" lengthAdjust="spacingAndGlyphs" >-10</text>
<text x="387.5" y="1741.5" font-size="30.2" text-anchor="middle" font-weight="normal" textLength="16.0" lengthAdjust="spacingAndGlyphs" >0</text>
<text x="520" y="1741.5" font-size="30.2" text-anchor="middle" font-weight="normal" textLength="31.9" lengthAdjust="spacingAndGlyphs" >10</text>
<text x="659" y="1741.5" font-size="30.2" text-anchor="middle" font-weight="normal" textLength="31.9" lengthAdjust="spacingAndGlyphs" >20</text>
<text x="756.9" y="1741.5" font-size="30.2" text-anchor="middle" font-weight="normal" textLength="41.5" lengthAdjust="spacingAndGlyphs" >-30</text>
<text x="855.9" y="1741.5" font-size="30.2" text-anchor="middle" font-weight="normal" textLength="41.5" lengthAdjust="spacingAndGlyphs" >-20</text>
<text x="955" y="1741.5" font-size="30.2" text-anchor="middle" font-weight="normal" textLength="41.5" lengthAdjust="spacingAndGlyphs" >-10</text>
<text x="1065.5" y="1741.5" font-size="30.2" text-anchor="middle" font-weight="normal" textLength="16.0" lengthAdjust="spacingAndGlyphs" >0</text>
<text x="1163.5" y="1741.5" font-size="30.2" text-anchor="middle" font-weight="normal" textLength="31.9" lengthAdjust="spacingAndGlyphs" >10</text>
<text x="1269" y="1741.5" font-size="30.2" text-anchor="middle" font-weight="normal" textLength="31.9" lengthAdjust="spacingAndGlyphs" >20</text>
<text x="1362.5" y="1741.5" font-size="30.2" text-anchor="middle" font-weight="normal" textLength="31.9" lengthAdjust="spacingAndGlyphs" >30</text>
<text x="82" y="1790" font-size="48.1" text-anchor="start" font-weight="normal" textLength="518" lengthAdjust="spacingAndGlyphs" >Atm. pressure 850 (gpm)</text>
<rect x="82.50" y="2287.5" width="51.13" height="24" fill="#4e2ca8"/>
<rect x="133.33" y="2287.5" width="51.13" height="24" fill="#4f2aa6"/>
<rect x="184.17" y="2287.5" width="51.13" height="24" fill="#5436a9"/>
<rect x="235.00" y="2287.5" width="51.13" height="24" fill="#7064bd"/>
<rect x="285.83" y="2287.5" width="51.13" height="24" fill="#a09cdc"/>
<rect x="336.67" y="2287.5" width="51.13" height="24" fill="#cccbee"/>
<rect x="387.50" y="2287.5" width="51.13" height="24" fill="#f6ced2"/>
<rect x="438.33" y="2287.5" width="51.13" height="24" fill="#f2a6aa"/>
<rect x="489.17" y="2287.5" width="51.13" height="24" fill="#ee7478"/>
<rect x="540.00" y="2287.5" width="51.13" height="24" fill="#e84f49"/>
<rect x="590.83" y="2287.5" width="51.13" height="24" fill="#e23a1e"/>
<rect x="641.67" y="2287.5" width="51.13" height="24" fill="#e23e1e"/>
<path d="M133.33 2287.5v24M184.17 2287.5v24M235.00 2287.5v24M285.83 2287.5v24M336.67 2287.5v24M387.50 2287.5v24M438.33 2287.5v24M489.17 2287.5v24M540.00 2287.5v24M590.83 2287.5v24M641.67 2287.5v24" stroke="#222" stroke-width="0.8" fill="none"/>
<rect x="82.5" y="2287.5" width="610" height="24" fill="none" stroke="#555" stroke-width="0.9"/>
<rect x="756.00" y="2287.5" width="51.13" height="24" fill="#4e2ca8"/>
<rect x="806.83" y="2287.5" width="51.13" height="24" fill="#4f2aa6"/>
<rect x="857.67" y="2287.5" width="51.13" height="24" fill="#5436a9"/>
<rect x="908.50" y="2287.5" width="51.13" height="24" fill="#7064bd"/>
<rect x="959.33" y="2287.5" width="51.13" height="24" fill="#a09cdc"/>
<rect x="1010.17" y="2287.5" width="51.13" height="24" fill="#cccbee"/>
<rect x="1061.00" y="2287.5" width="51.13" height="24" fill="#f6ced2"/>
<rect x="1111.83" y="2287.5" width="51.13" height="24" fill="#f2a6aa"/>
<rect x="1162.67" y="2287.5" width="51.13" height="24" fill="#ee7478"/>
<rect x="1213.50" y="2287.5" width="51.13" height="24" fill="#e84f49"/>
<rect x="1264.33" y="2287.5" width="51.13" height="24" fill="#e23a1e"/>
<rect x="1315.17" y="2287.5" width="51.13" height="24" fill="#e23e1e"/>
<path d="M806.83 2287.5v24M857.67 2287.5v24M908.50 2287.5v24M959.33 2287.5v24M1010.17 2287.5v24M1061.00 2287.5v24M1111.83 2287.5v24M1162.67 2287.5v24M1213.50 2287.5v24M1264.33 2287.5v24M1315.17 2287.5v24" stroke="#222" stroke-width="0.8" fill="none"/>
<rect x="756" y="2287.5" width="610" height="24" fill="none" stroke="#555" stroke-width="0.9"/>
<text x="81" y="2351" font-size="30" text-anchor="middle" font-weight="normal" textLength="24.9" lengthAdjust="spacingAndGlyphs" >-6</text>
<text x="176" y="2351" font-size="30" text-anchor="middle" font-weight="normal" textLength="24.9" lengthAdjust="spacingAndGlyphs" >-4</text>
<text x="287.5" y="2351" font-size="30" text-anchor="middle" font-weight="normal" textLength="24.9" lengthAdjust="spacingAndGlyphs" >-2</text>
<text x="389" y="2351" font-size="30" text-anchor="middle" font-weight="normal" textLength="15.6" lengthAdjust="spacingAndGlyphs" >0</text>
<text x="492.5" y="2351" font-size="30" text-anchor="middle" font-weight="normal" textLength="15.6" lengthAdjust="spacingAndGlyphs" >2</text>
<text x="590" y="2351" font-size="30" text-anchor="middle" font-weight="normal" textLength="15.6" lengthAdjust="spacingAndGlyphs" >4</text>
<text x="692.5" y="2351" font-size="30" text-anchor="middle" font-weight="normal" textLength="15.6" lengthAdjust="spacingAndGlyphs" >6</text>
<text x="754" y="2351" font-size="30" text-anchor="middle" font-weight="normal" textLength="24.9" lengthAdjust="spacingAndGlyphs" >-6</text>
<text x="850" y="2351" font-size="30" text-anchor="middle" font-weight="normal" textLength="24.9" lengthAdjust="spacingAndGlyphs" >-4</text>
<text x="961" y="2351" font-size="30" text-anchor="middle" font-weight="normal" textLength="24.9" lengthAdjust="spacingAndGlyphs" >-2</text>
<text x="1062.5" y="2351" font-size="30" text-anchor="middle" font-weight="normal" textLength="15.6" lengthAdjust="spacingAndGlyphs" >0</text>
<text x="1166" y="2351" font-size="30" text-anchor="middle" font-weight="normal" textLength="15.6" lengthAdjust="spacingAndGlyphs" >2</text>
<text x="1262.5" y="2351" font-size="30" text-anchor="middle" font-weight="normal" textLength="15.6" lengthAdjust="spacingAndGlyphs" >4</text>
<text x="1365" y="2351" font-size="30" text-anchor="middle" font-weight="normal" textLength="15.6" lengthAdjust="spacingAndGlyphs" >6</text>
<text x="74" y="2395" font-size="48.1" text-anchor="start" font-weight="normal" textLength="525" lengthAdjust="spacingAndGlyphs" >Surface temperature (°K)</text>
</svg></body></html>
